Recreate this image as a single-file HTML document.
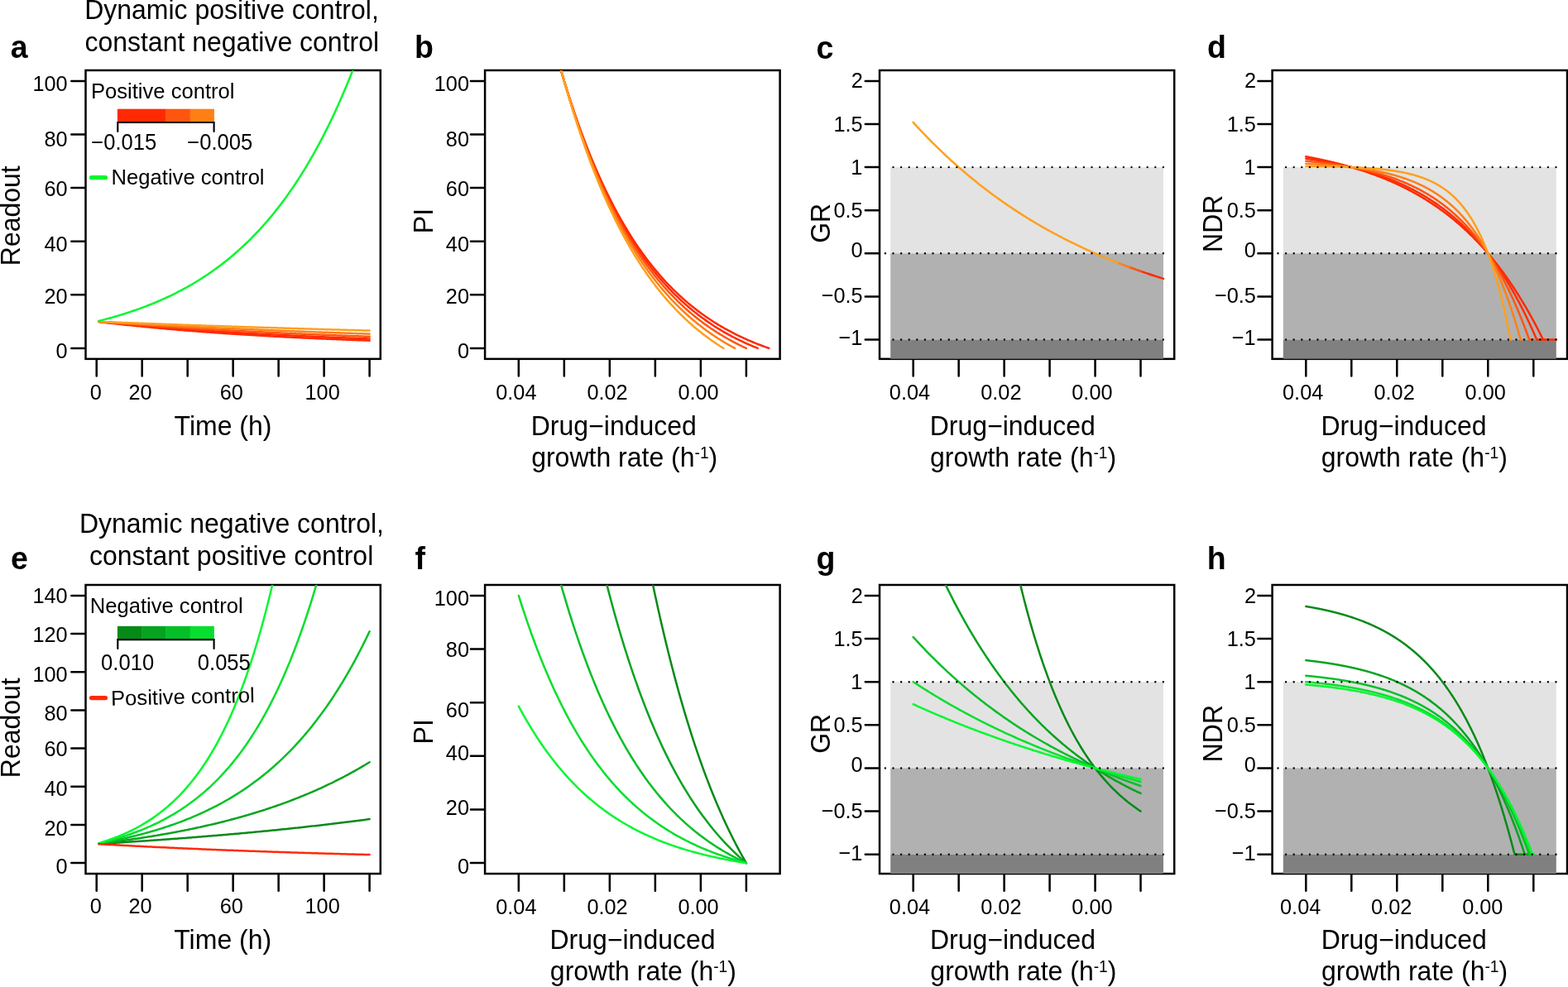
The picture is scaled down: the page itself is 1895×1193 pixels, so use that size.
<!DOCTYPE html>
<html lang="en"><head><meta charset="utf-8"><title>Drug response metrics: PI, GR and NDR</title>
<style>html,body{margin:0;padding:0;background:#fff}body{width:1895px;height:1193px;overflow:hidden}svg{display:block}text{font-family:'Liberation Sans', Arial, Helvetica, sans-serif;fill:#000}</style>
</head><body>
<svg xmlns="http://www.w3.org/2000/svg" width="1895" height="1193" viewBox="0 0 1895 1193">
<rect width="1895" height="1193" fill="#fff"/>
<defs>
<clipPath id="c00"><rect x="103.5" y="85" width="356.3" height="348.85"/></clipPath>
<clipPath id="c01"><rect x="586.1" y="85" width="356.5" height="348.85"/></clipPath>
<clipPath id="c02"><rect x="1063" y="85" width="356.2" height="348.85"/></clipPath>
<clipPath id="c03"><rect x="1537.6" y="85" width="356.4" height="348.85"/></clipPath>
<clipPath id="c10"><rect x="103.5" y="707" width="356.3" height="349.05"/></clipPath>
<clipPath id="c11"><rect x="586.1" y="707" width="356.5" height="349.05"/></clipPath>
<clipPath id="c12"><rect x="1063" y="707" width="356.2" height="349.05"/></clipPath>
<clipPath id="c13"><rect x="1537.6" y="707" width="356.4" height="349.05"/></clipPath>
</defs>
<g id="panel-a">
<rect x="103.5" y="85" width="356.3" height="348.85" fill="none" stroke="#000" stroke-width="2.5"/>
<path d="M116.7 435.1V454.45M171.68 435.1V454.45M226.67 435.1V454.45M281.65 435.1V454.45M336.63 435.1V454.45M391.62 435.1V454.45M446.6 435.1V454.45" stroke="#000" stroke-width="2.5" stroke-linecap="round" fill="none"/>
<path d="M102.25 420.93H86.3M102.25 356.33H86.3M102.25 291.73H86.3M102.25 227.12H86.3M102.25 162.52H86.3M102.25 97.92H86.3" stroke="#000" stroke-width="2.5" stroke-linecap="round" fill="none"/>
<polyline clip-path="url(#c00)" points="119.45,388.96 121.49,389.21 123.54,389.45 125.58,389.7 127.62,389.94 129.67,390.18 131.71,390.41 133.76,390.65 135.8,390.88 137.85,391.11 139.89,391.34 141.94,391.57 143.98,391.8 146.03,392.02 148.07,392.24 150.12,392.46 152.16,392.68 154.21,392.9 156.25,393.12 158.3,393.33 160.34,393.54 162.39,393.75 164.43,393.96 166.47,394.17 168.52,394.38 170.56,394.58 172.61,394.79 174.65,394.99 176.7,395.19 178.74,395.38 180.79,395.58 182.83,395.78 184.88,395.97 186.92,396.16 188.97,396.35 191.01,396.54 193.06,396.73 195.1,396.92 197.15,397.1 199.19,397.29 201.24,397.47 203.28,397.65 205.32,397.83 207.37,398.01 209.41,398.18 211.46,398.36 213.5,398.53 215.55,398.7 217.59,398.88 219.64,399.04 221.68,399.21 223.73,399.38 225.77,399.55 227.82,399.71 229.86,399.87 231.91,400.04 233.95,400.2 236,400.36 238.04,400.52 240.09,400.67 242.13,400.83 244.17,400.98 246.22,401.14 248.26,401.29 250.31,401.44 252.35,401.59 254.4,401.74 256.44,401.89 258.49,402.04 260.53,402.18 262.58,402.33 264.62,402.47 266.67,402.61 268.71,402.75 270.76,402.89 272.8,403.03 274.85,403.17 276.89,403.31 278.94,403.44 280.98,403.58 283.02,403.71 285.07,403.84 287.11,403.97 289.16,404.1 291.2,404.23 293.25,404.36 295.29,404.49 297.34,404.62 299.38,404.74 301.43,404.87 303.47,404.99 305.52,405.11 307.56,405.24 309.61,405.36 311.65,405.48 313.7,405.6 315.74,405.71 317.79,405.83 319.83,405.95 321.87,406.06 323.92,406.18 325.96,406.29 328.01,406.4 330.05,406.52 332.1,406.63 334.14,406.74 336.19,406.85 338.23,406.95 340.28,407.06 342.32,407.17 344.37,407.28 346.41,407.38 348.46,407.48 350.5,407.59 352.55,407.69 354.59,407.79 356.64,407.89 358.68,407.99 360.72,408.09 362.77,408.19 364.81,408.29 366.86,408.39 368.9,408.49 370.95,408.58 372.99,408.68 375.04,408.77 377.08,408.86 379.13,408.96 381.17,409.05 383.22,409.14 385.26,409.23 387.31,409.32 389.35,409.41 391.4,409.5 393.44,409.59 395.49,409.68 397.53,409.76 399.57,409.85 401.62,409.93 403.66,410.02 405.71,410.1 407.75,410.19 409.8,410.27 411.84,410.35 413.89,410.43 415.93,410.51 417.98,410.59 420.02,410.67 422.07,410.75 424.11,410.83 426.16,410.91 428.2,410.99 430.25,411.06 432.29,411.14 434.34,411.21 436.38,411.29 438.42,411.36 440.47,411.44 442.51,411.51 444.56,411.58 446.6,411.65" fill="none" stroke="#FF2A03" stroke-width="2.5" stroke-linecap="round" stroke-linejoin="round"/>
<polyline clip-path="url(#c00)" points="119.45,388.91 121.49,389.11 123.54,389.32 125.58,389.52 127.62,389.72 129.67,389.92 131.71,390.12 133.76,390.32 135.8,390.52 137.85,390.71 139.89,390.91 141.94,391.1 143.98,391.29 146.03,391.48 148.07,391.67 150.12,391.86 152.16,392.04 154.21,392.23 156.25,392.41 158.3,392.6 160.34,392.78 162.39,392.96 164.43,393.14 166.47,393.32 168.52,393.5 170.56,393.67 172.61,393.85 174.65,394.02 176.7,394.19 178.74,394.37 180.79,394.54 182.83,394.71 184.88,394.87 186.92,395.04 188.97,395.21 191.01,395.37 193.06,395.54 195.1,395.7 197.15,395.86 199.19,396.02 201.24,396.18 203.28,396.34 205.32,396.5 207.37,396.66 209.41,396.81 211.46,396.97 213.5,397.12 215.55,397.28 217.59,397.43 219.64,397.58 221.68,397.73 223.73,397.88 225.77,398.03 227.82,398.17 229.86,398.32 231.91,398.46 233.95,398.61 236,398.75 238.04,398.89 240.09,399.04 242.13,399.18 244.17,399.32 246.22,399.45 248.26,399.59 250.31,399.73 252.35,399.87 254.4,400 256.44,400.14 258.49,400.27 260.53,400.4 262.58,400.53 264.62,400.66 266.67,400.79 268.71,400.92 270.76,401.05 272.8,401.18 274.85,401.31 276.89,401.43 278.94,401.56 280.98,401.68 283.02,401.81 285.07,401.93 287.11,402.05 289.16,402.17 291.2,402.29 293.25,402.41 295.29,402.53 297.34,402.65 299.38,402.77 301.43,402.88 303.47,403 305.52,403.12 307.56,403.23 309.61,403.34 311.65,403.46 313.7,403.57 315.74,403.68 317.79,403.79 319.83,403.9 321.87,404.01 323.92,404.12 325.96,404.23 328.01,404.33 330.05,404.44 332.1,404.55 334.14,404.65 336.19,404.76 338.23,404.86 340.28,404.96 342.32,405.07 344.37,405.17 346.41,405.27 348.46,405.37 350.5,405.47 352.55,405.57 354.59,405.67 356.64,405.77 358.68,405.86 360.72,405.96 362.77,406.06 364.81,406.15 366.86,406.25 368.9,406.34 370.95,406.43 372.99,406.53 375.04,406.62 377.08,406.71 379.13,406.8 381.17,406.89 383.22,406.98 385.26,407.07 387.31,407.16 389.35,407.25 391.4,407.34 393.44,407.43 395.49,407.51 397.53,407.6 399.57,407.69 401.62,407.77 403.66,407.85 405.71,407.94 407.75,408.02 409.8,408.1 411.84,408.19 413.89,408.27 415.93,408.35 417.98,408.43 420.02,408.51 422.07,408.59 424.11,408.67 426.16,408.75 428.2,408.83 430.25,408.91 432.29,408.98 434.34,409.06 436.38,409.14 438.42,409.21 440.47,409.29 442.51,409.36 444.56,409.44 446.6,409.51" fill="none" stroke="#FF2D05" stroke-width="2.5" stroke-linecap="round" stroke-linejoin="round"/>
<polyline clip-path="url(#c00)" points="119.45,388.85 121.49,389.02 123.54,389.18 125.58,389.34 127.62,389.51 129.67,389.67 131.71,389.83 133.76,389.99 135.8,390.15 137.85,390.31 139.89,390.46 141.94,390.62 143.98,390.78 146.03,390.93 148.07,391.09 150.12,391.24 152.16,391.39 154.21,391.54 156.25,391.69 158.3,391.84 160.34,391.99 162.39,392.14 164.43,392.29 166.47,392.44 168.52,392.58 170.56,392.73 172.61,392.88 174.65,393.02 176.7,393.16 178.74,393.31 180.79,393.45 182.83,393.59 184.88,393.73 186.92,393.87 188.97,394.01 191.01,394.15 193.06,394.29 195.1,394.42 197.15,394.56 199.19,394.69 201.24,394.83 203.28,394.96 205.32,395.1 207.37,395.23 209.41,395.36 211.46,395.49 213.5,395.62 215.55,395.75 217.59,395.88 219.64,396.01 221.68,396.14 223.73,396.27 225.77,396.39 227.82,396.52 229.86,396.65 231.91,396.77 233.95,396.9 236,397.02 238.04,397.14 240.09,397.26 242.13,397.39 244.17,397.51 246.22,397.63 248.26,397.75 250.31,397.87 252.35,397.99 254.4,398.1 256.44,398.22 258.49,398.34 260.53,398.45 262.58,398.57 264.62,398.68 266.67,398.8 268.71,398.91 270.76,399.03 272.8,399.14 274.85,399.25 276.89,399.36 278.94,399.47 280.98,399.58 283.02,399.69 285.07,399.8 287.11,399.91 289.16,400.02 291.2,400.13 293.25,400.23 295.29,400.34 297.34,400.45 299.38,400.55 301.43,400.66 303.47,400.76 305.52,400.86 307.56,400.97 309.61,401.07 311.65,401.17 313.7,401.27 315.74,401.37 317.79,401.47 319.83,401.57 321.87,401.67 323.92,401.77 325.96,401.87 328.01,401.97 330.05,402.07 332.1,402.16 334.14,402.26 336.19,402.36 338.23,402.45 340.28,402.55 342.32,402.64 344.37,402.74 346.41,402.83 348.46,402.92 350.5,403.02 352.55,403.11 354.59,403.2 356.64,403.29 358.68,403.38 360.72,403.47 362.77,403.56 364.81,403.65 366.86,403.74 368.9,403.83 370.95,403.92 372.99,404 375.04,404.09 377.08,404.18 379.13,404.26 381.17,404.35 383.22,404.43 385.26,404.52 387.31,404.6 389.35,404.69 391.4,404.77 393.44,404.85 395.49,404.94 397.53,405.02 399.57,405.1 401.62,405.18 403.66,405.26 405.71,405.34 407.75,405.42 409.8,405.5 411.84,405.58 413.89,405.66 415.93,405.74 417.98,405.82 420.02,405.9 422.07,405.97 424.11,406.05 426.16,406.13 428.2,406.2 430.25,406.28 432.29,406.35 434.34,406.43 436.38,406.5 438.42,406.58 440.47,406.65 442.51,406.72 444.56,406.8 446.6,406.87" fill="none" stroke="#FF560F" stroke-width="2.5" stroke-linecap="round" stroke-linejoin="round"/>
<polyline clip-path="url(#c00)" points="119.45,388.8 121.49,388.92 123.54,389.04 125.58,389.17 127.62,389.29 129.67,389.41 131.71,389.53 133.76,389.65 135.8,389.77 137.85,389.9 139.89,390.01 141.94,390.13 143.98,390.25 146.03,390.37 148.07,390.49 150.12,390.61 152.16,390.72 154.21,390.84 156.25,390.96 158.3,391.07 160.34,391.19 162.39,391.3 164.43,391.42 166.47,391.53 168.52,391.64 170.56,391.76 172.61,391.87 174.65,391.98 176.7,392.09 178.74,392.2 180.79,392.32 182.83,392.43 184.88,392.54 186.92,392.65 188.97,392.75 191.01,392.86 193.06,392.97 195.1,393.08 197.15,393.19 199.19,393.29 201.24,393.4 203.28,393.51 205.32,393.61 207.37,393.72 209.41,393.82 211.46,393.93 213.5,394.03 215.55,394.14 217.59,394.24 219.64,394.34 221.68,394.44 223.73,394.55 225.77,394.65 227.82,394.75 229.86,394.85 231.91,394.95 233.95,395.05 236,395.15 238.04,395.25 240.09,395.35 242.13,395.45 244.17,395.55 246.22,395.65 248.26,395.74 250.31,395.84 252.35,395.94 254.4,396.03 256.44,396.13 258.49,396.23 260.53,396.32 262.58,396.42 264.62,396.51 266.67,396.6 268.71,396.7 270.76,396.79 272.8,396.88 274.85,396.98 276.89,397.07 278.94,397.16 280.98,397.25 283.02,397.35 285.07,397.44 287.11,397.53 289.16,397.62 291.2,397.71 293.25,397.8 295.29,397.89 297.34,397.98 299.38,398.06 301.43,398.15 303.47,398.24 305.52,398.33 307.56,398.41 309.61,398.5 311.65,398.59 313.7,398.67 315.74,398.76 317.79,398.85 319.83,398.93 321.87,399.02 323.92,399.1 325.96,399.18 328.01,399.27 330.05,399.35 332.1,399.44 334.14,399.52 336.19,399.6 338.23,399.68 340.28,399.77 342.32,399.85 344.37,399.93 346.41,400.01 348.46,400.09 350.5,400.17 352.55,400.25 354.59,400.33 356.64,400.41 358.68,400.49 360.72,400.57 362.77,400.65 364.81,400.72 366.86,400.8 368.9,400.88 370.95,400.96 372.99,401.03 375.04,401.11 377.08,401.19 379.13,401.26 381.17,401.34 383.22,401.42 385.26,401.49 387.31,401.57 389.35,401.64 391.4,401.72 393.44,401.79 395.49,401.86 397.53,401.94 399.57,402.01 401.62,402.08 403.66,402.16 405.71,402.23 407.75,402.3 409.8,402.37 411.84,402.44 413.89,402.52 415.93,402.59 417.98,402.66 420.02,402.73 422.07,402.8 424.11,402.87 426.16,402.94 428.2,403.01 430.25,403.08 432.29,403.15 434.34,403.21 436.38,403.28 438.42,403.35 440.47,403.42 442.51,403.49 444.56,403.55 446.6,403.62" fill="none" stroke="#FF7F17" stroke-width="2.5" stroke-linecap="round" stroke-linejoin="round"/>
<polyline clip-path="url(#c00)" points="119.45,388.74 121.49,388.82 123.54,388.91 125.58,388.99 127.62,389.07 129.67,389.15 131.71,389.23 133.76,389.32 135.8,389.4 137.85,389.48 139.89,389.56 141.94,389.64 143.98,389.72 146.03,389.8 148.07,389.88 150.12,389.96 152.16,390.04 154.21,390.12 156.25,390.2 158.3,390.28 160.34,390.36 162.39,390.44 164.43,390.52 166.47,390.59 168.52,390.67 170.56,390.75 172.61,390.83 174.65,390.9 176.7,390.98 178.74,391.06 180.79,391.14 182.83,391.21 184.88,391.29 186.92,391.37 188.97,391.44 191.01,391.52 193.06,391.59 195.1,391.67 197.15,391.74 199.19,391.82 201.24,391.89 203.28,391.97 205.32,392.04 207.37,392.12 209.41,392.19 211.46,392.27 213.5,392.34 215.55,392.41 217.59,392.49 219.64,392.56 221.68,392.63 223.73,392.71 225.77,392.78 227.82,392.85 229.86,392.92 231.91,393 233.95,393.07 236,393.14 238.04,393.21 240.09,393.28 242.13,393.35 244.17,393.42 246.22,393.49 248.26,393.57 250.31,393.64 252.35,393.71 254.4,393.78 256.44,393.85 258.49,393.92 260.53,393.99 262.58,394.05 264.62,394.12 266.67,394.19 268.71,394.26 270.76,394.33 272.8,394.4 274.85,394.47 276.89,394.54 278.94,394.6 280.98,394.67 283.02,394.74 285.07,394.81 287.11,394.87 289.16,394.94 291.2,395.01 293.25,395.07 295.29,395.14 297.34,395.21 299.38,395.27 301.43,395.34 303.47,395.41 305.52,395.47 307.56,395.54 309.61,395.6 311.65,395.67 313.7,395.73 315.74,395.8 317.79,395.86 319.83,395.93 321.87,395.99 323.92,396.05 325.96,396.12 328.01,396.18 330.05,396.25 332.1,396.31 334.14,396.37 336.19,396.44 338.23,396.5 340.28,396.56 342.32,396.62 344.37,396.69 346.41,396.75 348.46,396.81 350.5,396.87 352.55,396.94 354.59,397 356.64,397.06 358.68,397.12 360.72,397.18 362.77,397.24 364.81,397.3 366.86,397.37 368.9,397.43 370.95,397.49 372.99,397.55 375.04,397.61 377.08,397.67 379.13,397.73 381.17,397.79 383.22,397.85 385.26,397.91 387.31,397.96 389.35,398.02 391.4,398.08 393.44,398.14 395.49,398.2 397.53,398.26 399.57,398.32 401.62,398.38 403.66,398.43 405.71,398.49 407.75,398.55 409.8,398.61 411.84,398.66 413.89,398.72 415.93,398.78 417.98,398.84 420.02,398.89 422.07,398.95 424.11,399.01 426.16,399.06 428.2,399.12 430.25,399.17 432.29,399.23 434.34,399.29 436.38,399.34 438.42,399.4 440.47,399.45 442.51,399.51 444.56,399.56 446.6,399.62" fill="none" stroke="#FFA01E" stroke-width="2.5" stroke-linecap="round" stroke-linejoin="round"/>
<polyline clip-path="url(#c00)" points="119.45,387.95 121.49,387.44 123.54,386.91 125.58,386.38 127.62,385.85 129.67,385.3 131.71,384.74 133.76,384.18 135.8,383.61 137.85,383.02 139.89,382.43 141.94,381.83 143.98,381.22 146.03,380.61 148.07,379.98 150.12,379.34 152.16,378.69 154.21,378.03 156.25,377.36 158.3,376.68 160.34,376 162.39,375.29 164.43,374.58 166.47,373.86 168.52,373.13 170.56,372.38 172.61,371.63 174.65,370.86 176.7,370.08 178.74,369.28 180.79,368.48 182.83,367.66 184.88,366.83 186.92,365.99 188.97,365.13 191.01,364.26 193.06,363.38 195.1,362.48 197.15,361.57 199.19,360.65 201.24,359.71 203.28,358.75 205.32,357.78 207.37,356.8 209.41,355.8 211.46,354.78 213.5,353.75 215.55,352.71 217.59,351.64 219.64,350.56 221.68,349.47 223.73,348.35 225.77,347.22 227.82,346.07 229.86,344.91 231.91,343.72 233.95,342.52 236,341.3 238.04,340.05 240.09,338.79 242.13,337.51 244.17,336.21 246.22,334.89 248.26,333.55 250.31,332.19 252.35,330.81 254.4,329.4 256.44,327.98 258.49,326.53 260.53,325.06 262.58,323.56 264.62,322.04 266.67,320.5 268.71,318.94 270.76,317.35 272.8,315.73 274.85,314.09 276.89,312.43 278.94,310.74 280.98,309.02 283.02,307.28 285.07,305.5 287.11,303.71 289.16,301.88 291.2,300.02 293.25,298.14 295.29,296.22 297.34,294.28 299.38,292.31 301.43,290.3 303.47,288.27 305.52,286.2 307.56,284.1 309.61,281.97 311.65,279.8 313.7,277.6 315.74,275.37 317.79,273.1 319.83,270.79 321.87,268.45 323.92,266.08 325.96,263.66 328.01,261.21 330.05,258.72 332.1,256.19 334.14,253.63 336.19,251.02 338.23,248.37 340.28,245.68 342.32,242.95 344.37,240.18 346.41,237.36 348.46,234.5 350.5,231.59 352.55,228.64 354.59,225.64 356.64,222.6 358.68,219.51 360.72,216.37 362.77,213.18 364.81,209.94 366.86,206.66 368.9,203.32 370.95,199.92 372.99,196.48 375.04,192.98 377.08,189.43 379.13,185.82 381.17,182.16 383.22,178.43 385.26,174.65 387.31,170.82 389.35,166.92 391.4,162.96 393.44,158.94 395.49,154.85 397.53,150.71 399.57,146.5 401.62,142.22 403.66,137.87 405.71,133.46 407.75,128.98 409.8,124.43 411.84,119.81 413.89,115.12 415.93,110.35 417.98,105.51 420.02,100.59 422.07,95.6 424.11,90.53 426.16,85.38 428.2,80.15 430.25,74.84 432.29,69.45 434.34,63.97 436.38,58.4 438.42,52.75 440.47,47.01 442.51,41.19 444.56,35.27 446.6,29.26" fill="none" stroke="#06F730" stroke-width="2.5" stroke-linecap="round" stroke-linejoin="round"/>
</g>
<g id="panel-b">
<rect x="586.1" y="85" width="356.5" height="348.85" fill="none" stroke="#000" stroke-width="2.5"/>
<path d="M626.81 435.1V454.45M681.83 435.1V454.45M736.84 435.1V454.45M791.86 435.1V454.45M846.87 435.1V454.45M901.89 435.1V454.45" stroke="#000" stroke-width="2.5" stroke-linecap="round" fill="none"/>
<path d="M584.85 420.93H568.9M584.85 356.33H568.9M584.85 291.73H568.9M584.85 227.12H568.9M584.85 162.52H568.9M584.85 97.92H568.9" stroke="#000" stroke-width="2.5" stroke-linecap="round" fill="none"/>
<polyline clip-path="url(#c01)" points="626.81,-135.87 628.7,-125.75 630.59,-115.8 632.48,-106.02 634.38,-96.41 636.27,-86.96 638.16,-77.67 640.05,-68.54 641.94,-59.56 643.83,-50.74 645.72,-42.07 647.61,-33.54 649.51,-25.16 651.4,-16.92 653.29,-8.82 655.18,-0.86 657.07,6.96 658.96,14.65 660.85,22.21 662.74,29.64 664.63,36.95 666.53,44.13 668.42,51.19 670.31,58.13 672.2,64.95 674.09,71.66 675.98,78.25 677.87,84.73 679.76,91.1 681.65,97.36 683.55,103.51 685.44,109.56 687.33,115.51 689.22,121.35 691.11,127.1 693,132.75 694.89,138.3 696.78,143.76 698.68,149.12 700.57,154.39 702.46,159.58 704.35,164.67 706.24,169.68 708.13,174.61 710.02,179.45 711.91,184.2 713.8,188.88 715.7,193.48 717.59,198 719.48,202.44 721.37,206.81 723.26,211.1 725.15,215.32 727.04,219.47 728.93,223.54 730.82,227.55 732.72,231.49 734.61,235.36 736.5,239.17 738.39,242.91 740.28,246.59 742.17,250.21 744.06,253.76 745.95,257.25 747.85,260.69 749.74,264.06 751.63,267.38 753.52,270.64 755.41,273.85 757.3,277 759.19,280.1 761.08,283.15 762.97,286.14 764.87,289.08 766.76,291.98 768.65,294.82 770.54,297.62 772.43,300.36 774.32,303.06 776.21,305.72 778.1,308.33 780,310.89 781.89,313.42 783.78,315.9 785.67,318.33 787.56,320.73 789.45,323.08 791.34,325.4 793.23,327.67 795.12,329.91 797.02,332.11 798.91,334.27 800.8,336.39 802.69,338.48 804.58,340.53 806.47,342.55 808.36,344.54 810.25,346.49 812.14,348.4 814.04,350.29 815.93,352.14 817.82,353.96 819.71,355.75 821.6,357.51 823.49,359.24 825.38,360.94 827.27,362.61 829.17,364.25 831.06,365.86 832.95,367.45 834.84,369.01 836.73,370.54 838.62,372.05 840.51,373.53 842.4,374.99 844.29,376.42 846.19,377.83 848.08,379.21 849.97,380.57 851.86,381.91 853.75,383.22 855.64,384.51 857.53,385.78 859.42,387.03 861.31,388.26 863.21,389.47 865.1,390.65 866.99,391.82 868.88,392.96 870.77,394.09 872.66,395.19 874.55,396.28 876.44,397.35 878.34,398.4 880.23,399.44 882.12,400.45 884.01,401.45 885.9,402.43 887.79,403.4 889.68,404.35 891.57,405.28 893.46,406.2 895.36,407.1 897.25,407.98 899.14,408.85 901.03,409.71 902.92,410.55 904.81,411.38 906.7,412.19 908.59,412.99 910.48,413.77 912.38,414.55 914.27,415.3 916.16,416.05 918.05,416.78 919.94,417.51 921.83,418.21 923.72,418.91 925.61,419.59 927.51,420.27 929.4,420.93" fill="none" stroke="#FF2A03" stroke-width="2.5" stroke-linecap="round" stroke-linejoin="round"/>
<polyline clip-path="url(#c01)" points="626.81,-139.61 628.62,-129.79 630.42,-120.13 632.23,-110.63 634.03,-101.28 635.84,-92.08 637.64,-83.03 639.45,-74.13 641.25,-65.38 643.06,-56.76 644.86,-48.29 646.67,-39.95 648.47,-31.75 650.28,-23.69 652.08,-15.75 653.89,-7.94 655.69,-0.26 657.5,7.29 659.3,14.73 661.11,22.04 662.92,29.23 664.72,36.31 666.53,43.27 668.33,50.12 670.14,56.86 671.94,63.49 673.75,70.01 675.55,76.42 677.36,82.73 679.16,88.94 680.97,95.05 682.77,101.06 684.58,106.97 686.38,112.78 688.19,118.5 689.99,124.13 691.8,129.66 693.6,135.11 695.41,140.46 697.21,145.73 699.02,150.92 700.82,156.02 702.63,161.04 704.43,165.97 706.24,170.83 708.05,175.61 709.85,180.31 711.66,184.93 713.46,189.48 715.27,193.95 717.07,198.35 718.88,202.68 720.68,206.94 722.49,211.13 724.29,215.25 726.1,219.31 727.9,223.3 729.71,227.22 731.51,231.09 733.32,234.88 735.12,238.62 736.93,242.3 738.73,245.91 740.54,249.47 742.34,252.97 744.15,256.41 745.95,259.8 747.76,263.13 749.56,266.41 751.37,269.63 753.17,272.81 754.98,275.93 756.79,279 758.59,282.02 760.4,284.99 762.2,287.91 764.01,290.79 765.81,293.61 767.62,296.4 769.42,299.13 771.23,301.83 773.03,304.48 774.84,307.08 776.64,309.65 778.45,312.17 780.25,314.65 782.06,317.09 783.86,319.49 785.67,321.86 787.47,324.18 789.28,326.47 791.08,328.71 792.89,330.93 794.69,333.1 796.5,335.25 798.3,337.35 800.11,339.42 801.92,341.46 803.72,343.47 805.53,345.44 807.33,347.38 809.14,349.29 810.94,351.17 812.75,353.02 814.55,354.84 816.36,356.62 818.16,358.38 819.97,360.11 821.77,361.82 823.58,363.49 825.38,365.14 827.19,366.76 828.99,368.35 830.8,369.92 832.6,371.47 834.41,372.98 836.21,374.48 838.02,375.95 839.82,377.39 841.63,378.81 843.43,380.21 845.24,381.59 847.05,382.94 848.85,384.28 850.66,385.59 852.46,386.87 854.27,388.14 856.07,389.39 857.88,390.62 859.68,391.82 861.49,393.01 863.29,394.18 865.1,395.33 866.9,396.46 868.71,397.57 870.51,398.67 872.32,399.74 874.12,400.8 875.93,401.84 877.73,402.87 879.54,403.88 881.34,404.87 883.15,405.84 884.95,406.8 886.76,407.75 888.56,408.68 890.37,409.59 892.17,410.49 893.98,411.37 895.79,412.24 897.59,413.1 899.4,413.94 901.2,414.77 903.01,415.58 904.81,416.39 906.62,417.17 908.42,417.95 910.23,418.71 912.03,419.46 913.84,420.2 915.64,420.93" fill="none" stroke="#FF2D05" stroke-width="2.5" stroke-linecap="round" stroke-linejoin="round"/>
<polyline clip-path="url(#c01)" points="626.81,-143.99 628.53,-134.46 630.25,-125.08 631.97,-115.84 633.69,-106.75 635.41,-97.8 637.13,-88.99 638.85,-80.31 640.57,-71.77 642.28,-63.36 644,-55.08 645.72,-46.93 647.44,-38.9 649.16,-31 650.88,-23.22 652.6,-15.56 654.32,-8.02 656.04,-0.6 657.76,6.71 659.48,13.91 661.2,20.99 662.92,27.97 664.63,34.83 666.35,41.59 668.07,48.25 669.79,54.8 671.51,61.25 673.23,67.61 674.95,73.86 676.67,80.02 678.39,86.08 680.11,92.05 681.83,97.92 683.55,103.7 685.27,109.4 686.98,115.01 688.7,120.53 690.42,125.96 692.14,131.31 693.86,136.58 695.58,141.76 697.3,146.87 699.02,151.9 700.74,156.85 702.46,161.72 704.18,166.52 705.9,171.24 707.62,175.89 709.33,180.47 711.05,184.97 712.77,189.41 714.49,193.78 716.21,198.08 717.93,202.31 719.65,206.48 721.37,210.59 723.09,214.63 724.81,218.61 726.53,222.52 728.25,226.38 729.97,230.17 731.68,233.91 733.4,237.59 735.12,241.21 736.84,244.78 738.56,248.29 740.28,251.75 742,255.15 743.72,258.51 745.44,261.8 747.16,265.05 748.88,268.25 750.6,271.4 752.32,274.5 754.03,277.55 755.75,280.55 757.47,283.51 759.19,286.43 760.91,289.29 762.63,292.12 764.35,294.89 766.07,297.63 767.79,300.32 769.51,302.98 771.23,305.59 772.95,308.16 774.67,310.69 776.38,313.18 778.1,315.63 779.82,318.05 781.54,320.43 783.26,322.77 784.98,325.07 786.7,327.34 788.42,329.58 790.14,331.77 791.86,333.94 793.58,336.07 795.3,338.17 797.02,340.24 798.73,342.27 800.45,344.27 802.17,346.25 803.89,348.19 805.61,350.1 807.33,351.98 809.05,353.83 810.77,355.66 812.49,357.45 814.21,359.22 815.93,360.96 817.65,362.68 819.37,364.36 821.08,366.02 822.8,367.66 824.52,369.27 826.24,370.86 827.96,372.42 829.68,373.95 831.4,375.47 833.12,376.95 834.84,378.42 836.56,379.86 838.28,381.29 840,382.68 841.72,384.06 843.43,385.42 845.15,386.75 846.87,388.07 848.59,389.36 850.31,390.64 852.03,391.89 853.75,393.13 855.47,394.34 857.19,395.54 858.91,396.72 860.63,397.88 862.35,399.02 864.07,400.15 865.78,401.25 867.5,402.34 869.22,403.42 870.94,404.47 872.66,405.51 874.38,406.54 876.1,407.55 877.82,408.54 879.54,409.52 881.26,410.48 882.98,411.43 884.7,412.36 886.42,413.28 888.13,414.18 889.85,415.07 891.57,415.95 893.29,416.81 895.01,417.66 896.73,418.5 898.45,419.32 900.17,420.13 901.89,420.93" fill="none" stroke="#FF560F" stroke-width="2.5" stroke-linecap="round" stroke-linejoin="round"/>
<polyline clip-path="url(#c01)" points="626.81,-149.15 628.44,-139.9 630.08,-130.79 631.71,-121.81 633.34,-112.96 634.98,-104.25 636.61,-95.66 638.24,-87.2 639.88,-78.86 641.51,-70.65 643.14,-62.55 644.78,-54.58 646.41,-46.72 648.04,-38.98 649.68,-31.35 651.31,-23.84 652.94,-16.43 654.58,-9.14 656.21,-1.95 657.84,5.14 659.48,12.12 661.11,18.99 662.74,25.77 664.38,32.44 666.01,39.02 667.64,45.5 669.28,51.89 670.91,58.18 672.54,64.38 674.18,70.48 675.81,76.5 677.44,82.43 679.08,88.27 680.71,94.03 682.34,99.7 683.98,105.29 685.61,110.8 687.24,116.22 688.88,121.57 690.51,126.83 692.14,132.02 693.78,137.14 695.41,142.17 697.04,147.14 698.68,152.03 700.31,156.85 701.94,161.59 703.58,166.27 705.21,170.88 706.84,175.42 708.47,179.9 710.11,184.31 711.74,188.65 713.37,192.93 715.01,197.15 716.64,201.3 718.27,205.4 719.91,209.43 721.54,213.41 723.17,217.32 724.81,221.18 726.44,224.98 728.07,228.73 729.71,232.42 731.34,236.05 732.97,239.64 734.61,243.17 736.24,246.65 737.87,250.07 739.51,253.45 741.14,256.78 742.77,260.06 744.41,263.29 746.04,266.47 747.67,269.6 749.31,272.69 750.94,275.74 752.57,278.74 754.21,281.69 755.84,284.6 757.47,287.47 759.11,290.3 760.74,293.08 762.37,295.83 764.01,298.53 765.64,301.2 767.27,303.82 768.91,306.41 770.54,308.96 772.17,311.47 773.81,313.94 775.44,316.38 777.07,318.78 778.71,321.15 780.34,323.48 781.97,325.77 783.61,328.04 785.24,330.27 786.87,332.47 788.51,334.63 790.14,336.76 791.77,338.87 793.41,340.94 795.04,342.98 796.67,344.99 798.3,346.97 799.94,348.92 801.57,350.84 803.2,352.74 804.84,354.61 806.47,356.44 808.1,358.26 809.74,360.04 811.37,361.8 813,363.54 814.64,365.24 816.27,366.93 817.9,368.59 819.54,370.22 821.17,371.83 822.8,373.41 824.44,374.98 826.07,376.52 827.7,378.03 829.34,379.53 830.97,381 832.6,382.45 834.24,383.88 835.87,385.29 837.5,386.68 839.14,388.05 840.77,389.4 842.4,390.72 844.04,392.03 845.67,393.32 847.3,394.59 848.94,395.84 850.57,397.08 852.2,398.29 853.84,399.49 855.47,400.67 857.1,401.83 858.74,402.97 860.37,404.1 862,405.21 863.64,406.31 865.27,407.39 866.9,408.45 868.54,409.5 870.17,410.53 871.8,411.55 873.44,412.55 875.07,413.54 876.7,414.51 878.34,415.47 879.97,416.41 881.6,417.34 883.23,418.26 884.87,419.16 886.5,420.05 888.13,420.93" fill="none" stroke="#FF7F17" stroke-width="2.5" stroke-linecap="round" stroke-linejoin="round"/>
<polyline clip-path="url(#c01)" points="626.81,-155.27 628.36,-146.29 629.91,-137.43 631.45,-128.7 633,-120.08 634.55,-111.59 636.1,-103.22 637.64,-94.96 639.19,-86.82 640.74,-78.79 642.28,-70.88 643.83,-63.07 645.38,-55.38 646.93,-47.79 648.47,-40.3 650.02,-32.92 651.57,-25.65 653.12,-18.47 654.66,-11.4 656.21,-4.42 657.76,2.46 659.3,9.24 660.85,15.93 662.4,22.53 663.95,29.03 665.49,35.44 667.04,41.77 668.59,48 670.14,54.15 671.68,60.21 673.23,66.19 674.78,72.09 676.33,77.9 677.87,83.63 679.42,89.28 680.97,94.86 682.51,100.35 684.06,105.77 685.61,111.12 687.16,116.38 688.7,121.58 690.25,126.7 691.8,131.75 693.35,136.74 694.89,141.65 696.44,146.49 697.99,151.27 699.53,155.98 701.08,160.62 702.63,165.2 704.18,169.71 705.72,174.17 707.27,178.56 708.82,182.88 710.37,187.15 711.91,191.36 713.46,195.51 715.01,199.61 716.56,203.64 718.1,207.62 719.65,211.54 721.2,215.41 722.74,219.23 724.29,222.99 725.84,226.7 727.39,230.36 728.93,233.96 730.48,237.52 732.03,241.03 733.58,244.49 735.12,247.9 736.67,251.26 738.22,254.57 739.76,257.84 741.31,261.07 742.86,264.25 744.41,267.38 745.95,270.47 747.5,273.52 749.05,276.52 750.6,279.49 752.14,282.41 753.69,285.29 755.24,288.13 756.79,290.93 758.33,293.7 759.88,296.42 761.43,299.11 762.97,301.76 764.52,304.37 766.07,306.94 767.62,309.48 769.16,311.99 770.71,314.46 772.26,316.89 773.81,319.29 775.35,321.66 776.9,323.99 778.45,326.29 780,328.56 781.54,330.8 783.09,333.01 784.64,335.19 786.18,337.33 787.73,339.45 789.28,341.53 790.83,343.59 792.37,345.62 793.92,347.62 795.47,349.59 797.02,351.54 798.56,353.45 800.11,355.35 801.66,357.21 803.2,359.05 804.75,360.86 806.3,362.65 807.85,364.41 809.39,366.15 810.94,367.87 812.49,369.56 814.04,371.22 815.58,372.87 817.13,374.49 818.68,376.09 820.23,377.66 821.77,379.21 823.32,380.75 824.87,382.26 826.41,383.75 827.96,385.22 829.51,386.66 831.06,388.09 832.6,389.5 834.15,390.89 835.7,392.26 837.25,393.61 838.79,394.94 840.34,396.25 841.89,397.55 843.43,398.82 844.98,400.08 846.53,401.32 848.08,402.55 849.62,403.76 851.17,404.95 852.72,406.12 854.27,407.28 855.81,408.42 857.36,409.54 858.91,410.65 860.46,411.75 862,412.82 863.55,413.89 865.1,414.94 866.64,415.97 868.19,416.99 869.74,418 871.29,418.99 872.83,419.97 874.38,420.93" fill="none" stroke="#FFA01E" stroke-width="2.5" stroke-linecap="round" stroke-linejoin="round"/>
</g>
<g id="panel-c">
<rect x="1063" y="85" width="356.2" height="348.85" fill="none" stroke="#000" stroke-width="2.5"/>
<path d="M1103.68 435.1V454.45M1158.65 435.1V454.45M1213.62 435.1V454.45M1268.58 435.1V454.45M1323.55 435.1V454.45M1378.52 435.1V454.45" stroke="#000" stroke-width="2.5" stroke-linecap="round" fill="none"/>
<path d="M1061.75 97.92H1045.8M1061.75 150.02H1045.8M1061.75 202.12H1045.8M1061.75 254.22H1045.8M1061.75 306.31H1045.8M1061.75 358.41H1045.8M1061.75 410.51H1045.8" stroke="#000" stroke-width="2.5" stroke-linecap="round" fill="none"/>
<rect clip-path="url(#c02)" x="1076.19" y="202.12" width="329.81" height="104.2" fill="#E3E3E3"/>
<rect clip-path="url(#c02)" x="1076.19" y="306.31" width="329.81" height="104.2" fill="#B1B1B1"/>
<rect clip-path="url(#c02)" x="1076.19" y="410.51" width="329.81" height="416.79" fill="#808080"/>
<polyline clip-path="url(#c02)" points="1388.97,331.36 1390.39,331.83 1391.81,332.3 1393.23,332.77 1394.65,333.23 1396.07,333.69 1397.49,334.15 1398.91,334.6 1400.33,335.05 1401.75,335.5 1403.17,335.95 1404.59,336.39 1406.01,336.83" fill="none" stroke="#FF2A03" stroke-width="2.5" stroke-linecap="round" stroke-linejoin="round"/>
<polyline clip-path="url(#c02)" points="1375.22,326.65 1376.64,327.15 1378.06,327.65 1379.48,328.14 1380.9,328.63 1382.32,329.12 1383.74,329.6 1385.16,330.09 1386.58,330.56 1388.01,331.04 1389.43,331.51 1390.85,331.98 1392.27,332.45" fill="none" stroke="#FF2D05" stroke-width="2.5" stroke-linecap="round" stroke-linejoin="round"/>
<polyline clip-path="url(#c02)" points="1361.48,321.67 1362.9,322.2 1364.32,322.72 1365.74,323.25 1367.16,323.76 1368.58,324.28 1370,324.79 1371.42,325.3 1372.84,325.81 1374.26,326.31 1375.68,326.82 1377.1,327.31 1378.52,327.81" fill="none" stroke="#FF560F" stroke-width="2.5" stroke-linecap="round" stroke-linejoin="round"/>
<polyline clip-path="url(#c02)" points="1347.74,316.39 1349.16,316.95 1350.58,317.5 1352,318.06 1353.42,318.61 1354.84,319.15 1356.26,319.7 1357.68,320.24 1359.1,320.77 1360.52,321.31 1361.94,321.84 1363.36,322.37 1364.78,322.89" fill="none" stroke="#FF7F17" stroke-width="2.5" stroke-linecap="round" stroke-linejoin="round"/>
<polyline clip-path="url(#c02)" points="1103.68,147.95 1105.22,149.65 1106.77,151.34 1108.32,153.02 1109.86,154.69 1111.41,156.34 1112.95,157.99 1114.5,159.63 1116.05,161.25 1117.59,162.87 1119.14,164.47 1120.68,166.06 1122.23,167.65 1123.78,169.22 1125.32,170.78 1126.87,172.34 1128.41,173.88 1129.96,175.41 1131.51,176.93 1133.05,178.45 1134.6,179.95 1136.14,181.44 1137.69,182.93 1139.24,184.4 1140.78,185.87 1142.33,187.32 1143.87,188.77 1145.42,190.2 1146.97,191.63 1148.51,193.05 1150.06,194.46 1151.6,195.86 1153.15,197.25 1154.7,198.63 1156.24,200 1157.79,201.36 1159.33,202.72 1160.88,204.06 1162.43,205.4 1163.97,206.73 1165.52,208.05 1167.06,209.36 1168.61,210.66 1170.16,211.96 1171.7,213.24 1173.25,214.52 1174.79,215.79 1176.34,217.05 1177.89,218.31 1179.43,219.55 1180.98,220.79 1182.52,222.02 1184.07,223.24 1185.62,224.45 1187.16,225.66 1188.71,226.85 1190.25,228.04 1191.8,229.22 1193.35,230.4 1194.89,231.57 1196.44,232.72 1197.98,233.88 1199.53,235.02 1201.08,236.16 1202.62,237.29 1204.17,238.41 1205.71,239.52 1207.26,240.63 1208.81,241.73 1210.35,242.82 1211.9,243.91 1213.44,244.99 1214.99,246.06 1216.54,247.13 1218.08,248.18 1219.63,249.24 1221.17,250.28 1222.72,251.32 1224.27,252.35 1225.81,253.37 1227.36,254.39 1228.9,255.4 1230.45,256.41 1232,257.41 1233.54,258.4 1235.09,259.38 1236.63,260.36 1238.18,261.33 1239.73,262.3 1241.27,263.26 1242.82,264.21 1244.36,265.16 1245.91,266.1 1247.46,267.04 1249,267.97 1250.55,268.89 1252.09,269.81 1253.64,270.72 1255.19,271.62 1256.73,272.52 1258.28,273.42 1259.82,274.31 1261.37,275.19 1262.92,276.07 1264.46,276.94 1266.01,277.8 1267.55,278.66 1269.1,279.51 1270.65,280.36 1272.19,281.21 1273.74,282.04 1275.28,282.88 1276.83,283.7 1278.38,284.52 1279.92,285.34 1281.47,286.15 1283.01,286.96 1284.56,287.76 1286.11,288.55 1287.65,289.34 1289.2,290.13 1290.74,290.91 1292.29,291.68 1293.84,292.45 1295.38,293.22 1296.93,293.97 1298.47,294.73 1300.02,295.48 1301.57,296.22 1303.11,296.96 1304.66,297.7 1306.2,298.43 1307.75,299.16 1309.3,299.88 1310.84,300.59 1312.39,301.31 1313.93,302.01 1315.48,302.72 1317.03,303.42 1318.57,304.11 1320.12,304.8 1321.66,305.48 1323.21,306.16 1324.76,306.84 1326.3,307.51 1327.85,308.18 1329.39,308.84 1330.94,309.5 1332.49,310.15 1334.03,310.8 1335.58,311.45 1337.12,312.09 1338.67,312.73 1340.22,313.36 1341.76,313.99 1343.31,314.62 1344.85,315.24 1346.4,315.85 1347.95,316.47 1349.49,317.08 1351.04,317.68" fill="none" stroke="#FFA01E" stroke-width="2.5" stroke-linecap="round" stroke-linejoin="round"/>
<path d="M1079.5 202.12H1407.01" stroke="#000" stroke-width="2.4" stroke-linecap="round" stroke-dasharray="0.01 9.59" fill="none"/>
<path d="M1069.9 306.31H1407.01" stroke="#000" stroke-width="2.4" stroke-linecap="round" stroke-dasharray="0.01 9.59" fill="none"/>
<path d="M1079.5 410.51H1407.01" stroke="#000" stroke-width="2.4" stroke-linecap="round" stroke-dasharray="0.01 9.59" fill="none"/>
</g>
<g id="panel-d">
<rect x="1537.6" y="85" width="356.4" height="348.85" fill="none" stroke="#000" stroke-width="2.5"/>
<path d="M1578.3 435.1V454.45M1633.3 435.1V454.45M1688.3 435.1V454.45M1743.3 435.1V454.45M1798.3 435.1V454.45M1853.3 435.1V454.45" stroke="#000" stroke-width="2.5" stroke-linecap="round" fill="none"/>
<path d="M1536.35 97.92H1520.4M1536.35 150.02H1520.4M1536.35 202.12H1520.4M1536.35 254.22H1520.4M1536.35 306.31H1520.4M1536.35 358.41H1520.4M1536.35 410.51H1520.4" stroke="#000" stroke-width="2.5" stroke-linecap="round" fill="none"/>
<rect clip-path="url(#c03)" x="1550.8" y="202.12" width="330" height="104.2" fill="#E3E3E3"/>
<rect clip-path="url(#c03)" x="1550.8" y="306.31" width="330" height="104.2" fill="#B1B1B1"/>
<rect clip-path="url(#c03)" x="1550.8" y="410.51" width="330" height="416.79" fill="#808080"/>
<polyline clip-path="url(#c03)" points="1578.3,189.26 1579.06,189.4 1579.81,189.54 1580.57,189.69 1581.32,189.83 1582.08,189.97 1582.84,190.11 1583.59,190.26 1584.35,190.41 1585.11,190.55 1585.86,190.7 1586.62,190.85 1587.38,191 1588.13,191.15 1588.89,191.3 1589.64,191.45 1590.4,191.61 1591.16,191.76 1591.91,191.92 1592.67,192.07 1593.42,192.23 1594.18,192.39 1594.94,192.55 1595.69,192.71 1596.45,192.87 1597.21,193.03 1597.96,193.19 1598.72,193.36 1599.47,193.52 1600.23,193.69 1600.99,193.86 1601.74,194.03 1602.5,194.2 1603.26,194.37 1604.01,194.54 1604.77,194.71 1605.52,194.89 1606.28,195.06 1607.04,195.24 1607.79,195.42 1608.55,195.6 1609.31,195.78 1610.06,195.96 1610.82,196.14 1611.57,196.32 1612.33,196.51 1613.09,196.69 1613.84,196.88 1614.6,197.07 1615.36,197.26 1616.11,197.45 1616.87,197.64 1617.62,197.83 1618.38,198.03 1619.14,198.22 1619.89,198.42 1620.65,198.61 1621.41,198.81 1622.16,199.01 1622.92,199.22 1623.67,199.42 1624.43,199.62 1625.19,199.83 1625.94,200.04 1626.7,200.24 1627.46,200.45 1628.21,200.66 1628.97,200.88 1629.72,201.09 1630.48,201.3 1631.24,201.52 1631.99,201.74 1632.75,201.96 1633.51,202.18 1634.26,202.4 1635.02,202.62 1635.77,202.85 1636.53,203.07 1637.29,203.3 1638.04,203.53 1638.8,203.76 1639.56,203.99 1640.31,204.22 1641.07,204.46 1641.82,204.7 1642.58,204.93 1643.34,205.17 1644.09,205.41 1644.85,205.66 1645.61,205.9 1646.36,206.15 1647.12,206.39 1647.88,206.64 1648.63,206.89 1649.39,207.14 1650.14,207.4 1650.9,207.65 1651.66,207.91 1652.41,208.17 1653.17,208.43 1653.92,208.69 1654.68,208.95 1655.44,209.22 1656.19,209.48 1656.95,209.75 1657.71,210.02 1658.46,210.29 1659.22,210.57 1659.97,210.84 1660.73,211.12 1661.49,211.4 1662.24,211.68 1663,211.96 1663.76,212.25 1664.51,212.53 1665.27,212.82 1666.02,213.11 1666.78,213.4 1667.54,213.69 1668.29,213.99 1669.05,214.29 1669.81,214.58 1670.56,214.89 1671.32,215.19 1672.07,215.49 1672.83,215.8 1673.59,216.11 1674.34,216.42 1675.1,216.73 1675.86,217.05 1676.61,217.36 1677.37,217.68 1678.12,218 1678.88,218.32 1679.64,218.65 1680.39,218.98 1681.15,219.3 1681.91,219.64 1682.66,219.97 1683.42,220.3 1684.17,220.64 1684.93,220.98 1685.69,221.32 1686.44,221.67 1687.2,222.01 1687.96,222.36 1688.71,222.71 1689.47,223.06 1690.22,223.42 1690.98,223.77 1691.74,224.13 1692.49,224.5 1693.25,224.86 1694.01,225.23 1694.76,225.59 1695.52,225.97 1696.27,226.34 1697.03,226.72 1697.79,227.09 1698.54,227.47 1699.3,227.86 1700.06,228.24 1700.81,228.63 1701.57,229.02 1702.33,229.41 1703.08,229.81 1703.84,230.21 1704.59,230.61 1705.35,231.01 1706.11,231.42 1706.86,231.82 1707.62,232.23 1708.38,232.65 1709.13,233.06 1709.89,233.48 1710.64,233.9 1711.4,234.33 1712.16,234.75 1712.91,235.18 1713.67,235.62 1714.42,236.05 1715.18,236.49 1715.94,236.93 1716.69,237.37 1717.45,237.82 1718.21,238.27 1718.96,238.72 1719.72,239.17 1720.47,239.63 1721.23,240.09 1721.99,240.56 1722.74,241.02 1723.5,241.49 1724.26,241.96 1725.01,242.44 1725.77,242.92 1726.52,243.4 1727.28,243.88 1728.04,244.37 1728.79,244.86 1729.55,245.36 1730.31,245.85 1731.06,246.35 1731.82,246.86 1732.57,247.36 1733.33,247.87 1734.09,248.39 1734.84,248.9 1735.6,249.42 1736.36,249.94 1737.11,250.47 1737.87,251 1738.62,251.53 1739.38,252.07 1740.14,252.61 1740.89,253.15 1741.65,253.7 1742.41,254.25 1743.16,254.8 1743.92,255.36 1744.67,255.92 1745.43,256.49 1746.19,257.05 1746.94,257.63 1747.7,258.2 1748.46,258.78 1749.21,259.36 1749.97,259.95 1750.72,260.54 1751.48,261.13 1752.24,261.73 1752.99,262.33 1753.75,262.94 1754.51,263.54 1755.26,264.16 1756.02,264.77 1756.78,265.4 1757.53,266.02 1758.29,266.65 1759.04,267.28 1759.8,267.92 1760.56,268.56 1761.31,269.2 1762.07,269.85 1762.83,270.51 1763.58,271.16 1764.34,271.83 1765.09,272.49 1765.85,273.16 1766.61,273.83 1767.36,274.51 1768.12,275.2 1768.88,275.88 1769.63,276.58 1770.39,277.27 1771.14,277.97 1771.9,278.68 1772.66,279.39 1773.41,280.1 1774.17,280.82 1774.92,281.54 1775.68,282.27 1776.44,283 1777.19,283.74 1777.95,284.48 1778.71,285.23 1779.46,285.98 1780.22,286.73 1780.97,287.49 1781.73,288.26 1782.49,289.03 1783.24,289.81 1784,290.59 1784.76,291.37 1785.51,292.16 1786.27,292.96 1787.02,293.76 1787.78,294.56 1788.54,295.37 1789.29,296.19 1790.05,297.01 1790.81,297.84 1791.56,298.67 1792.32,299.5 1793.08,300.35 1793.83,301.19 1794.59,302.05 1795.34,302.91 1796.1,303.77 1796.86,304.64 1797.61,305.51 1798.37,306.39 1799.12,307.28 1799.88,308.17 1800.64,309.07 1801.39,309.97 1802.15,310.88 1802.91,311.8 1803.66,312.72 1804.42,313.64 1805.17,314.57 1805.93,315.51 1806.69,316.46 1807.44,317.41 1808.2,318.36 1808.96,319.33 1809.71,320.29 1810.47,321.27 1811.22,322.25 1811.98,323.24 1812.74,324.23 1813.49,325.23 1814.25,326.24 1815.01,327.25 1815.76,328.27 1816.52,329.29 1817.27,330.33 1818.03,331.36 1818.79,332.41 1819.54,333.46 1820.3,334.52 1821.06,335.58 1821.81,336.66 1822.57,337.74 1823.33,338.82 1824.08,339.91 1824.84,341.01 1825.59,342.12 1826.35,343.23 1827.11,344.36 1827.86,345.48 1828.62,346.62 1829.38,347.76 1830.13,348.91 1830.89,350.07 1831.64,351.23 1832.4,352.4 1833.16,353.58 1833.91,354.77 1834.67,355.96 1835.42,357.17 1836.18,358.38 1836.94,359.59 1837.69,360.82 1838.45,362.05 1839.21,363.29 1839.96,364.54 1840.72,365.8 1841.47,367.06 1842.23,368.34 1842.99,369.62 1843.74,370.91 1844.5,372.2 1845.26,373.51 1846.01,374.82 1846.77,376.14 1847.53,377.48 1848.28,378.81 1849.04,380.16 1849.79,381.52 1850.55,382.88 1851.31,384.26 1852.06,385.64 1852.82,387.03 1853.58,388.43 1854.33,389.84 1855.09,391.26 1855.84,392.68 1856.6,394.12 1857.36,395.57 1858.11,397.02 1858.87,398.48 1859.62,399.96 1860.38,401.44 1861.14,402.93 1861.89,404.43 1862.65,405.94 1863.41,407.46 1864.16,408.99 1864.92,410.51 1865.67,410.51 1866.43,410.51 1867.19,410.51 1867.94,410.51 1868.7,410.51 1869.46,410.51 1870.21,410.51 1870.97,410.51 1871.72,410.51 1872.48,410.51 1873.24,410.51 1873.99,410.51 1874.75,410.51 1875.51,410.51 1876.26,410.51 1877.02,410.51 1877.78,410.51 1878.53,410.51 1879.29,410.51 1880.04,410.51 1880.8,410.51" fill="none" stroke="#FF2A03" stroke-width="2.5" stroke-linecap="round" stroke-linejoin="round"/>
<polyline clip-path="url(#c03)" points="1578.3,191.75 1579.02,191.85 1579.74,191.95 1580.47,192.06 1581.19,192.16 1581.91,192.27 1582.63,192.37 1583.35,192.48 1584.07,192.59 1584.8,192.7 1585.52,192.81 1586.24,192.92 1586.96,193.03 1587.68,193.14 1588.41,193.25 1589.13,193.36 1589.85,193.48 1590.57,193.59 1591.29,193.71 1592.02,193.82 1592.74,193.94 1593.46,194.06 1594.18,194.18 1594.9,194.3 1595.62,194.42 1596.35,194.54 1597.07,194.66 1597.79,194.79 1598.51,194.91 1599.23,195.04 1599.96,195.16 1600.68,195.29 1601.4,195.42 1602.12,195.55 1602.84,195.68 1603.57,195.81 1604.29,195.94 1605.01,196.07 1605.73,196.21 1606.45,196.34 1607.17,196.48 1607.9,196.61 1608.62,196.75 1609.34,196.89 1610.06,197.03 1610.78,197.17 1611.51,197.31 1612.23,197.46 1612.95,197.6 1613.67,197.74 1614.39,197.89 1615.12,198.04 1615.84,198.19 1616.56,198.33 1617.28,198.48 1618,198.64 1618.72,198.79 1619.45,198.94 1620.17,199.1 1620.89,199.25 1621.61,199.41 1622.33,199.57 1623.06,199.73 1623.78,199.89 1624.5,200.05 1625.22,200.21 1625.94,200.38 1626.67,200.54 1627.39,200.71 1628.11,200.88 1628.83,201.04 1629.55,201.21 1630.27,201.39 1631,201.56 1631.72,201.73 1632.44,201.91 1633.16,202.08 1633.88,202.26 1634.61,202.44 1635.33,202.62 1636.05,202.8 1636.77,202.98 1637.49,203.17 1638.22,203.35 1638.94,203.54 1639.66,203.73 1640.38,203.92 1641.1,204.11 1641.82,204.3 1642.55,204.5 1643.27,204.69 1643.99,204.89 1644.71,205.09 1645.43,205.29 1646.16,205.49 1646.88,205.69 1647.6,205.89 1648.32,206.1 1649.04,206.31 1649.77,206.52 1650.49,206.73 1651.21,206.94 1651.93,207.15 1652.65,207.36 1653.38,207.58 1654.1,207.8 1654.82,208.02 1655.54,208.24 1656.26,208.46 1656.98,208.69 1657.71,208.91 1658.43,209.14 1659.15,209.37 1659.87,209.6 1660.59,209.83 1661.32,210.07 1662.04,210.3 1662.76,210.54 1663.48,210.78 1664.2,211.02 1664.92,211.26 1665.65,211.51 1666.37,211.75 1667.09,212 1667.81,212.25 1668.53,212.51 1669.26,212.76 1669.98,213.01 1670.7,213.27 1671.42,213.53 1672.14,213.79 1672.87,214.06 1673.59,214.32 1674.31,214.59 1675.03,214.86 1675.75,215.13 1676.47,215.4 1677.2,215.68 1677.92,215.95 1678.64,216.23 1679.36,216.51 1680.08,216.8 1680.81,217.08 1681.53,217.37 1682.25,217.66 1682.97,217.95 1683.69,218.24 1684.42,218.54 1685.14,218.84 1685.86,219.14 1686.58,219.44 1687.3,219.74 1688.02,220.05 1688.75,220.36 1689.47,220.67 1690.19,220.98 1690.91,221.3 1691.63,221.62 1692.36,221.94 1693.08,222.26 1693.8,222.59 1694.52,222.91 1695.24,223.24 1695.97,223.57 1696.69,223.91 1697.41,224.25 1698.13,224.59 1698.85,224.93 1699.57,225.27 1700.3,225.62 1701.02,225.97 1701.74,226.32 1702.46,226.68 1703.18,227.03 1703.91,227.39 1704.63,227.76 1705.35,228.12 1706.07,228.49 1706.79,228.86 1707.52,229.23 1708.24,229.61 1708.96,229.99 1709.68,230.37 1710.4,230.75 1711.12,231.14 1711.85,231.53 1712.57,231.92 1713.29,232.32 1714.01,232.72 1714.73,233.12 1715.46,233.52 1716.18,233.93 1716.9,234.34 1717.62,234.75 1718.34,235.17 1719.07,235.59 1719.79,236.01 1720.51,236.44 1721.23,236.87 1721.95,237.3 1722.67,237.73 1723.4,238.17 1724.12,238.61 1724.84,239.06 1725.56,239.5 1726.28,239.96 1727.01,240.41 1727.73,240.87 1728.45,241.33 1729.17,241.79 1729.89,242.26 1730.62,242.73 1731.34,243.21 1732.06,243.68 1732.78,244.17 1733.5,244.65 1734.22,245.14 1734.95,245.63 1735.67,246.13 1736.39,246.63 1737.11,247.13 1737.83,247.64 1738.56,248.15 1739.28,248.66 1740,249.18 1740.72,249.7 1741.44,250.23 1742.17,250.76 1742.89,251.29 1743.61,251.83 1744.33,252.37 1745.05,252.91 1745.78,253.46 1746.5,254.01 1747.22,254.57 1747.94,255.13 1748.66,255.7 1749.38,256.27 1750.11,256.84 1750.83,257.42 1751.55,258 1752.27,258.58 1752.99,259.18 1753.72,259.77 1754.44,260.37 1755.16,260.97 1755.88,261.58 1756.6,262.19 1757.33,262.81 1758.05,263.43 1758.77,264.06 1759.49,264.69 1760.21,265.32 1760.93,265.96 1761.66,266.61 1762.38,267.25 1763.1,267.91 1763.82,268.57 1764.54,269.23 1765.27,269.9 1765.99,270.57 1766.71,271.25 1767.43,271.93 1768.15,272.62 1768.88,273.31 1769.6,274.01 1770.32,274.71 1771.04,275.42 1771.76,276.14 1772.48,276.85 1773.21,277.58 1773.93,278.31 1774.65,279.04 1775.37,279.78 1776.09,280.53 1776.82,281.28 1777.54,282.03 1778.26,282.79 1778.98,283.56 1779.7,284.34 1780.42,285.11 1781.15,285.9 1781.87,286.69 1782.59,287.48 1783.31,288.28 1784.03,289.09 1784.76,289.91 1785.48,290.72 1786.2,291.55 1786.92,292.38 1787.64,293.22 1788.37,294.06 1789.09,294.91 1789.81,295.77 1790.53,296.63 1791.25,297.5 1791.97,298.37 1792.7,299.25 1793.42,300.14 1794.14,301.03 1794.86,301.93 1795.58,302.84 1796.31,303.76 1797.03,304.68 1797.75,305.6 1798.47,306.54 1799.19,307.48 1799.92,308.42 1800.64,309.38 1801.36,310.34 1802.08,311.31 1802.8,312.28 1803.53,313.27 1804.25,314.26 1804.97,315.25 1805.69,316.26 1806.41,317.27 1807.13,318.29 1807.86,319.32 1808.58,320.35 1809.3,321.39 1810.02,322.44 1810.74,323.5 1811.47,324.56 1812.19,325.63 1812.91,326.71 1813.63,327.8 1814.35,328.9 1815.08,330 1815.8,331.11 1816.52,332.23 1817.24,333.36 1817.96,334.5 1818.68,335.64 1819.41,336.8 1820.13,337.96 1820.85,339.13 1821.57,340.31 1822.29,341.5 1823.02,342.69 1823.74,343.9 1824.46,345.11 1825.18,346.33 1825.9,347.56 1826.62,348.8 1827.35,350.05 1828.07,351.31 1828.79,352.58 1829.51,353.86 1830.23,355.14 1830.96,356.44 1831.68,357.74 1832.4,359.06 1833.12,360.38 1833.84,361.72 1834.57,363.06 1835.29,364.41 1836.01,365.78 1836.73,367.15 1837.45,368.53 1838.17,369.93 1838.9,371.33 1839.62,372.75 1840.34,374.17 1841.06,375.6 1841.78,377.05 1842.51,378.51 1843.23,379.97 1843.95,381.45 1844.67,382.94 1845.39,384.44 1846.12,385.94 1846.84,387.47 1847.56,389 1848.28,390.54 1849,392.09 1849.72,393.66 1850.45,395.24 1851.17,396.83 1851.89,398.43 1852.61,400.04 1853.33,401.66 1854.06,403.3 1854.78,404.94 1855.5,406.6 1856.22,408.28 1856.94,409.96 1857.67,410.51 1858.39,410.51 1859.11,410.51 1859.83,410.51 1860.55,410.51 1861.28,410.51 1862,410.51 1862.72,410.51 1863.44,410.51 1864.16,410.51 1864.88,410.51 1865.61,410.51 1866.33,410.51 1867.05,410.51" fill="none" stroke="#FF2D05" stroke-width="2.5" stroke-linecap="round" stroke-linejoin="round"/>
<polyline clip-path="url(#c03)" points="1578.3,194.67 1578.99,194.74 1579.67,194.8 1580.36,194.87 1581.05,194.94 1581.74,195 1582.42,195.07 1583.11,195.14 1583.8,195.21 1584.49,195.28 1585.17,195.35 1585.86,195.42 1586.55,195.49 1587.24,195.56 1587.92,195.63 1588.61,195.71 1589.3,195.78 1589.99,195.86 1590.67,195.93 1591.36,196.01 1592.05,196.08 1592.74,196.16 1593.42,196.24 1594.11,196.32 1594.8,196.39 1595.49,196.47 1596.17,196.55 1596.86,196.64 1597.55,196.72 1598.24,196.8 1598.92,196.88 1599.61,196.97 1600.3,197.05 1600.99,197.14 1601.67,197.22 1602.36,197.31 1603.05,197.4 1603.74,197.49 1604.42,197.58 1605.11,197.67 1605.8,197.76 1606.49,197.85 1607.17,197.94 1607.86,198.03 1608.55,198.13 1609.24,198.22 1609.92,198.32 1610.61,198.42 1611.3,198.51 1611.99,198.61 1612.67,198.71 1613.36,198.81 1614.05,198.91 1614.74,199.01 1615.42,199.11 1616.11,199.22 1616.8,199.32 1617.49,199.43 1618.17,199.53 1618.86,199.64 1619.55,199.75 1620.24,199.86 1620.92,199.97 1621.61,200.08 1622.3,200.19 1622.99,200.3 1623.67,200.42 1624.36,200.53 1625.05,200.65 1625.74,200.76 1626.42,200.88 1627.11,201 1627.8,201.12 1628.49,201.24 1629.17,201.36 1629.86,201.49 1630.55,201.61 1631.24,201.73 1631.92,201.86 1632.61,201.99 1633.3,202.12 1633.99,202.25 1634.67,202.38 1635.36,202.51 1636.05,202.64 1636.74,202.78 1637.42,202.91 1638.11,203.05 1638.8,203.19 1639.49,203.32 1640.17,203.46 1640.86,203.61 1641.55,203.75 1642.24,203.89 1642.92,204.04 1643.61,204.18 1644.3,204.33 1644.99,204.48 1645.67,204.63 1646.36,204.78 1647.05,204.93 1647.74,205.09 1648.42,205.24 1649.11,205.4 1649.8,205.56 1650.49,205.72 1651.17,205.88 1651.86,206.04 1652.55,206.2 1653.24,206.37 1653.92,206.54 1654.61,206.7 1655.3,206.87 1655.99,207.04 1656.67,207.22 1657.36,207.39 1658.05,207.57 1658.74,207.74 1659.42,207.92 1660.11,208.1 1660.8,208.28 1661.49,208.47 1662.17,208.65 1662.86,208.84 1663.55,209.02 1664.24,209.21 1664.92,209.41 1665.61,209.6 1666.3,209.79 1666.99,209.99 1667.67,210.19 1668.36,210.39 1669.05,210.59 1669.74,210.79 1670.42,211 1671.11,211.2 1671.8,211.41 1672.49,211.62 1673.17,211.84 1673.86,212.05 1674.55,212.27 1675.24,212.48 1675.92,212.7 1676.61,212.92 1677.3,213.15 1677.99,213.37 1678.67,213.6 1679.36,213.83 1680.05,214.06 1680.74,214.3 1681.42,214.53 1682.11,214.77 1682.8,215.01 1683.49,215.25 1684.17,215.49 1684.86,215.74 1685.55,215.99 1686.24,216.24 1686.92,216.49 1687.61,216.75 1688.3,217 1688.99,217.26 1689.67,217.52 1690.36,217.79 1691.05,218.05 1691.74,218.32 1692.42,218.59 1693.11,218.86 1693.8,219.14 1694.49,219.42 1695.17,219.7 1695.86,219.98 1696.55,220.26 1697.24,220.55 1697.92,220.84 1698.61,221.13 1699.3,221.43 1699.99,221.73 1700.67,222.03 1701.36,222.33 1702.05,222.63 1702.74,222.94 1703.42,223.25 1704.11,223.57 1704.8,223.88 1705.49,224.2 1706.17,224.52 1706.86,224.85 1707.55,225.18 1708.24,225.51 1708.92,225.84 1709.61,226.18 1710.3,226.51 1710.99,226.86 1711.67,227.2 1712.36,227.55 1713.05,227.9 1713.74,228.25 1714.42,228.61 1715.11,228.97 1715.8,229.33 1716.49,229.7 1717.17,230.07 1717.86,230.44 1718.55,230.82 1719.24,231.2 1719.92,231.58 1720.61,231.97 1721.3,232.36 1721.99,232.75 1722.67,233.14 1723.36,233.54 1724.05,233.95 1724.74,234.35 1725.42,234.76 1726.11,235.18 1726.8,235.59 1727.49,236.01 1728.17,236.44 1728.86,236.87 1729.55,237.3 1730.24,237.74 1730.92,238.17 1731.61,238.62 1732.3,239.07 1732.99,239.52 1733.67,239.97 1734.36,240.43 1735.05,240.89 1735.74,241.36 1736.42,241.83 1737.11,242.31 1737.8,242.79 1738.49,243.27 1739.17,243.76 1739.86,244.25 1740.55,244.74 1741.24,245.24 1741.92,245.75 1742.61,246.26 1743.3,246.77 1743.99,247.29 1744.67,247.81 1745.36,248.34 1746.05,248.87 1746.74,249.41 1747.42,249.95 1748.11,250.5 1748.8,251.05 1749.49,251.6 1750.17,252.16 1750.86,252.73 1751.55,253.3 1752.24,253.87 1752.92,254.45 1753.61,255.04 1754.3,255.63 1754.99,256.22 1755.67,256.82 1756.36,257.43 1757.05,258.04 1757.74,258.65 1758.42,259.28 1759.11,259.9 1759.8,260.54 1760.49,261.17 1761.17,261.82 1761.86,262.47 1762.55,263.12 1763.24,263.78 1763.92,264.45 1764.61,265.12 1765.3,265.8 1765.99,266.48 1766.67,267.17 1767.36,267.87 1768.05,268.57 1768.74,269.27 1769.42,269.99 1770.11,270.71 1770.8,271.44 1771.49,272.17 1772.17,272.91 1772.86,273.65 1773.55,274.4 1774.24,275.16 1774.92,275.93 1775.61,276.7 1776.3,277.48 1776.99,278.26 1777.67,279.06 1778.36,279.86 1779.05,280.66 1779.74,281.47 1780.42,282.29 1781.11,283.12 1781.8,283.96 1782.49,284.8 1783.17,285.65 1783.86,286.5 1784.55,287.37 1785.24,288.24 1785.92,289.12 1786.61,290 1787.3,290.9 1787.99,291.8 1788.67,292.71 1789.36,293.63 1790.05,294.55 1790.74,295.49 1791.42,296.43 1792.11,297.38 1792.8,298.34 1793.49,299.31 1794.17,300.28 1794.86,301.26 1795.55,302.26 1796.24,303.26 1796.92,304.27 1797.61,305.29 1798.3,306.31 1798.99,307.35 1799.67,308.39 1800.36,309.45 1801.05,310.51 1801.74,311.59 1802.42,312.67 1803.11,313.76 1803.8,314.86 1804.49,315.97 1805.17,317.09 1805.86,318.22 1806.55,319.36 1807.24,320.51 1807.92,321.67 1808.61,322.84 1809.3,324.02 1809.99,325.21 1810.67,326.41 1811.36,327.62 1812.05,328.84 1812.74,330.08 1813.42,331.32 1814.11,332.57 1814.8,333.84 1815.49,335.11 1816.17,336.4 1816.86,337.7 1817.55,339.01 1818.24,340.33 1818.92,341.66 1819.61,343.01 1820.3,344.36 1820.99,345.73 1821.67,347.11 1822.36,348.5 1823.05,349.9 1823.74,351.32 1824.42,352.75 1825.11,354.19 1825.8,355.64 1826.49,357.1 1827.17,358.58 1827.86,360.07 1828.55,361.58 1829.24,363.09 1829.92,364.63 1830.61,366.17 1831.3,367.73 1831.99,369.3 1832.67,370.88 1833.36,372.48 1834.05,374.09 1834.74,375.72 1835.42,377.36 1836.11,379.01 1836.8,380.68 1837.49,382.36 1838.17,384.06 1838.86,385.77 1839.55,387.5 1840.24,389.25 1840.92,391 1841.61,392.78 1842.3,394.57 1842.99,396.37 1843.67,398.19 1844.36,400.02 1845.05,401.88 1845.74,403.74 1846.42,405.63 1847.11,407.53 1847.8,409.45 1848.49,410.51 1849.18,410.51 1849.86,410.51 1850.55,410.51 1851.24,410.51 1851.92,410.51 1852.61,410.51 1853.3,410.51" fill="none" stroke="#FF560F" stroke-width="2.5" stroke-linecap="round" stroke-linejoin="round"/>
<polyline clip-path="url(#c03)" points="1578.3,197.93 1578.95,197.96 1579.61,197.99 1580.26,198.02 1580.91,198.05 1581.57,198.08 1582.22,198.11 1582.87,198.15 1583.52,198.18 1584.18,198.21 1584.83,198.25 1585.48,198.28 1586.14,198.32 1586.79,198.35 1587.44,198.38 1588.1,198.42 1588.75,198.46 1589.4,198.49 1590.06,198.53 1590.71,198.57 1591.36,198.6 1592.02,198.64 1592.67,198.68 1593.32,198.72 1593.97,198.76 1594.63,198.8 1595.28,198.84 1595.93,198.88 1596.59,198.92 1597.24,198.96 1597.89,199 1598.55,199.04 1599.2,199.09 1599.85,199.13 1600.51,199.17 1601.16,199.22 1601.81,199.26 1602.47,199.31 1603.12,199.35 1603.77,199.4 1604.42,199.45 1605.08,199.49 1605.73,199.54 1606.38,199.59 1607.04,199.64 1607.69,199.69 1608.34,199.74 1609,199.79 1609.65,199.84 1610.3,199.89 1610.96,199.94 1611.61,200 1612.26,200.05 1612.92,200.1 1613.57,200.16 1614.22,200.21 1614.88,200.27 1615.53,200.32 1616.18,200.38 1616.83,200.44 1617.49,200.5 1618.14,200.55 1618.79,200.61 1619.45,200.67 1620.1,200.74 1620.75,200.8 1621.41,200.86 1622.06,200.92 1622.71,200.98 1623.37,201.05 1624.02,201.11 1624.67,201.18 1625.32,201.25 1625.98,201.31 1626.63,201.38 1627.28,201.45 1627.94,201.52 1628.59,201.59 1629.24,201.66 1629.9,201.73 1630.55,201.8 1631.2,201.88 1631.86,201.95 1632.51,202.03 1633.16,202.1 1633.82,202.18 1634.47,202.25 1635.12,202.33 1635.77,202.41 1636.43,202.49 1637.08,202.57 1637.73,202.65 1638.39,202.74 1639.04,202.82 1639.69,202.9 1640.35,202.99 1641,203.08 1641.65,203.16 1642.31,203.25 1642.96,203.34 1643.61,203.43 1644.27,203.52 1644.92,203.61 1645.57,203.71 1646.22,203.8 1646.88,203.9 1647.53,203.99 1648.18,204.09 1648.84,204.19 1649.49,204.29 1650.14,204.39 1650.8,204.49 1651.45,204.59 1652.1,204.7 1652.76,204.8 1653.41,204.91 1654.06,205.02 1654.72,205.13 1655.37,205.24 1656.02,205.35 1656.67,205.46 1657.33,205.57 1657.98,205.69 1658.63,205.8 1659.29,205.92 1659.94,206.04 1660.59,206.16 1661.25,206.28 1661.9,206.4 1662.55,206.53 1663.21,206.65 1663.86,206.78 1664.51,206.91 1665.17,207.04 1665.82,207.17 1666.47,207.3 1667.12,207.43 1667.78,207.57 1668.43,207.71 1669.08,207.84 1669.74,207.98 1670.39,208.13 1671.04,208.27 1671.7,208.41 1672.35,208.56 1673,208.71 1673.66,208.86 1674.31,209.01 1674.96,209.16 1675.62,209.31 1676.27,209.47 1676.92,209.63 1677.57,209.79 1678.23,209.95 1678.88,210.11 1679.53,210.28 1680.19,210.44 1680.84,210.61 1681.49,210.78 1682.15,210.96 1682.8,211.13 1683.45,211.31 1684.11,211.48 1684.76,211.66 1685.41,211.85 1686.07,212.03 1686.72,212.22 1687.37,212.4 1688.02,212.59 1688.68,212.79 1689.33,212.98 1689.98,213.18 1690.64,213.38 1691.29,213.58 1691.94,213.78 1692.6,213.98 1693.25,214.19 1693.9,214.4 1694.56,214.61 1695.21,214.83 1695.86,215.05 1696.52,215.27 1697.17,215.49 1697.82,215.71 1698.47,215.94 1699.13,216.17 1699.78,216.4 1700.43,216.63 1701.09,216.87 1701.74,217.11 1702.39,217.35 1703.05,217.6 1703.7,217.84 1704.35,218.09 1705.01,218.35 1705.66,218.6 1706.31,218.86 1706.97,219.12 1707.62,219.39 1708.27,219.65 1708.92,219.92 1709.58,220.2 1710.23,220.47 1710.88,220.75 1711.54,221.04 1712.19,221.32 1712.84,221.61 1713.5,221.9 1714.15,222.2 1714.8,222.49 1715.46,222.8 1716.11,223.1 1716.76,223.41 1717.42,223.72 1718.07,224.04 1718.72,224.35 1719.38,224.68 1720.03,225 1720.68,225.33 1721.33,225.66 1721.99,226 1722.64,226.34 1723.29,226.68 1723.95,227.03 1724.6,227.38 1725.25,227.74 1725.91,228.1 1726.56,228.46 1727.21,228.83 1727.87,229.2 1728.52,229.58 1729.17,229.96 1729.82,230.34 1730.48,230.73 1731.13,231.12 1731.78,231.52 1732.44,231.92 1733.09,232.32 1733.74,232.73 1734.4,233.15 1735.05,233.57 1735.7,233.99 1736.36,234.42 1737.01,234.85 1737.66,235.29 1738.32,235.73 1738.97,236.18 1739.62,236.63 1740.27,237.09 1740.93,237.55 1741.58,238.02 1742.23,238.49 1742.89,238.97 1743.54,239.46 1744.19,239.94 1744.85,240.44 1745.5,240.94 1746.15,241.44 1746.81,241.95 1747.46,242.47 1748.11,242.99 1748.77,243.52 1749.42,244.05 1750.07,244.59 1750.72,245.14 1751.38,245.69 1752.03,246.25 1752.68,246.81 1753.34,247.38 1753.99,247.96 1754.64,248.54 1755.3,249.13 1755.95,249.72 1756.6,250.33 1757.26,250.93 1757.91,251.55 1758.56,252.17 1759.22,252.8 1759.87,253.44 1760.52,254.08 1761.17,254.73 1761.83,255.39 1762.48,256.05 1763.13,256.72 1763.79,257.4 1764.44,258.09 1765.09,258.78 1765.75,259.49 1766.4,260.2 1767.05,260.91 1767.71,261.64 1768.36,262.37 1769.01,263.11 1769.67,263.86 1770.32,264.62 1770.97,265.39 1771.62,266.16 1772.28,266.95 1772.93,267.74 1773.58,268.54 1774.24,269.35 1774.89,270.17 1775.54,271 1776.2,271.83 1776.85,272.68 1777.5,273.53 1778.16,274.4 1778.81,275.27 1779.46,276.16 1780.12,277.05 1780.77,277.95 1781.42,278.87 1782.08,279.79 1782.73,280.73 1783.38,281.67 1784.03,282.62 1784.69,283.59 1785.34,284.56 1785.99,285.55 1786.65,286.55 1787.3,287.56 1787.95,288.58 1788.61,289.61 1789.26,290.65 1789.91,291.7 1790.57,292.77 1791.22,293.85 1791.87,294.93 1792.53,296.03 1793.18,297.15 1793.83,298.27 1794.48,299.41 1795.14,300.56 1795.79,301.72 1796.44,302.9 1797.1,304.09 1797.75,305.29 1798.4,306.51 1799.06,307.73 1799.71,308.98 1800.36,310.23 1801.02,311.5 1801.67,312.79 1802.32,314.08 1802.97,315.4 1803.63,316.72 1804.28,318.06 1804.93,319.42 1805.59,320.79 1806.24,322.18 1806.89,323.58 1807.55,325 1808.2,326.43 1808.85,327.88 1809.51,329.34 1810.16,330.82 1810.81,332.32 1811.47,333.83 1812.12,335.36 1812.77,336.91 1813.42,338.47 1814.08,340.06 1814.73,341.66 1815.38,343.27 1816.04,344.91 1816.69,346.56 1817.34,348.23 1818,349.92 1818.65,351.63 1819.3,353.35 1819.96,355.1 1820.61,356.86 1821.26,358.65 1821.92,360.45 1822.57,362.27 1823.22,364.12 1823.88,365.98 1824.53,367.87 1825.18,369.77 1825.83,371.7 1826.49,373.65 1827.14,375.62 1827.79,377.61 1828.45,379.62 1829.1,381.66 1829.75,383.72 1830.41,385.8 1831.06,387.9 1831.71,390.03 1832.37,392.18 1833.02,394.35 1833.67,396.55 1834.33,398.77 1834.98,401.02 1835.63,403.29 1836.28,405.59 1836.94,407.91 1837.59,410.26 1838.24,410.51 1838.9,410.51 1839.55,410.51" fill="none" stroke="#FF7F17" stroke-width="2.5" stroke-linecap="round" stroke-linejoin="round"/>
<polyline clip-path="url(#c03)" points="1578.3,200.88 1578.92,200.88 1579.54,200.89 1580.16,200.9 1580.77,200.9 1581.39,200.91 1582.01,200.92 1582.63,200.92 1583.25,200.93 1583.87,200.94 1584.49,200.95 1585.11,200.95 1585.72,200.96 1586.34,200.97 1586.96,200.98 1587.58,200.99 1588.2,200.99 1588.82,201 1589.44,201.01 1590.06,201.02 1590.67,201.03 1591.29,201.04 1591.91,201.05 1592.53,201.05 1593.15,201.06 1593.77,201.07 1594.39,201.08 1595.01,201.09 1595.62,201.1 1596.24,201.11 1596.86,201.12 1597.48,201.13 1598.1,201.14 1598.72,201.15 1599.34,201.17 1599.96,201.18 1600.57,201.19 1601.19,201.2 1601.81,201.21 1602.43,201.22 1603.05,201.23 1603.67,201.25 1604.29,201.26 1604.91,201.27 1605.52,201.28 1606.14,201.3 1606.76,201.31 1607.38,201.32 1608,201.34 1608.62,201.35 1609.24,201.36 1609.86,201.38 1610.47,201.39 1611.09,201.41 1611.71,201.42 1612.33,201.44 1612.95,201.45 1613.57,201.47 1614.19,201.48 1614.81,201.5 1615.42,201.52 1616.04,201.53 1616.66,201.55 1617.28,201.57 1617.9,201.58 1618.52,201.6 1619.14,201.62 1619.76,201.64 1620.38,201.66 1620.99,201.68 1621.61,201.69 1622.23,201.71 1622.85,201.73 1623.47,201.75 1624.09,201.77 1624.71,201.79 1625.32,201.82 1625.94,201.84 1626.56,201.86 1627.18,201.88 1627.8,201.9 1628.42,201.93 1629.04,201.95 1629.66,201.97 1630.27,202 1630.89,202.02 1631.51,202.04 1632.13,202.07 1632.75,202.09 1633.37,202.12 1633.99,202.15 1634.61,202.17 1635.22,202.2 1635.84,202.23 1636.46,202.25 1637.08,202.28 1637.7,202.31 1638.32,202.34 1638.94,202.37 1639.56,202.4 1640.17,202.43 1640.79,202.46 1641.41,202.49 1642.03,202.52 1642.65,202.56 1643.27,202.59 1643.89,202.62 1644.51,202.66 1645.12,202.69 1645.74,202.73 1646.36,202.76 1646.98,202.8 1647.6,202.83 1648.22,202.87 1648.84,202.91 1649.46,202.95 1650.07,202.99 1650.69,203.03 1651.31,203.07 1651.93,203.11 1652.55,203.15 1653.17,203.19 1653.79,203.23 1654.41,203.28 1655.02,203.32 1655.64,203.37 1656.26,203.41 1656.88,203.46 1657.5,203.51 1658.12,203.55 1658.74,203.6 1659.36,203.65 1659.97,203.7 1660.59,203.75 1661.21,203.81 1661.83,203.86 1662.45,203.91 1663.07,203.97 1663.69,204.02 1664.31,204.08 1664.92,204.13 1665.54,204.19 1666.16,204.25 1666.78,204.31 1667.4,204.37 1668.02,204.43 1668.64,204.49 1669.26,204.56 1669.88,204.62 1670.49,204.69 1671.11,204.75 1671.73,204.82 1672.35,204.89 1672.97,204.96 1673.59,205.03 1674.21,205.1 1674.82,205.17 1675.44,205.25 1676.06,205.32 1676.68,205.4 1677.3,205.48 1677.92,205.56 1678.54,205.64 1679.16,205.72 1679.77,205.8 1680.39,205.88 1681.01,205.97 1681.63,206.06 1682.25,206.14 1682.87,206.23 1683.49,206.32 1684.11,206.42 1684.72,206.51 1685.34,206.6 1685.96,206.7 1686.58,206.8 1687.2,206.9 1687.82,207 1688.44,207.1 1689.06,207.21 1689.67,207.31 1690.29,207.42 1690.91,207.53 1691.53,207.64 1692.15,207.75 1692.77,207.87 1693.39,207.98 1694.01,208.1 1694.62,208.22 1695.24,208.34 1695.86,208.47 1696.48,208.59 1697.1,208.72 1697.72,208.85 1698.34,208.98 1698.96,209.12 1699.57,209.25 1700.19,209.39 1700.81,209.53 1701.43,209.67 1702.05,209.82 1702.67,209.97 1703.29,210.12 1703.91,210.27 1704.52,210.42 1705.14,210.58 1705.76,210.74 1706.38,210.9 1707,211.06 1707.62,211.23 1708.24,211.4 1708.86,211.57 1709.47,211.74 1710.09,211.92 1710.71,212.1 1711.33,212.28 1711.95,212.47 1712.57,212.66 1713.19,212.85 1713.81,213.05 1714.42,213.24 1715.04,213.44 1715.66,213.65 1716.28,213.86 1716.9,214.07 1717.52,214.28 1718.14,214.5 1718.76,214.72 1719.38,214.94 1719.99,215.17 1720.61,215.4 1721.23,215.64 1721.85,215.87 1722.47,216.12 1723.09,216.36 1723.71,216.61 1724.32,216.87 1724.94,217.12 1725.56,217.39 1726.18,217.65 1726.8,217.92 1727.42,218.2 1728.04,218.47 1728.66,218.76 1729.27,219.05 1729.89,219.34 1730.51,219.63 1731.13,219.94 1731.75,220.24 1732.37,220.55 1732.99,220.87 1733.61,221.19 1734.22,221.51 1734.84,221.85 1735.46,222.18 1736.08,222.52 1736.7,222.87 1737.32,223.22 1737.94,223.58 1738.56,223.94 1739.17,224.31 1739.79,224.69 1740.41,225.07 1741.03,225.45 1741.65,225.85 1742.27,226.25 1742.89,226.65 1743.51,227.06 1744.12,227.48 1744.74,227.91 1745.36,228.34 1745.98,228.78 1746.6,229.22 1747.22,229.67 1747.84,230.13 1748.46,230.6 1749.08,231.07 1749.69,231.55 1750.31,232.04 1750.93,232.54 1751.55,233.04 1752.17,233.55 1752.79,234.07 1753.41,234.6 1754.02,235.14 1754.64,235.68 1755.26,236.24 1755.88,236.8 1756.5,237.37 1757.12,237.95 1757.74,238.54 1758.36,239.14 1758.97,239.75 1759.59,240.36 1760.21,240.99 1760.83,241.63 1761.45,242.28 1762.07,242.93 1762.69,243.6 1763.31,244.28 1763.92,244.97 1764.54,245.67 1765.16,246.38 1765.78,247.1 1766.4,247.83 1767.02,248.58 1767.64,249.33 1768.26,250.1 1768.88,250.88 1769.49,251.67 1770.11,252.48 1770.73,253.3 1771.35,254.13 1771.97,254.97 1772.59,255.83 1773.21,256.7 1773.83,257.58 1774.44,258.48 1775.06,259.39 1775.68,260.32 1776.3,261.26 1776.92,262.21 1777.54,263.18 1778.16,264.17 1778.78,265.17 1779.39,266.19 1780.01,267.22 1780.63,268.27 1781.25,269.34 1781.87,270.42 1782.49,271.52 1783.11,272.64 1783.72,273.77 1784.34,274.92 1784.96,276.09 1785.58,277.28 1786.2,278.49 1786.82,279.72 1787.44,280.96 1788.06,282.23 1788.67,283.51 1789.29,284.82 1789.91,286.14 1790.53,287.49 1791.15,288.86 1791.77,290.25 1792.39,291.66 1793.01,293.09 1793.62,294.55 1794.24,296.03 1794.86,297.53 1795.48,299.05 1796.1,300.6 1796.72,302.18 1797.34,303.78 1797.96,305.4 1798.58,307.05 1799.19,308.73 1799.81,310.43 1800.43,312.16 1801.05,313.91 1801.67,315.69 1802.29,317.51 1802.91,319.34 1803.53,321.21 1804.14,323.11 1804.76,325.04 1805.38,327 1806,328.99 1806.62,331.01 1807.24,333.06 1807.86,335.14 1808.47,337.26 1809.09,339.41 1809.71,341.59 1810.33,343.81 1810.95,346.06 1811.57,348.35 1812.19,350.68 1812.81,353.04 1813.42,355.44 1814.04,357.87 1814.66,360.35 1815.28,362.86 1815.9,365.41 1816.52,368.01 1817.14,370.64 1817.76,373.31 1818.38,376.03 1818.99,378.79 1819.61,381.59 1820.23,384.44 1820.85,387.33 1821.47,390.27 1822.09,393.25 1822.71,396.28 1823.33,399.36 1823.94,402.49 1824.56,405.66 1825.18,408.89 1825.8,410.51" fill="none" stroke="#FFA01E" stroke-width="2.5" stroke-linecap="round" stroke-linejoin="round"/>
<path d="M1554.1 202.12H1881.8" stroke="#000" stroke-width="2.4" stroke-linecap="round" stroke-dasharray="0.01 9.59" fill="none"/>
<path d="M1544.5 306.31H1881.8" stroke="#000" stroke-width="2.4" stroke-linecap="round" stroke-dasharray="0.01 9.59" fill="none"/>
<path d="M1554.1 410.51H1881.8" stroke="#000" stroke-width="2.4" stroke-linecap="round" stroke-dasharray="0.01 9.59" fill="none"/>
</g>
<g id="panel-e">
<rect x="103.5" y="707" width="356.3" height="349.05" fill="none" stroke="#000" stroke-width="2.5"/>
<path d="M116.7 1057.3V1076.65M171.68 1057.3V1076.65M226.67 1057.3V1076.65M281.65 1057.3V1076.65M336.63 1057.3V1076.65M391.62 1057.3V1076.65M446.6 1057.3V1076.65" stroke="#000" stroke-width="2.5" stroke-linecap="round" fill="none"/>
<path d="M102.25 1043.12H86.3M102.25 996.95H86.3M102.25 950.78H86.3M102.25 904.61H86.3M102.25 858.44H86.3M102.25 812.27H86.3M102.25 766.1H86.3M102.25 719.93H86.3" stroke="#000" stroke-width="2.5" stroke-linecap="round" fill="none"/>
<polyline clip-path="url(#c10)" points="119.45,1019.88 121.49,1019.76 123.54,1019.64 125.58,1019.51 127.62,1019.39 129.67,1019.27 131.71,1019.15 133.76,1019.02 135.8,1018.9 137.85,1018.77 139.89,1018.65 141.94,1018.52 143.98,1018.39 146.03,1018.27 148.07,1018.14 150.12,1018.01 152.16,1017.88 154.21,1017.75 156.25,1017.62 158.3,1017.48 160.34,1017.35 162.39,1017.22 164.43,1017.08 166.47,1016.95 168.52,1016.81 170.56,1016.68 172.61,1016.54 174.65,1016.4 176.7,1016.27 178.74,1016.13 180.79,1015.99 182.83,1015.85 184.88,1015.71 186.92,1015.57 188.97,1015.42 191.01,1015.28 193.06,1015.14 195.1,1014.99 197.15,1014.85 199.19,1014.7 201.24,1014.55 203.28,1014.41 205.32,1014.26 207.37,1014.11 209.41,1013.96 211.46,1013.81 213.5,1013.66 215.55,1013.5 217.59,1013.35 219.64,1013.2 221.68,1013.04 223.73,1012.89 225.77,1012.73 227.82,1012.57 229.86,1012.41 231.91,1012.26 233.95,1012.1 236,1011.94 238.04,1011.77 240.09,1011.61 242.13,1011.45 244.17,1011.29 246.22,1011.12 248.26,1010.96 250.31,1010.79 252.35,1010.62 254.4,1010.45 256.44,1010.29 258.49,1010.12 260.53,1009.95 262.58,1009.77 264.62,1009.6 266.67,1009.43 268.71,1009.25 270.76,1009.08 272.8,1008.9 274.85,1008.73 276.89,1008.55 278.94,1008.37 280.98,1008.19 283.02,1008.01 285.07,1007.83 287.11,1007.65 289.16,1007.46 291.2,1007.28 293.25,1007.09 295.29,1006.91 297.34,1006.72 299.38,1006.53 301.43,1006.34 303.47,1006.15 305.52,1005.96 307.56,1005.77 309.61,1005.58 311.65,1005.38 313.7,1005.19 315.74,1004.99 317.79,1004.79 319.83,1004.6 321.87,1004.4 323.92,1004.2 325.96,1004 328.01,1003.79 330.05,1003.59 332.1,1003.39 334.14,1003.18 336.19,1002.97 338.23,1002.77 340.28,1002.56 342.32,1002.35 344.37,1002.14 346.41,1001.93 348.46,1001.71 350.5,1001.5 352.55,1001.28 354.59,1001.07 356.64,1000.85 358.68,1000.63 360.72,1000.41 362.77,1000.19 364.81,999.97 366.86,999.75 368.9,999.52 370.95,999.3 372.99,999.07 375.04,998.84 377.08,998.61 379.13,998.38 381.17,998.15 383.22,997.92 385.26,997.69 387.31,997.45 389.35,997.21 391.4,996.98 393.44,996.74 395.49,996.5 397.53,996.26 399.57,996.02 401.62,995.77 403.66,995.53 405.71,995.28 407.75,995.03 409.8,994.79 411.84,994.54 413.89,994.29 415.93,994.03 417.98,993.78 420.02,993.52 422.07,993.27 424.11,993.01 426.16,992.75 428.2,992.49 430.25,992.23 432.29,991.97 434.34,991.7 436.38,991.44 438.42,991.17 440.47,990.9 442.51,990.63 444.56,990.36 446.6,990.09" fill="none" stroke="#068A17" stroke-width="2.5" stroke-linecap="round" stroke-linejoin="round"/>
<polyline clip-path="url(#c10)" points="119.45,1019.71 121.49,1019.47 123.54,1019.23 125.58,1018.98 127.62,1018.73 129.67,1018.48 131.71,1018.22 133.76,1017.96 135.8,1017.7 137.85,1017.44 139.89,1017.17 141.94,1016.9 143.98,1016.63 146.03,1016.36 148.07,1016.08 150.12,1015.8 152.16,1015.52 154.21,1015.23 156.25,1014.94 158.3,1014.65 160.34,1014.35 162.39,1014.06 164.43,1013.75 166.47,1013.45 168.52,1013.14 170.56,1012.83 172.61,1012.52 174.65,1012.2 176.7,1011.88 178.74,1011.56 180.79,1011.23 182.83,1010.9 184.88,1010.57 186.92,1010.23 188.97,1009.89 191.01,1009.54 193.06,1009.19 195.1,1008.84 197.15,1008.49 199.19,1008.13 201.24,1007.77 203.28,1007.4 205.32,1007.03 207.37,1006.65 209.41,1006.28 211.46,1005.9 213.5,1005.51 215.55,1005.12 217.59,1004.73 219.64,1004.33 221.68,1003.93 223.73,1003.52 225.77,1003.11 227.82,1002.69 229.86,1002.28 231.91,1001.85 233.95,1001.42 236,1000.99 238.04,1000.56 240.09,1000.11 242.13,999.67 244.17,999.22 246.22,998.76 248.26,998.3 250.31,997.84 252.35,997.37 254.4,996.9 256.44,996.42 258.49,995.93 260.53,995.44 262.58,994.95 264.62,994.45 266.67,993.95 268.71,993.44 270.76,992.92 272.8,992.4 274.85,991.87 276.89,991.34 278.94,990.81 280.98,990.27 283.02,989.72 285.07,989.16 287.11,988.6 289.16,988.04 291.2,987.47 293.25,986.89 295.29,986.31 297.34,985.72 299.38,985.13 301.43,984.52 303.47,983.92 305.52,983.3 307.56,982.68 309.61,982.06 311.65,981.42 313.7,980.78 315.74,980.14 317.79,979.49 319.83,978.83 321.87,978.16 323.92,977.49 325.96,976.81 328.01,976.12 330.05,975.42 332.1,974.72 334.14,974.01 336.19,973.3 338.23,972.57 340.28,971.84 342.32,971.1 344.37,970.36 346.41,969.6 348.46,968.84 350.5,968.07 352.55,967.29 354.59,966.51 356.64,965.71 358.68,964.91 360.72,964.1 362.77,963.28 364.81,962.46 366.86,961.62 368.9,960.77 370.95,959.92 372.99,959.06 375.04,958.19 377.08,957.31 379.13,956.42 381.17,955.52 383.22,954.61 385.26,953.69 387.31,952.77 389.35,951.83 391.4,950.88 393.44,949.93 395.49,948.96 397.53,947.99 399.57,947 401.62,946.01 403.66,945 405.71,943.98 407.75,942.95 409.8,941.92 411.84,940.87 413.89,939.81 415.93,938.74 417.98,937.65 420.02,936.56 422.07,935.46 424.11,934.34 426.16,933.21 428.2,932.08 430.25,930.92 432.29,929.76 434.34,928.59 436.38,927.4 438.42,926.2 440.47,924.99 442.51,923.76 444.56,922.53 446.6,921.28" fill="none" stroke="#05A31F" stroke-width="2.5" stroke-linecap="round" stroke-linejoin="round"/>
<polyline clip-path="url(#c10)" points="119.45,1019.55 121.49,1019.18 123.54,1018.81 125.58,1018.43 127.62,1018.05 129.67,1017.66 131.71,1017.26 133.76,1016.86 135.8,1016.45 137.85,1016.03 139.89,1015.61 141.94,1015.18 143.98,1014.75 146.03,1014.3 148.07,1013.85 150.12,1013.4 152.16,1012.93 154.21,1012.46 156.25,1011.99 158.3,1011.5 160.34,1011.01 162.39,1010.51 164.43,1010 166.47,1009.48 168.52,1008.96 170.56,1008.43 172.61,1007.88 174.65,1007.34 176.7,1006.78 178.74,1006.21 180.79,1005.64 182.83,1005.05 184.88,1004.46 186.92,1003.86 188.97,1003.24 191.01,1002.62 193.06,1001.99 195.1,1001.35 197.15,1000.7 199.19,1000.04 201.24,999.37 203.28,998.68 205.32,997.99 207.37,997.29 209.41,996.57 211.46,995.85 213.5,995.11 215.55,994.36 217.59,993.6 219.64,992.83 221.68,992.05 223.73,991.25 225.77,990.44 227.82,989.62 229.86,988.79 231.91,987.94 233.95,987.08 236,986.21 238.04,985.32 240.09,984.42 242.13,983.51 244.17,982.58 246.22,981.63 248.26,980.67 250.31,979.7 252.35,978.71 254.4,977.71 256.44,976.69 258.49,975.65 260.53,974.6 262.58,973.53 264.62,972.45 266.67,971.35 268.71,970.23 270.76,969.09 272.8,967.94 274.85,966.77 276.89,965.58 278.94,964.37 280.98,963.14 283.02,961.89 285.07,960.63 287.11,959.34 289.16,958.04 291.2,956.71 293.25,955.36 295.29,954 297.34,952.61 299.38,951.2 301.43,949.76 303.47,948.31 305.52,946.83 307.56,945.33 309.61,943.81 311.65,942.26 313.7,940.69 315.74,939.09 317.79,937.47 319.83,935.82 321.87,934.15 323.92,932.45 325.96,930.72 328.01,928.97 330.05,927.19 332.1,925.39 334.14,923.55 336.19,921.69 338.23,919.8 340.28,917.87 342.32,915.92 344.37,913.94 346.41,911.93 348.46,909.88 350.5,907.8 352.55,905.69 354.59,903.55 356.64,901.38 358.68,899.17 360.72,896.92 362.77,894.65 364.81,892.33 366.86,889.98 368.9,887.59 370.95,885.17 372.99,882.71 375.04,880.21 377.08,877.67 379.13,875.09 381.17,872.47 383.22,869.81 385.26,867.11 387.31,864.37 389.35,861.58 391.4,858.75 393.44,855.88 395.49,852.96 397.53,850 399.57,846.99 401.62,843.93 403.66,840.82 405.71,837.67 407.75,834.47 409.8,831.22 411.84,827.91 413.89,824.56 415.93,821.15 417.98,817.69 420.02,814.18 422.07,810.61 424.11,806.99 426.16,803.31 428.2,799.57 430.25,795.77 432.29,791.92 434.34,788 436.38,784.03 438.42,779.99 440.47,775.89 442.51,771.72 444.56,767.49 446.6,763.2" fill="none" stroke="#04BF27" stroke-width="2.5" stroke-linecap="round" stroke-linejoin="round"/>
<polyline clip-path="url(#c10)" points="119.45,1019.39 121.49,1018.89 123.54,1018.39 125.58,1017.87 127.62,1017.35 129.67,1016.81 131.71,1016.26 133.76,1015.7 135.8,1015.13 137.85,1014.55 139.89,1013.95 141.94,1013.34 143.98,1012.72 146.03,1012.09 148.07,1011.44 150.12,1010.78 152.16,1010.11 154.21,1009.42 156.25,1008.72 158.3,1008 160.34,1007.27 162.39,1006.53 164.43,1005.76 166.47,1004.98 168.52,1004.19 170.56,1003.38 172.61,1002.55 174.65,1001.71 176.7,1000.84 178.74,999.96 180.79,999.06 182.83,998.14 184.88,997.21 186.92,996.25 188.97,995.27 191.01,994.28 193.06,993.26 195.1,992.22 197.15,991.16 199.19,990.08 201.24,988.97 203.28,987.84 205.32,986.69 207.37,985.52 209.41,984.32 211.46,983.09 213.5,981.84 215.55,980.56 217.59,979.26 219.64,977.93 221.68,976.57 223.73,975.18 225.77,973.77 227.82,972.32 229.86,970.85 231.91,969.34 233.95,967.81 236,966.24 238.04,964.63 240.09,963 242.13,961.33 244.17,959.63 246.22,957.89 248.26,956.11 250.31,954.3 252.35,952.45 254.4,950.56 256.44,948.63 258.49,946.66 260.53,944.65 262.58,942.6 264.62,940.5 266.67,938.37 268.71,936.18 270.76,933.95 272.8,931.68 274.85,929.36 276.89,926.99 278.94,924.57 280.98,922.1 283.02,919.58 285.07,917 287.11,914.37 289.16,911.69 291.2,908.95 293.25,906.16 295.29,903.3 297.34,900.39 299.38,897.42 301.43,894.38 303.47,891.28 305.52,888.12 307.56,884.89 309.61,881.59 311.65,878.23 313.7,874.79 315.74,871.28 317.79,867.7 319.83,864.05 321.87,860.32 323.92,856.51 325.96,852.62 328.01,848.65 330.05,844.6 332.1,840.46 334.14,836.24 336.19,831.93 338.23,827.53 340.28,823.04 342.32,818.45 344.37,813.77 346.41,808.99 348.46,804.12 350.5,799.14 352.55,794.05 354.59,788.86 356.64,783.57 358.68,778.16 360.72,772.64 362.77,767 364.81,761.25 366.86,755.38 368.9,749.38 370.95,743.26 372.99,737.01 375.04,730.63 377.08,724.12 379.13,717.48 381.17,710.69 383.22,703.77 385.26,696.7 387.31,689.48 389.35,682.11 391.4,674.59 393.44,666.91 395.49,659.07 397.53,651.07 399.57,642.9 401.62,634.56 403.66,626.05 405.71,617.36 407.75,608.49 409.8,599.43 411.84,590.19 413.89,580.75 415.93,571.12 417.98,561.28 420.02,551.25 422.07,541 424.11,530.54 426.16,519.86 428.2,508.95 430.25,497.82 432.29,486.46 434.34,474.86 436.38,463.02 438.42,450.94 440.47,438.6 442.51,426 444.56,413.15 446.6,400.02" fill="none" stroke="#06DF2D" stroke-width="2.5" stroke-linecap="round" stroke-linejoin="round"/>
<polyline clip-path="url(#c10)" points="119.45,1019.22 121.49,1018.6 123.54,1017.96 125.58,1017.3 127.62,1016.63 129.67,1015.94 131.71,1015.23 133.76,1014.5 135.8,1013.75 137.85,1012.98 139.89,1012.2 141.94,1011.39 143.98,1010.56 146.03,1009.71 148.07,1008.84 150.12,1007.94 152.16,1007.02 154.21,1006.08 156.25,1005.11 158.3,1004.12 160.34,1003.1 162.39,1002.06 164.43,1000.98 166.47,999.88 168.52,998.76 170.56,997.6 172.61,996.41 174.65,995.19 176.7,993.94 178.74,992.65 180.79,991.33 182.83,989.98 184.88,988.6 186.92,987.17 188.97,985.71 191.01,984.21 193.06,982.67 195.1,981.09 197.15,979.47 199.19,977.81 201.24,976.11 203.28,974.36 205.32,972.56 207.37,970.72 209.41,968.83 211.46,966.89 213.5,964.9 215.55,962.86 217.59,960.76 219.64,958.61 221.68,956.4 223.73,954.14 225.77,951.82 227.82,949.43 229.86,946.98 231.91,944.47 233.95,941.9 236,939.26 238.04,936.54 240.09,933.76 242.13,930.9 244.17,927.97 246.22,924.97 248.26,921.88 250.31,918.72 252.35,915.47 254.4,912.14 256.44,908.72 258.49,905.21 260.53,901.6 262.58,897.91 264.62,894.12 266.67,890.23 268.71,886.23 270.76,882.14 272.8,877.93 274.85,873.62 276.89,869.19 278.94,864.65 280.98,859.99 283.02,855.21 285.07,850.3 287.11,845.27 289.16,840.1 291.2,834.8 293.25,829.36 295.29,823.78 297.34,818.05 299.38,812.18 301.43,806.15 303.47,799.96 305.52,793.61 307.56,787.09 309.61,780.41 311.65,773.55 313.7,766.51 315.74,759.29 317.79,751.88 319.83,744.27 321.87,736.47 323.92,728.46 325.96,720.25 328.01,711.81 330.05,703.16 332.1,694.29 334.14,685.18 336.19,675.83 338.23,666.24 340.28,656.4 342.32,646.3 344.37,635.94 346.41,625.31 348.46,614.4 350.5,603.2 352.55,591.72 354.59,579.93 356.64,567.84 358.68,555.43 360.72,542.69 362.77,529.62 364.81,516.22 366.86,502.46 368.9,488.34 370.95,473.85 372.99,458.99 375.04,443.74 377.08,428.09 379.13,412.03 381.17,395.55 383.22,378.64 385.26,361.29 387.31,343.48 389.35,325.21 391.4,307 393.44,307 395.49,307 397.53,307 399.57,307 401.62,307 403.66,307 405.71,307 407.75,307 409.8,307 411.84,307 413.89,307 415.93,307 417.98,307 420.02,307 422.07,307 424.11,307 426.16,307 428.2,307 430.25,307 432.29,307 434.34,307 436.38,307 438.42,307 440.47,307 442.51,307 444.56,307 446.6,307" fill="none" stroke="#06F730" stroke-width="2.5" stroke-linecap="round" stroke-linejoin="round"/>
<polyline clip-path="url(#c10)" points="119.45,1020.2 121.49,1020.31 123.54,1020.43 125.58,1020.55 127.62,1020.66 129.67,1020.78 131.71,1020.89 133.76,1021.01 135.8,1021.12 137.85,1021.24 139.89,1021.35 141.94,1021.46 143.98,1021.57 146.03,1021.68 148.07,1021.79 150.12,1021.9 152.16,1022.01 154.21,1022.12 156.25,1022.23 158.3,1022.34 160.34,1022.44 162.39,1022.55 164.43,1022.65 166.47,1022.76 168.52,1022.86 170.56,1022.97 172.61,1023.07 174.65,1023.18 176.7,1023.28 178.74,1023.38 180.79,1023.48 182.83,1023.58 184.88,1023.68 186.92,1023.78 188.97,1023.88 191.01,1023.98 193.06,1024.08 195.1,1024.18 197.15,1024.28 199.19,1024.37 201.24,1024.47 203.28,1024.56 205.32,1024.66 207.37,1024.75 209.41,1024.85 211.46,1024.94 213.5,1025.04 215.55,1025.13 217.59,1025.22 219.64,1025.31 221.68,1025.41 223.73,1025.5 225.77,1025.59 227.82,1025.68 229.86,1025.77 231.91,1025.86 233.95,1025.95 236,1026.03 238.04,1026.12 240.09,1026.21 242.13,1026.3 244.17,1026.38 246.22,1026.47 248.26,1026.55 250.31,1026.64 252.35,1026.72 254.4,1026.81 256.44,1026.89 258.49,1026.98 260.53,1027.06 262.58,1027.14 264.62,1027.22 266.67,1027.31 268.71,1027.39 270.76,1027.47 272.8,1027.55 274.85,1027.63 276.89,1027.71 278.94,1027.79 280.98,1027.87 283.02,1027.94 285.07,1028.02 287.11,1028.1 289.16,1028.18 291.2,1028.25 293.25,1028.33 295.29,1028.41 297.34,1028.48 299.38,1028.56 301.43,1028.63 303.47,1028.71 305.52,1028.78 307.56,1028.85 309.61,1028.93 311.65,1029 313.7,1029.07 315.74,1029.15 317.79,1029.22 319.83,1029.29 321.87,1029.36 323.92,1029.43 325.96,1029.5 328.01,1029.57 330.05,1029.64 332.1,1029.71 334.14,1029.78 336.19,1029.85 338.23,1029.92 340.28,1029.98 342.32,1030.05 344.37,1030.12 346.41,1030.19 348.46,1030.25 350.5,1030.32 352.55,1030.38 354.59,1030.45 356.64,1030.52 358.68,1030.58 360.72,1030.64 362.77,1030.71 364.81,1030.77 366.86,1030.84 368.9,1030.9 370.95,1030.96 372.99,1031.02 375.04,1031.09 377.08,1031.15 379.13,1031.21 381.17,1031.27 383.22,1031.33 385.26,1031.39 387.31,1031.45 389.35,1031.51 391.4,1031.57 393.44,1031.63 395.49,1031.69 397.53,1031.75 399.57,1031.81 401.62,1031.87 403.66,1031.92 405.71,1031.98 407.75,1032.04 409.8,1032.1 411.84,1032.15 413.89,1032.21 415.93,1032.27 417.98,1032.32 420.02,1032.38 422.07,1032.43 424.11,1032.49 426.16,1032.54 428.2,1032.6 430.25,1032.65 432.29,1032.7 434.34,1032.76 436.38,1032.81 438.42,1032.86 440.47,1032.92 442.51,1032.97 444.56,1033.02 446.6,1033.07" fill="none" stroke="#FF2A03" stroke-width="2.5" stroke-linecap="round" stroke-linejoin="round"/>
</g>
<g id="panel-f">
<rect x="586.1" y="707" width="356.5" height="349.05" fill="none" stroke="#000" stroke-width="2.5"/>
<path d="M626.81 1057.3V1076.65M681.83 1057.3V1076.65M736.84 1057.3V1076.65M791.86 1057.3V1076.65M846.87 1057.3V1076.65M901.89 1057.3V1076.65" stroke="#000" stroke-width="2.5" stroke-linecap="round" fill="none"/>
<path d="M584.85 1043.12H568.9M584.85 978.48H568.9M584.85 913.84H568.9M584.85 849.21H568.9M584.85 784.57H568.9M584.85 719.93H568.9" stroke="#000" stroke-width="2.5" stroke-linecap="round" fill="none"/>
<polyline clip-path="url(#c11)" points="626.81,307 628.53,307 630.25,307 631.97,307 633.69,307 635.41,307 637.13,307 638.85,307 640.57,307 642.28,307 644,307 645.72,307 647.44,307 649.16,307 650.88,307 652.6,307 654.32,307 656.04,307 657.76,307 659.48,307 661.2,307 662.92,307 664.63,307 666.35,307 668.07,307 669.79,307 671.51,307 673.23,307 674.95,307 676.67,307 678.39,307 680.11,307 681.83,307 683.55,307 685.27,307 686.98,307 688.7,307 690.42,307 692.14,307 693.86,307 695.58,307 697.3,307 699.02,307 700.74,307 702.46,307 704.18,307 705.9,307 707.62,307 709.33,307 711.05,307 712.77,307 714.49,307 716.21,307 717.93,307 719.65,307 721.37,307 723.09,307 724.81,307 726.53,307 728.25,320.3 729.97,334.4 731.68,348.29 733.4,361.96 735.12,375.42 736.84,388.67 738.56,401.72 740.28,414.56 742,427.21 743.72,439.66 745.44,451.92 747.16,463.99 748.88,475.87 750.6,487.57 752.32,499.08 754.03,510.42 755.75,521.58 757.47,532.57 759.19,543.39 760.91,554.05 762.63,564.53 764.35,574.86 766.07,585.02 767.79,595.03 769.51,604.89 771.23,614.59 772.95,624.14 774.67,633.54 776.38,642.8 778.1,651.91 779.82,660.89 781.54,669.72 783.26,678.42 784.98,686.98 786.7,695.41 788.42,703.71 790.14,711.88 791.86,719.93 793.58,727.85 795.3,735.65 797.02,743.32 798.73,750.88 800.45,758.32 802.17,765.65 803.89,772.86 805.61,779.97 807.33,786.96 809.05,793.84 810.77,800.62 812.49,807.29 814.21,813.86 815.93,820.33 817.65,826.69 819.37,832.96 821.08,839.13 822.8,845.21 824.52,851.19 826.24,857.08 827.96,862.88 829.68,868.59 831.4,874.21 833.12,879.74 834.84,885.19 836.56,890.55 838.28,895.83 840,901.03 841.72,906.15 843.43,911.19 845.15,916.15 846.87,921.03 848.59,925.84 850.31,930.58 852.03,935.24 853.75,939.82 855.47,944.34 857.19,948.79 858.91,953.17 860.63,957.48 862.35,961.73 864.07,965.9 865.78,970.02 867.5,974.07 869.22,978.06 870.94,981.98 872.66,985.85 874.38,989.65 876.1,993.4 877.82,997.09 879.54,1000.72 881.26,1004.3 882.98,1007.82 884.7,1011.28 886.42,1014.69 888.13,1018.05 889.85,1021.36 891.57,1024.62 893.29,1027.82 895.01,1030.98 896.73,1034.09 898.45,1037.15 900.17,1040.16 901.89,1043.12" fill="none" stroke="#068A17" stroke-width="2.5" stroke-linecap="round" stroke-linejoin="round"/>
<polyline clip-path="url(#c11)" points="626.81,307 628.53,307 630.25,307 631.97,307 633.69,307 635.41,307 637.13,307 638.85,307 640.57,307 642.28,307 644,307 645.72,307 647.44,307 649.16,307 650.88,307 652.6,307 654.32,307 656.04,307 657.76,307 659.48,307 661.2,309.32 662.92,322.12 664.63,334.72 666.35,347.12 668.07,359.34 669.79,371.36 671.51,383.2 673.23,394.85 674.95,406.32 676.67,417.62 678.39,428.74 680.11,439.69 681.83,450.47 683.55,461.08 685.27,471.53 686.98,481.82 688.7,491.95 690.42,501.92 692.14,511.73 693.86,521.4 695.58,530.91 697.3,540.28 699.02,549.5 700.74,558.58 702.46,567.52 704.18,576.33 705.9,584.99 707.62,593.52 709.33,601.92 711.05,610.19 712.77,618.33 714.49,626.35 716.21,634.24 717.93,642.01 719.65,649.66 721.37,657.19 723.09,664.6 724.81,671.9 726.53,679.09 728.25,686.16 729.97,693.13 731.68,699.98 733.4,706.74 735.12,713.38 736.84,719.93 738.56,726.37 740.28,732.71 742,738.96 743.72,745.11 745.44,751.16 747.16,757.12 748.88,762.99 750.6,768.77 752.32,774.45 754.03,780.05 755.75,785.56 757.47,790.99 759.19,796.34 760.91,801.6 762.63,806.78 764.35,811.87 766.07,816.89 767.79,821.84 769.51,826.7 771.23,831.49 772.95,836.21 774.67,840.85 776.38,845.43 778.1,849.93 779.82,854.36 781.54,858.72 783.26,863.02 784.98,867.24 786.7,871.41 788.42,875.51 790.14,879.54 791.86,883.52 793.58,887.43 795.3,891.28 797.02,895.07 798.73,898.8 800.45,902.48 802.17,906.1 803.89,909.66 805.61,913.16 807.33,916.62 809.05,920.02 810.77,923.36 812.49,926.66 814.21,929.9 815.93,933.1 817.65,936.24 819.37,939.34 821.08,942.38 822.8,945.38 824.52,948.34 826.24,951.25 827.96,954.11 829.68,956.93 831.4,959.7 833.12,962.44 834.84,965.13 836.56,967.78 838.28,970.38 840,972.95 841.72,975.48 843.43,977.97 845.15,980.42 846.87,982.83 848.59,985.2 850.31,987.54 852.03,989.84 853.75,992.11 855.47,994.34 857.19,996.54 858.91,998.7 860.63,1000.83 862.35,1002.93 864.07,1004.99 865.78,1007.02 867.5,1009.02 869.22,1010.99 870.94,1012.93 872.66,1014.84 874.38,1016.72 876.1,1018.57 877.82,1020.39 879.54,1022.18 881.26,1023.95 882.98,1025.69 884.7,1027.4 886.42,1029.08 888.13,1030.74 889.85,1032.38 891.57,1033.98 893.29,1035.57 895.01,1037.13 896.73,1038.66 898.45,1040.17 900.17,1041.66 901.89,1043.12" fill="none" stroke="#05A31F" stroke-width="2.5" stroke-linecap="round" stroke-linejoin="round"/>
<polyline clip-path="url(#c11)" points="626.81,477.88 628.53,487.42 630.25,496.8 631.97,506.04 633.69,515.14 635.41,524.1 637.13,532.91 638.85,541.6 640.57,550.14 642.28,558.56 644,566.84 645.72,575 647.44,583.03 649.16,590.94 650.88,598.72 652.6,606.38 654.32,613.93 656.04,621.35 657.76,628.67 659.48,635.87 661.2,642.96 662.92,649.93 664.63,656.81 666.35,663.57 668.07,670.23 669.79,676.79 671.51,683.24 673.23,689.6 674.95,695.85 676.67,702.01 678.39,708.08 680.11,714.05 681.83,719.93 683.55,725.72 685.27,731.41 686.98,737.02 688.7,742.55 690.42,747.98 692.14,753.34 693.86,758.61 695.58,763.8 697.3,768.91 699.02,773.94 700.74,778.89 702.46,783.76 704.18,788.56 705.9,793.29 707.62,797.94 709.33,802.52 711.05,807.03 712.77,811.47 714.49,815.84 716.21,820.14 717.93,824.38 719.65,828.55 721.37,832.66 723.09,836.7 724.81,840.68 726.53,844.6 728.25,848.46 729.97,852.26 731.68,856 733.4,859.68 735.12,863.3 736.84,866.87 738.56,870.39 740.28,873.85 742,877.25 743.72,880.6 745.44,883.91 747.16,887.16 748.88,890.36 750.6,893.51 752.32,896.61 754.03,899.66 755.75,902.67 757.47,905.63 759.19,908.54 760.91,911.41 762.63,914.23 764.35,917.01 766.07,919.75 767.79,922.45 769.51,925.1 771.23,927.71 772.95,930.29 774.67,932.82 776.38,935.31 778.1,937.77 779.82,940.18 781.54,942.56 783.26,944.9 784.98,947.21 786.7,949.48 788.42,951.72 790.14,953.92 791.86,956.08 793.58,958.22 795.3,960.32 797.02,962.38 798.73,964.42 800.45,966.42 802.17,968.4 803.89,970.34 805.61,972.25 807.33,974.13 809.05,975.99 810.77,977.81 812.49,979.61 814.21,981.38 815.93,983.12 817.65,984.84 819.37,986.52 821.08,988.19 822.8,989.82 824.52,991.43 826.24,993.02 827.96,994.58 829.68,996.12 831.4,997.63 833.12,999.12 834.84,1000.59 836.56,1002.03 838.28,1003.46 840,1004.86 841.72,1006.23 843.43,1007.59 845.15,1008.93 846.87,1010.24 848.59,1011.54 850.31,1012.81 852.03,1014.07 853.75,1015.3 855.47,1016.52 857.19,1017.72 858.91,1018.9 860.63,1020.06 862.35,1021.2 864.07,1022.33 865.78,1023.43 867.5,1024.53 869.22,1025.6 870.94,1026.66 872.66,1027.7 874.38,1028.72 876.1,1029.73 877.82,1030.73 879.54,1031.7 881.26,1032.67 882.98,1033.61 884.7,1034.55 886.42,1035.47 888.13,1036.37 889.85,1037.26 891.57,1038.14 893.29,1039 895.01,1039.85 896.73,1040.69 898.45,1041.51 900.17,1042.32 901.89,1043.12" fill="none" stroke="#04BF27" stroke-width="2.5" stroke-linecap="round" stroke-linejoin="round"/>
<polyline clip-path="url(#c11)" points="626.81,719.93 628.53,725.38 630.25,730.75 631.97,736.03 633.69,741.23 635.41,746.35 637.13,751.39 638.85,756.36 640.57,761.24 642.28,766.06 644,770.79 645.72,775.46 647.44,780.05 649.16,784.57 650.88,789.02 652.6,793.4 654.32,797.72 656.04,801.96 657.76,806.14 659.48,810.26 661.2,814.31 662.92,818.3 664.63,822.23 666.35,826.1 668.07,829.91 669.79,833.66 671.51,837.35 673.23,840.98 674.95,844.56 676.67,848.08 678.39,851.55 680.11,854.96 681.83,858.33 683.55,861.63 685.27,864.89 686.98,868.1 688.7,871.26 690.42,874.37 692.14,877.43 693.86,880.44 695.58,883.41 697.3,886.33 699.02,889.21 700.74,892.04 702.46,894.82 704.18,897.57 705.9,900.27 707.62,902.93 709.33,905.55 711.05,908.13 712.77,910.67 714.49,913.17 716.21,915.63 717.93,918.05 719.65,920.43 721.37,922.78 723.09,925.09 724.81,927.37 726.53,929.61 728.25,931.82 729.97,933.99 731.68,936.13 733.4,938.23 735.12,940.31 736.84,942.35 738.56,944.36 740.28,946.33 742,948.28 743.72,950.2 745.44,952.08 747.16,953.94 748.88,955.77 750.6,957.57 752.32,959.35 754.03,961.09 755.75,962.81 757.47,964.5 759.19,966.17 760.91,967.81 762.63,969.43 764.35,971.02 766.07,972.58 767.79,974.12 769.51,975.64 771.23,977.13 772.95,978.6 774.67,980.05 776.38,981.48 778.1,982.88 779.82,984.26 781.54,985.62 783.26,986.96 784.98,988.28 786.7,989.58 788.42,990.86 790.14,992.12 791.86,993.35 793.58,994.57 795.3,995.78 797.02,996.96 798.73,998.12 800.45,999.27 802.17,1000.4 803.89,1001.51 805.61,1002.6 807.33,1003.68 809.05,1004.74 810.77,1005.78 812.49,1006.81 814.21,1007.82 815.93,1008.81 817.65,1009.8 819.37,1010.76 821.08,1011.71 822.8,1012.65 824.52,1013.57 826.24,1014.47 827.96,1015.37 829.68,1016.25 831.4,1017.11 833.12,1017.96 834.84,1018.8 836.56,1019.63 838.28,1020.44 840,1021.24 841.72,1022.03 843.43,1022.81 845.15,1023.57 846.87,1024.32 848.59,1025.06 850.31,1025.79 852.03,1026.51 853.75,1027.22 855.47,1027.91 857.19,1028.6 858.91,1029.27 860.63,1029.93 862.35,1030.59 864.07,1031.23 865.78,1031.87 867.5,1032.49 869.22,1033.1 870.94,1033.71 872.66,1034.3 874.38,1034.89 876.1,1035.47 877.82,1036.03 879.54,1036.59 881.26,1037.14 882.98,1037.69 884.7,1038.22 886.42,1038.74 888.13,1039.26 889.85,1039.77 891.57,1040.27 893.29,1040.77 895.01,1041.25 896.73,1041.73 898.45,1042.2 900.17,1042.67 901.89,1043.12" fill="none" stroke="#06DF2D" stroke-width="2.5" stroke-linecap="round" stroke-linejoin="round"/>
<polyline clip-path="url(#c11)" points="626.81,853.6 628.53,856.8 630.25,859.95 631.97,863.05 633.69,866.1 635.41,869.1 637.13,872.06 638.85,874.97 640.57,877.83 642.28,880.65 644,883.43 645.72,886.17 647.44,888.86 649.16,891.51 650.88,894.12 652.6,896.69 654.32,899.22 656.04,901.71 657.76,904.16 659.48,906.57 661.2,908.95 662.92,911.29 664.63,913.6 666.35,915.86 668.07,918.1 669.79,920.29 671.51,922.46 673.23,924.59 674.95,926.69 676.67,928.75 678.39,930.79 680.11,932.79 681.83,934.76 683.55,936.7 685.27,938.61 686.98,940.49 688.7,942.34 690.42,944.17 692.14,945.96 693.86,947.73 695.58,949.47 697.3,951.18 699.02,952.87 700.74,954.53 702.46,956.16 704.18,957.77 705.9,959.36 707.62,960.92 709.33,962.45 711.05,963.96 712.77,965.45 714.49,966.92 716.21,968.36 717.93,969.78 719.65,971.18 721.37,972.56 723.09,973.91 724.81,975.25 726.53,976.56 728.25,977.85 729.97,979.13 731.68,980.38 733.4,981.62 735.12,982.83 736.84,984.03 738.56,985.21 740.28,986.37 742,987.51 743.72,988.63 745.44,989.74 747.16,990.83 748.88,991.9 750.6,992.96 752.32,994 754.03,995.02 755.75,996.03 757.47,997.02 759.19,998 760.91,998.96 762.63,999.91 764.35,1000.84 766.07,1001.76 767.79,1002.66 769.51,1003.55 771.23,1004.43 772.95,1005.29 774.67,1006.14 776.38,1006.97 778.1,1007.8 779.82,1008.61 781.54,1009.41 783.26,1010.19 784.98,1010.96 786.7,1011.73 788.42,1012.47 790.14,1013.21 791.86,1013.94 793.58,1014.65 795.3,1015.36 797.02,1016.05 798.73,1016.73 800.45,1017.41 802.17,1018.07 803.89,1018.72 805.61,1019.36 807.33,1019.99 809.05,1020.61 810.77,1021.23 812.49,1021.83 814.21,1022.42 815.93,1023 817.65,1023.58 819.37,1024.15 821.08,1024.7 822.8,1025.25 824.52,1025.79 826.24,1026.32 827.96,1026.85 829.68,1027.36 831.4,1027.87 833.12,1028.37 834.84,1028.86 836.56,1029.35 838.28,1029.82 840,1030.29 841.72,1030.75 843.43,1031.21 845.15,1031.66 846.87,1032.1 848.59,1032.53 850.31,1032.96 852.03,1033.38 853.75,1033.79 855.47,1034.2 857.19,1034.6 858.91,1035 860.63,1035.39 862.35,1035.77 864.07,1036.15 865.78,1036.52 867.5,1036.89 869.22,1037.25 870.94,1037.6 872.66,1037.95 874.38,1038.29 876.1,1038.63 877.82,1038.97 879.54,1039.29 881.26,1039.62 882.98,1039.93 884.7,1040.25 886.42,1040.56 888.13,1040.86 889.85,1041.16 891.57,1041.45 893.29,1041.74 895.01,1042.03 896.73,1042.31 898.45,1042.58 900.17,1042.85 901.89,1043.12" fill="none" stroke="#06F730" stroke-width="2.5" stroke-linecap="round" stroke-linejoin="round"/>
</g>
<g id="panel-g">
<rect x="1063" y="707" width="356.2" height="349.05" fill="none" stroke="#000" stroke-width="2.5"/>
<path d="M1103.68 1057.3V1076.65M1158.65 1057.3V1076.65M1213.62 1057.3V1076.65M1268.58 1057.3V1076.65M1323.55 1057.3V1076.65M1378.52 1057.3V1076.65" stroke="#000" stroke-width="2.5" stroke-linecap="round" fill="none"/>
<path d="M1061.75 719.93H1045.8M1061.75 772.06H1045.8M1061.75 824.18H1045.8M1061.75 876.31H1045.8M1061.75 928.44H1045.8M1061.75 980.57H1045.8M1061.75 1032.7H1045.8" stroke="#000" stroke-width="2.5" stroke-linecap="round" fill="none"/>
<rect clip-path="url(#c12)" x="1076.19" y="824.18" width="329.81" height="104.26" fill="#E3E3E3"/>
<rect clip-path="url(#c12)" x="1076.19" y="928.44" width="329.81" height="104.26" fill="#B1B1B1"/>
<rect clip-path="url(#c12)" x="1076.19" y="1032.7" width="329.81" height="417.03" fill="#808080"/>
<polyline clip-path="url(#c12)" points="1103.68,307 1105.39,307 1107.11,307 1108.83,307 1110.55,307 1112.27,307 1113.98,307 1115.7,307 1117.42,307 1119.14,307 1120.86,307 1122.57,307 1124.29,307 1126.01,307 1127.73,307 1129.44,307 1131.16,307 1132.88,307 1134.6,307 1136.32,307 1138.03,307 1139.75,307 1141.47,307 1143.19,307 1144.9,307 1146.62,307 1148.34,307 1150.06,307 1151.78,307 1153.49,307 1155.21,307 1156.93,307 1158.65,307 1160.36,307 1162.08,307 1163.8,307 1165.52,307 1167.24,307 1168.95,307 1170.67,315.99 1172.39,331.35 1174.11,346.38 1175.82,361.08 1177.54,375.47 1179.26,389.56 1180.98,403.34 1182.7,416.82 1184.41,430.02 1186.13,442.93 1187.85,455.57 1189.57,467.94 1191.28,480.04 1193,491.88 1194.72,503.47 1196.44,514.81 1198.16,525.91 1199.87,536.77 1201.59,547.39 1203.31,557.79 1205.03,567.97 1206.74,577.93 1208.46,587.67 1210.18,597.21 1211.9,606.54 1213.62,615.67 1215.33,624.61 1217.05,633.35 1218.77,641.91 1220.49,650.28 1222.2,658.48 1223.92,666.5 1225.64,674.34 1227.36,682.02 1229.08,689.54 1230.79,696.89 1232.51,704.08 1234.23,711.13 1235.95,718.02 1237.66,724.76 1239.38,731.36 1241.1,737.82 1242.82,744.13 1244.54,750.32 1246.25,756.37 1247.97,762.29 1249.69,768.08 1251.41,773.75 1253.12,779.3 1254.84,784.73 1256.56,790.05 1258.28,795.24 1260,800.33 1261.71,805.31 1263.43,810.18 1265.15,814.95 1266.87,819.62 1268.58,824.18 1270.3,828.65 1272.02,833.02 1273.74,837.3 1275.46,841.49 1277.17,845.59 1278.89,849.6 1280.61,853.52 1282.33,857.36 1284.04,861.12 1285.76,864.79 1287.48,868.39 1289.2,871.91 1290.92,875.36 1292.63,878.73 1294.35,882.03 1296.07,885.26 1297.79,888.42 1299.5,891.51 1301.22,894.53 1302.94,897.49 1304.66,900.39 1306.38,903.23 1308.09,906 1309.81,908.71 1311.53,911.37 1313.25,913.97 1314.96,916.51 1316.68,919 1318.4,921.44 1320.12,923.82 1321.84,926.16 1323.55,928.44 1325.27,930.67 1326.99,932.86 1328.71,935 1330.42,937.09 1332.14,939.14 1333.86,941.15 1335.58,943.11 1337.3,945.03 1339.01,946.91 1340.73,948.74 1342.45,950.54 1344.17,952.3 1345.88,954.03 1347.6,955.71 1349.32,957.36 1351.04,958.98 1352.76,960.56 1354.47,962.1 1356.19,963.61 1357.91,965.09 1359.63,966.54 1361.34,967.96 1363.06,969.35 1364.78,970.71 1366.5,972.03 1368.22,973.33 1369.93,974.61 1371.65,975.85 1373.37,977.07 1375.09,978.26 1376.81,979.43 1378.52,980.57" fill="none" stroke="#068A17" stroke-width="2.5" stroke-linecap="round" stroke-linejoin="round"/>
<polyline clip-path="url(#c12)" points="1103.68,615.67 1105.39,620.16 1107.11,624.61 1108.83,629 1110.55,633.35 1112.27,637.65 1113.98,641.91 1115.7,646.12 1117.42,650.28 1119.14,654.4 1120.86,658.48 1122.57,662.51 1124.29,666.5 1126.01,670.44 1127.73,674.34 1129.44,678.2 1131.16,682.02 1132.88,685.8 1134.6,689.54 1136.32,693.23 1138.03,696.89 1139.75,700.51 1141.47,704.08 1143.19,707.62 1144.9,711.13 1146.62,714.59 1148.34,718.02 1150.06,721.41 1151.78,724.76 1153.49,728.08 1155.21,731.36 1156.93,734.6 1158.65,737.82 1160.36,740.99 1162.08,744.13 1163.8,747.24 1165.52,750.32 1167.24,753.36 1168.95,756.37 1170.67,759.34 1172.39,762.29 1174.11,765.2 1175.82,768.08 1177.54,770.93 1179.26,773.75 1180.98,776.54 1182.7,779.3 1184.41,782.03 1186.13,784.73 1187.85,787.4 1189.57,790.05 1191.28,792.66 1193,795.24 1194.72,797.8 1196.44,800.33 1198.16,802.84 1199.87,805.31 1201.59,807.76 1203.31,810.18 1205.03,812.58 1206.74,814.95 1208.46,817.3 1210.18,819.62 1211.9,821.91 1213.62,824.18 1215.33,826.43 1217.05,828.65 1218.77,830.85 1220.49,833.02 1222.2,835.18 1223.92,837.3 1225.64,839.41 1227.36,841.49 1229.08,843.55 1230.79,845.59 1232.51,847.6 1234.23,849.6 1235.95,851.57 1237.66,853.52 1239.38,855.45 1241.1,857.36 1242.82,859.25 1244.54,861.12 1246.25,862.96 1247.97,864.79 1249.69,866.6 1251.41,868.39 1253.12,870.16 1254.84,871.91 1256.56,873.64 1258.28,875.36 1260,877.05 1261.71,878.73 1263.43,880.39 1265.15,882.03 1266.87,883.65 1268.58,885.26 1270.3,886.84 1272.02,888.42 1273.74,889.97 1275.46,891.51 1277.17,893.03 1278.89,894.53 1280.61,896.02 1282.33,897.49 1284.04,898.95 1285.76,900.39 1287.48,901.82 1289.2,903.23 1290.92,904.62 1292.63,906 1294.35,907.36 1296.07,908.71 1297.79,910.05 1299.5,911.37 1301.22,912.68 1302.94,913.97 1304.66,915.25 1306.38,916.51 1308.09,917.77 1309.81,919 1311.53,920.23 1313.25,921.44 1314.96,922.64 1316.68,923.82 1318.4,925 1320.12,926.16 1321.84,927.31 1323.55,928.44 1325.27,929.56 1326.99,930.67 1328.71,931.77 1330.42,932.86 1332.14,933.94 1333.86,935 1335.58,936.05 1337.3,937.09 1339.01,938.12 1340.73,939.14 1342.45,940.15 1344.17,941.15 1345.88,942.13 1347.6,943.11 1349.32,944.07 1351.04,945.03 1352.76,945.97 1354.47,946.91 1356.19,947.83 1357.91,948.74 1359.63,949.65 1361.34,950.54 1363.06,951.43 1364.78,952.3 1366.5,953.17 1368.22,954.03 1369.93,954.87 1371.65,955.71 1373.37,956.54 1375.09,957.36 1376.81,958.17 1378.52,958.98" fill="none" stroke="#05A31F" stroke-width="2.5" stroke-linecap="round" stroke-linejoin="round"/>
<polyline clip-path="url(#c12)" points="1103.68,769.99 1105.39,771.88 1107.11,773.75 1108.83,775.62 1110.55,777.47 1112.27,779.3 1113.98,781.13 1115.7,782.94 1117.42,784.73 1119.14,786.52 1120.86,788.29 1122.57,790.05 1124.29,791.79 1126.01,793.52 1127.73,795.24 1129.44,796.95 1131.16,798.65 1132.88,800.33 1134.6,802 1136.32,803.66 1138.03,805.31 1139.75,806.95 1141.47,808.57 1143.19,810.18 1144.9,811.79 1146.62,813.37 1148.34,814.95 1150.06,816.52 1151.78,818.07 1153.49,819.62 1155.21,821.15 1156.93,822.67 1158.65,824.18 1160.36,825.68 1162.08,827.17 1163.8,828.65 1165.52,830.12 1167.24,831.58 1168.95,833.02 1170.67,834.46 1172.39,835.89 1174.11,837.3 1175.82,838.71 1177.54,840.1 1179.26,841.49 1180.98,842.87 1182.7,844.23 1184.41,845.59 1186.13,846.93 1187.85,848.27 1189.57,849.6 1191.28,850.91 1193,852.22 1194.72,853.52 1196.44,854.81 1198.16,856.09 1199.87,857.36 1201.59,858.62 1203.31,859.87 1205.03,861.12 1206.74,862.35 1208.46,863.58 1210.18,864.79 1211.9,866 1213.62,867.2 1215.33,868.39 1217.05,869.57 1218.77,870.75 1220.49,871.91 1222.2,873.07 1223.92,874.22 1225.64,875.36 1227.36,876.49 1229.08,877.61 1230.79,878.73 1232.51,879.84 1234.23,880.94 1235.95,882.03 1237.66,883.11 1239.38,884.19 1241.1,885.26 1242.82,886.32 1244.54,887.37 1246.25,888.42 1247.97,889.45 1249.69,890.48 1251.41,891.51 1253.12,892.52 1254.84,893.53 1256.56,894.53 1258.28,895.53 1260,896.51 1261.71,897.49 1263.43,898.47 1265.15,899.43 1266.87,900.39 1268.58,901.34 1270.3,902.29 1272.02,903.23 1273.74,904.16 1275.46,905.08 1277.17,906 1278.89,906.91 1280.61,907.82 1282.33,908.71 1284.04,909.61 1285.76,910.49 1287.48,911.37 1289.2,912.24 1290.92,913.11 1292.63,913.97 1294.35,914.82 1296.07,915.67 1297.79,916.51 1299.5,917.35 1301.22,918.18 1302.94,919 1304.66,919.82 1306.38,920.63 1308.09,921.44 1309.81,922.24 1311.53,923.04 1313.25,923.82 1314.96,924.61 1316.68,925.39 1318.4,926.16 1320.12,926.92 1321.84,927.68 1323.55,928.44 1325.27,929.19 1326.99,929.94 1328.71,930.67 1330.42,931.41 1332.14,932.14 1333.86,932.86 1335.58,933.58 1337.3,934.29 1339.01,935 1340.73,935.7 1342.45,936.4 1344.17,937.09 1345.88,937.78 1347.6,938.46 1349.32,939.14 1351.04,939.81 1352.76,940.48 1354.47,941.15 1356.19,941.81 1357.91,942.46 1359.63,943.11 1361.34,943.75 1363.06,944.39 1364.78,945.03 1366.5,945.66 1368.22,946.28 1369.93,946.91 1371.65,947.52 1373.37,948.14 1375.09,948.74 1376.81,949.35 1378.52,949.95" fill="none" stroke="#04BF27" stroke-width="2.5" stroke-linecap="round" stroke-linejoin="round"/>
<polyline clip-path="url(#c12)" points="1103.68,824.18 1105.39,825.31 1107.11,826.43 1108.83,827.54 1110.55,828.65 1112.27,829.75 1113.98,830.85 1115.7,831.94 1117.42,833.02 1119.14,834.1 1120.86,835.18 1122.57,836.24 1124.29,837.3 1126.01,838.36 1127.73,839.41 1129.44,840.45 1131.16,841.49 1132.88,842.52 1134.6,843.55 1136.32,844.57 1138.03,845.59 1139.75,846.6 1141.47,847.6 1143.19,848.6 1144.9,849.6 1146.62,850.59 1148.34,851.57 1150.06,852.55 1151.78,853.52 1153.49,854.49 1155.21,855.45 1156.93,856.41 1158.65,857.36 1160.36,858.31 1162.08,859.25 1163.8,860.18 1165.52,861.12 1167.24,862.04 1168.95,862.96 1170.67,863.88 1172.39,864.79 1174.11,865.7 1175.82,866.6 1177.54,867.5 1179.26,868.39 1180.98,869.28 1182.7,870.16 1184.41,871.04 1186.13,871.91 1187.85,872.78 1189.57,873.64 1191.28,874.5 1193,875.36 1194.72,876.21 1196.44,877.05 1198.16,877.89 1199.87,878.73 1201.59,879.56 1203.31,880.39 1205.03,881.21 1206.74,882.03 1208.46,882.84 1210.18,883.65 1211.9,884.46 1213.62,885.26 1215.33,886.05 1217.05,886.84 1218.77,887.63 1220.49,888.42 1222.2,889.19 1223.92,889.97 1225.64,890.74 1227.36,891.51 1229.08,892.27 1230.79,893.03 1232.51,893.78 1234.23,894.53 1235.95,895.28 1237.66,896.02 1239.38,896.76 1241.1,897.49 1242.82,898.22 1244.54,898.95 1246.25,899.67 1247.97,900.39 1249.69,901.1 1251.41,901.82 1253.12,902.52 1254.84,903.23 1256.56,903.92 1258.28,904.62 1260,905.31 1261.71,906 1263.43,906.68 1265.15,907.36 1266.87,908.04 1268.58,908.71 1270.3,909.38 1272.02,910.05 1273.74,910.71 1275.46,911.37 1277.17,912.03 1278.89,912.68 1280.61,913.33 1282.33,913.97 1284.04,914.61 1285.76,915.25 1287.48,915.88 1289.2,916.51 1290.92,917.14 1292.63,917.77 1294.35,918.39 1296.07,919 1297.79,919.62 1299.5,920.23 1301.22,920.84 1302.94,921.44 1304.66,922.04 1306.38,922.64 1308.09,923.23 1309.81,923.82 1311.53,924.41 1313.25,925 1314.96,925.58 1316.68,926.16 1318.4,926.73 1320.12,927.31 1321.84,927.87 1323.55,928.44 1325.27,929 1326.99,929.56 1328.71,930.12 1330.42,930.67 1332.14,931.23 1333.86,931.77 1335.58,932.32 1337.3,932.86 1339.01,933.4 1340.73,933.94 1342.45,934.47 1344.17,935 1345.88,935.53 1347.6,936.05 1349.32,936.57 1351.04,937.09 1352.76,937.61 1354.47,938.12 1356.19,938.63 1357.91,939.14 1359.63,939.65 1361.34,940.15 1363.06,940.65 1364.78,941.15 1366.5,941.64 1368.22,942.13 1369.93,942.62 1371.65,943.11 1373.37,943.59 1375.09,944.07 1376.81,944.55 1378.52,945.03" fill="none" stroke="#06DF2D" stroke-width="2.5" stroke-linecap="round" stroke-linejoin="round"/>
<polyline clip-path="url(#c12)" points="1103.68,851.18 1105.39,851.96 1107.11,852.74 1108.83,853.52 1110.55,854.29 1112.27,855.07 1113.98,855.83 1115.7,856.6 1117.42,857.36 1119.14,858.12 1120.86,858.87 1122.57,859.62 1124.29,860.37 1126.01,861.12 1127.73,861.86 1129.44,862.6 1131.16,863.33 1132.88,864.06 1134.6,864.79 1136.32,865.52 1138.03,866.24 1139.75,866.96 1141.47,867.68 1143.19,868.39 1144.9,869.1 1146.62,869.81 1148.34,870.51 1150.06,871.21 1151.78,871.91 1153.49,872.61 1155.21,873.3 1156.93,873.99 1158.65,874.67 1160.36,875.36 1162.08,876.04 1163.8,876.71 1165.52,877.39 1167.24,878.06 1168.95,878.73 1170.67,879.39 1172.39,880.06 1174.11,880.72 1175.82,881.37 1177.54,882.03 1179.26,882.68 1180.98,883.33 1182.7,883.97 1184.41,884.62 1186.13,885.26 1187.85,885.89 1189.57,886.53 1191.28,887.16 1193,887.79 1194.72,888.42 1196.44,889.04 1198.16,889.66 1199.87,890.28 1201.59,890.89 1203.31,891.51 1205.03,892.12 1206.74,892.72 1208.46,893.33 1210.18,893.93 1211.9,894.53 1213.62,895.13 1215.33,895.72 1217.05,896.32 1218.77,896.91 1220.49,897.49 1222.2,898.08 1223.92,898.66 1225.64,899.24 1227.36,899.82 1229.08,900.39 1230.79,900.96 1232.51,901.53 1234.23,902.1 1235.95,902.66 1237.66,903.23 1239.38,903.78 1241.1,904.34 1242.82,904.9 1244.54,905.45 1246.25,906 1247.97,906.55 1249.69,907.09 1251.41,907.64 1253.12,908.18 1254.84,908.71 1256.56,909.25 1258.28,909.78 1260,910.32 1261.71,910.84 1263.43,911.37 1265.15,911.9 1266.87,912.42 1268.58,912.94 1270.3,913.46 1272.02,913.97 1273.74,914.48 1275.46,914.99 1277.17,915.5 1278.89,916.01 1280.61,916.51 1282.33,917.02 1284.04,917.52 1285.76,918.01 1287.48,918.51 1289.2,919 1290.92,919.5 1292.63,919.99 1294.35,920.47 1296.07,920.96 1297.79,921.44 1299.5,921.92 1301.22,922.4 1302.94,922.88 1304.66,923.35 1306.38,923.82 1308.09,924.3 1309.81,924.76 1311.53,925.23 1313.25,925.69 1314.96,926.16 1316.68,926.62 1318.4,927.08 1320.12,927.53 1321.84,927.99 1323.55,928.44 1325.27,928.89 1326.99,929.34 1328.71,929.79 1330.42,930.23 1332.14,930.67 1333.86,931.12 1335.58,931.55 1337.3,931.99 1339.01,932.43 1340.73,932.86 1342.45,933.29 1344.17,933.72 1345.88,934.15 1347.6,934.58 1349.32,935 1351.04,935.42 1352.76,935.84 1354.47,936.26 1356.19,936.68 1357.91,937.09 1359.63,937.51 1361.34,937.92 1363.06,938.33 1364.78,938.74 1366.5,939.14 1368.22,939.55 1369.93,939.95 1371.65,940.35 1373.37,940.75 1375.09,941.15 1376.81,941.54 1378.52,941.94" fill="none" stroke="#06F730" stroke-width="2.5" stroke-linecap="round" stroke-linejoin="round"/>
<path d="M1079.5 824.18H1407.01" stroke="#000" stroke-width="2.4" stroke-linecap="round" stroke-dasharray="0.01 9.59" fill="none"/>
<path d="M1069.9 928.44H1407.01" stroke="#000" stroke-width="2.4" stroke-linecap="round" stroke-dasharray="0.01 9.59" fill="none"/>
<path d="M1079.5 1032.7H1407.01" stroke="#000" stroke-width="2.4" stroke-linecap="round" stroke-dasharray="0.01 9.59" fill="none"/>
</g>
<g id="panel-h">
<rect x="1537.6" y="707" width="356.4" height="349.05" fill="none" stroke="#000" stroke-width="2.5"/>
<path d="M1578.3 1057.3V1076.65M1633.3 1057.3V1076.65M1688.3 1057.3V1076.65M1743.3 1057.3V1076.65M1798.3 1057.3V1076.65M1853.3 1057.3V1076.65" stroke="#000" stroke-width="2.5" stroke-linecap="round" fill="none"/>
<path d="M1536.35 719.93H1520.4M1536.35 772.06H1520.4M1536.35 824.18H1520.4M1536.35 876.31H1520.4M1536.35 928.44H1520.4M1536.35 980.57H1520.4M1536.35 1032.7H1520.4" stroke="#000" stroke-width="2.5" stroke-linecap="round" fill="none"/>
<rect clip-path="url(#c13)" x="1550.8" y="824.18" width="330" height="104.26" fill="#E3E3E3"/>
<rect clip-path="url(#c13)" x="1550.8" y="928.44" width="330" height="104.26" fill="#B1B1B1"/>
<rect clip-path="url(#c13)" x="1550.8" y="1032.7" width="330" height="417.03" fill="#808080"/>
<polyline clip-path="url(#c13)" points="1578.3,732.96 1578.99,733.07 1579.67,733.19 1580.36,733.3 1581.05,733.42 1581.74,733.54 1582.42,733.66 1583.11,733.77 1583.8,733.9 1584.49,734.02 1585.17,734.14 1585.86,734.26 1586.55,734.39 1587.24,734.51 1587.92,734.64 1588.61,734.77 1589.3,734.9 1589.99,735.03 1590.67,735.16 1591.36,735.29 1592.05,735.43 1592.74,735.56 1593.42,735.7 1594.11,735.83 1594.8,735.97 1595.49,736.11 1596.17,736.25 1596.86,736.39 1597.55,736.54 1598.24,736.68 1598.92,736.83 1599.61,736.98 1600.3,737.12 1600.99,737.27 1601.67,737.42 1602.36,737.58 1603.05,737.73 1603.74,737.88 1604.42,738.04 1605.11,738.2 1605.8,738.36 1606.49,738.52 1607.17,738.68 1607.86,738.84 1608.55,739.01 1609.24,739.17 1609.92,739.34 1610.61,739.51 1611.3,739.68 1611.99,739.85 1612.67,740.03 1613.36,740.2 1614.05,740.38 1614.74,740.56 1615.42,740.73 1616.11,740.92 1616.8,741.1 1617.49,741.28 1618.17,741.47 1618.86,741.66 1619.55,741.84 1620.24,742.04 1620.92,742.23 1621.61,742.42 1622.3,742.62 1622.99,742.82 1623.67,743.01 1624.36,743.22 1625.05,743.42 1625.74,743.62 1626.42,743.83 1627.11,744.04 1627.8,744.25 1628.49,744.46 1629.17,744.67 1629.86,744.89 1630.55,745.1 1631.24,745.32 1631.92,745.54 1632.61,745.77 1633.3,745.99 1633.99,746.22 1634.67,746.45 1635.36,746.68 1636.05,746.91 1636.74,747.15 1637.42,747.38 1638.11,747.62 1638.8,747.86 1639.49,748.11 1640.17,748.35 1640.86,748.6 1641.55,748.85 1642.24,749.1 1642.92,749.35 1643.61,749.61 1644.3,749.87 1644.99,750.13 1645.67,750.39 1646.36,750.66 1647.05,750.92 1647.74,751.19 1648.42,751.47 1649.11,751.74 1649.8,752.02 1650.49,752.3 1651.17,752.58 1651.86,752.86 1652.55,753.15 1653.24,753.44 1653.92,753.73 1654.61,754.02 1655.3,754.32 1655.99,754.62 1656.67,754.92 1657.36,755.23 1658.05,755.53 1658.74,755.84 1659.42,756.15 1660.11,756.47 1660.8,756.79 1661.49,757.11 1662.17,757.43 1662.86,757.76 1663.55,758.09 1664.24,758.42 1664.92,758.75 1665.61,759.09 1666.3,759.43 1666.99,759.78 1667.67,760.12 1668.36,760.47 1669.05,760.83 1669.74,761.18 1670.42,761.54 1671.11,761.9 1671.8,762.27 1672.49,762.64 1673.17,763.01 1673.86,763.38 1674.55,763.76 1675.24,764.14 1675.92,764.53 1676.61,764.92 1677.3,765.31 1677.99,765.7 1678.67,766.1 1679.36,766.5 1680.05,766.91 1680.74,767.32 1681.42,767.73 1682.11,768.15 1682.8,768.57 1683.49,768.99 1684.17,769.42 1684.86,769.85 1685.55,770.28 1686.24,770.72 1686.92,771.16 1687.61,771.61 1688.3,772.06 1688.99,772.51 1689.67,772.97 1690.36,773.43 1691.05,773.89 1691.74,774.36 1692.42,774.84 1693.11,775.32 1693.8,775.8 1694.49,776.28 1695.17,776.77 1695.86,777.27 1696.55,777.77 1697.24,778.27 1697.92,778.78 1698.61,779.29 1699.3,779.81 1699.99,780.33 1700.67,780.85 1701.36,781.38 1702.05,781.92 1702.74,782.46 1703.42,783 1704.11,783.55 1704.8,784.11 1705.49,784.66 1706.17,785.23 1706.86,785.8 1707.55,786.37 1708.24,786.95 1708.92,787.53 1709.61,788.12 1710.3,788.71 1710.99,789.31 1711.67,789.91 1712.36,790.52 1713.05,791.14 1713.74,791.76 1714.42,792.38 1715.11,793.01 1715.8,793.65 1716.49,794.29 1717.17,794.94 1717.86,795.59 1718.55,796.25 1719.24,796.91 1719.92,797.58 1720.61,798.26 1721.3,798.94 1721.99,799.63 1722.67,800.32 1723.36,801.02 1724.05,801.73 1724.74,802.44 1725.42,803.16 1726.11,803.88 1726.8,804.61 1727.49,805.35 1728.17,806.09 1728.86,806.84 1729.55,807.6 1730.24,808.36 1730.92,809.13 1731.61,809.91 1732.3,810.69 1732.99,811.48 1733.67,812.27 1734.36,813.08 1735.05,813.89 1735.74,814.71 1736.42,815.53 1737.11,816.36 1737.8,817.2 1738.49,818.05 1739.17,818.9 1739.86,819.76 1740.55,820.63 1741.24,821.51 1741.92,822.39 1742.61,823.28 1743.3,824.18 1743.99,825.09 1744.67,826.01 1745.36,826.93 1746.05,827.86 1746.74,828.8 1747.42,829.75 1748.11,830.7 1748.8,831.67 1749.49,832.64 1750.17,833.62 1750.86,834.61 1751.55,835.61 1752.24,836.61 1752.92,837.63 1753.61,838.65 1754.3,839.69 1754.99,840.73 1755.67,841.78 1756.36,842.84 1757.05,843.91 1757.74,844.99 1758.42,846.08 1759.11,847.18 1759.8,848.28 1760.49,849.4 1761.17,850.53 1761.86,851.66 1762.55,852.81 1763.24,853.97 1763.92,855.13 1764.61,856.31 1765.3,857.49 1765.99,858.69 1766.67,859.9 1767.36,861.12 1768.05,862.35 1768.74,863.59 1769.42,864.84 1770.11,866.1 1770.8,867.37 1771.49,868.65 1772.17,869.95 1772.86,871.25 1773.55,872.57 1774.24,873.9 1774.92,875.24 1775.61,876.59 1776.3,877.95 1776.99,879.33 1777.67,880.71 1778.36,882.11 1779.05,883.52 1779.74,884.95 1780.42,886.38 1781.11,887.83 1781.8,889.29 1782.49,890.77 1783.17,892.25 1783.86,893.75 1784.55,895.27 1785.24,896.79 1785.92,898.33 1786.61,899.88 1787.3,901.45 1787.99,903.03 1788.67,904.62 1789.36,906.23 1790.05,907.85 1790.74,909.49 1791.42,911.13 1792.11,912.8 1792.8,914.48 1793.49,916.17 1794.17,917.88 1794.86,919.6 1795.55,921.34 1796.24,923.09 1796.92,924.86 1797.61,926.64 1798.3,928.44 1798.99,930.25 1799.67,932.09 1800.36,933.93 1801.05,935.79 1801.74,937.67 1802.42,939.57 1803.11,941.48 1803.8,943.41 1804.49,945.35 1805.17,947.31 1805.86,949.29 1806.55,951.29 1807.24,953.3 1807.92,955.33 1808.61,957.38 1809.3,959.45 1809.99,961.53 1810.67,963.63 1811.36,965.75 1812.05,967.89 1812.74,970.05 1813.42,972.23 1814.11,974.42 1814.8,976.64 1815.49,978.87 1816.17,981.12 1816.86,983.4 1817.55,985.69 1818.24,988 1818.92,990.34 1819.61,992.69 1820.3,995.06 1820.99,997.46 1821.67,999.87 1822.36,1002.31 1823.05,1004.76 1823.74,1007.24 1824.42,1009.74 1825.11,1012.27 1825.8,1014.81 1826.49,1017.38 1827.17,1019.96 1827.86,1022.57 1828.55,1025.21 1829.24,1027.86 1829.92,1030.54 1830.61,1032.7 1831.3,1032.7 1831.99,1032.7 1832.67,1032.7 1833.36,1032.7 1834.05,1032.7 1834.74,1032.7 1835.42,1032.7 1836.11,1032.7 1836.8,1032.7 1837.49,1032.7 1838.17,1032.7 1838.86,1032.7 1839.55,1032.7 1840.24,1032.7 1840.92,1032.7 1841.61,1032.7 1842.3,1032.7 1842.99,1032.7 1843.67,1032.7 1844.36,1032.7 1845.05,1032.7 1845.74,1032.7 1846.42,1032.7 1847.11,1032.7 1847.8,1032.7 1848.49,1032.7 1849.18,1032.7 1849.86,1032.7 1850.55,1032.7 1851.24,1032.7 1851.92,1032.7 1852.61,1032.7 1853.3,1032.7" fill="none" stroke="#068A17" stroke-width="2.5" stroke-linecap="round" stroke-linejoin="round"/>
<polyline clip-path="url(#c13)" points="1578.3,798.12 1578.99,798.2 1579.67,798.27 1580.36,798.35 1581.05,798.43 1581.74,798.5 1582.42,798.58 1583.11,798.66 1583.8,798.74 1584.49,798.82 1585.17,798.91 1585.86,798.99 1586.55,799.07 1587.24,799.16 1587.92,799.24 1588.61,799.33 1589.3,799.41 1589.99,799.5 1590.67,799.59 1591.36,799.67 1592.05,799.76 1592.74,799.85 1593.42,799.94 1594.11,800.04 1594.8,800.13 1595.49,800.22 1596.17,800.32 1596.86,800.41 1597.55,800.51 1598.24,800.6 1598.92,800.7 1599.61,800.8 1600.3,800.9 1600.99,801 1601.67,801.1 1602.36,801.2 1603.05,801.3 1603.74,801.4 1604.42,801.51 1605.11,801.61 1605.8,801.72 1606.49,801.83 1607.17,801.93 1607.86,802.04 1608.55,802.15 1609.24,802.26 1609.92,802.37 1610.61,802.49 1611.3,802.6 1611.99,802.72 1612.67,802.83 1613.36,802.95 1614.05,803.06 1614.74,803.18 1615.42,803.3 1616.11,803.42 1616.8,803.55 1617.49,803.67 1618.17,803.79 1618.86,803.92 1619.55,804.04 1620.24,804.17 1620.92,804.3 1621.61,804.43 1622.3,804.56 1622.99,804.69 1623.67,804.82 1624.36,804.96 1625.05,805.09 1625.74,805.23 1626.42,805.37 1627.11,805.5 1627.8,805.64 1628.49,805.79 1629.17,805.93 1629.86,806.07 1630.55,806.22 1631.24,806.36 1631.92,806.51 1632.61,806.66 1633.3,806.81 1633.99,806.96 1634.67,807.11 1635.36,807.27 1636.05,807.42 1636.74,807.58 1637.42,807.74 1638.11,807.89 1638.8,808.06 1639.49,808.22 1640.17,808.38 1640.86,808.55 1641.55,808.71 1642.24,808.88 1642.92,809.05 1643.61,809.22 1644.3,809.39 1644.99,809.57 1645.67,809.74 1646.36,809.92 1647.05,810.1 1647.74,810.28 1648.42,810.46 1649.11,810.64 1649.8,810.82 1650.49,811.01 1651.17,811.2 1651.86,811.39 1652.55,811.58 1653.24,811.77 1653.92,811.97 1654.61,812.16 1655.3,812.36 1655.99,812.56 1656.67,812.76 1657.36,812.96 1658.05,813.17 1658.74,813.37 1659.42,813.58 1660.11,813.79 1660.8,814.01 1661.49,814.22 1662.17,814.43 1662.86,814.65 1663.55,814.87 1664.24,815.09 1664.92,815.32 1665.61,815.54 1666.3,815.77 1666.99,816 1667.67,816.23 1668.36,816.46 1669.05,816.7 1669.74,816.94 1670.42,817.17 1671.11,817.42 1671.8,817.66 1672.49,817.91 1673.17,818.15 1673.86,818.4 1674.55,818.65 1675.24,818.91 1675.92,819.17 1676.61,819.42 1677.3,819.69 1677.99,819.95 1678.67,820.21 1679.36,820.48 1680.05,820.75 1680.74,821.02 1681.42,821.3 1682.11,821.58 1682.8,821.86 1683.49,822.14 1684.17,822.42 1684.86,822.71 1685.55,823 1686.24,823.29 1686.92,823.59 1687.61,823.88 1688.3,824.18 1688.99,824.49 1689.67,824.79 1690.36,825.1 1691.05,825.41 1691.74,825.72 1692.42,826.04 1693.11,826.36 1693.8,826.68 1694.49,827 1695.17,827.33 1695.86,827.66 1696.55,827.99 1697.24,828.33 1697.92,828.67 1698.61,829.01 1699.3,829.35 1699.99,829.7 1700.67,830.05 1701.36,830.4 1702.05,830.76 1702.74,831.12 1703.42,831.48 1704.11,831.85 1704.8,832.22 1705.49,832.59 1706.17,832.96 1706.86,833.34 1707.55,833.73 1708.24,834.11 1708.92,834.5 1709.61,834.89 1710.3,835.29 1710.99,835.69 1711.67,836.09 1712.36,836.5 1713.05,836.9 1713.74,837.32 1714.42,837.73 1715.11,838.15 1715.8,838.58 1716.49,839.01 1717.17,839.44 1717.86,839.87 1718.55,840.31 1719.24,840.75 1719.92,841.2 1720.61,841.65 1721.3,842.11 1721.99,842.56 1722.67,843.03 1723.36,843.49 1724.05,843.96 1724.74,844.44 1725.42,844.92 1726.11,845.4 1726.8,845.89 1727.49,846.38 1728.17,846.87 1728.86,847.37 1729.55,847.88 1730.24,848.39 1730.92,848.9 1731.61,849.42 1732.3,849.94 1732.99,850.47 1733.67,851 1734.36,851.53 1735.05,852.07 1735.74,852.62 1736.42,853.17 1737.11,853.72 1737.8,854.28 1738.49,854.85 1739.17,855.42 1739.86,855.99 1740.55,856.57 1741.24,857.15 1741.92,857.74 1742.61,858.34 1743.3,858.94 1743.99,859.54 1744.67,860.15 1745.36,860.77 1746.05,861.39 1746.74,862.01 1747.42,862.64 1748.11,863.28 1748.8,863.92 1749.49,864.57 1750.17,865.23 1750.86,865.89 1751.55,866.55 1752.24,867.22 1752.92,867.9 1753.61,868.58 1754.3,869.27 1754.99,869.97 1755.67,870.67 1756.36,871.37 1757.05,872.09 1757.74,872.81 1758.42,873.53 1759.11,874.26 1759.8,875 1760.49,875.75 1761.17,876.5 1761.86,877.26 1762.55,878.02 1763.24,878.79 1763.92,879.57 1764.61,880.35 1765.3,881.14 1765.99,881.94 1766.67,882.75 1767.36,883.56 1768.05,884.38 1768.74,885.2 1769.42,886.04 1770.11,886.88 1770.8,887.73 1771.49,888.58 1772.17,889.44 1772.86,890.31 1773.55,891.19 1774.24,892.08 1774.92,892.97 1775.61,893.87 1776.3,894.78 1776.99,895.7 1777.67,896.62 1778.36,897.55 1779.05,898.5 1779.74,899.44 1780.42,900.4 1781.11,901.37 1781.8,902.34 1782.49,903.32 1783.17,904.32 1783.86,905.32 1784.55,906.32 1785.24,907.34 1785.92,908.37 1786.61,909.4 1787.3,910.45 1787.99,911.5 1788.67,912.56 1789.36,913.63 1790.05,914.71 1790.74,915.8 1791.42,916.9 1792.11,918.01 1792.8,919.13 1793.49,920.26 1794.17,921.4 1794.86,922.55 1795.55,923.71 1796.24,924.87 1796.92,926.05 1797.61,927.24 1798.3,928.44 1798.99,929.65 1799.67,930.87 1800.36,932.1 1801.05,933.34 1801.74,934.59 1802.42,935.86 1803.11,937.13 1803.8,938.42 1804.49,939.71 1805.17,941.02 1805.86,942.34 1806.55,943.67 1807.24,945.01 1807.92,946.37 1808.61,947.73 1809.3,949.11 1809.99,950.5 1810.67,951.9 1811.36,953.32 1812.05,954.74 1812.74,956.18 1813.42,957.63 1814.11,959.09 1814.8,960.57 1815.49,962.06 1816.17,963.56 1816.86,965.08 1817.55,966.61 1818.24,968.15 1818.92,969.7 1819.61,971.27 1820.3,972.85 1820.99,974.45 1821.67,976.06 1822.36,977.68 1823.05,979.32 1823.74,980.98 1824.42,982.64 1825.11,984.32 1825.8,986.02 1826.49,987.73 1827.17,989.46 1827.86,991.2 1828.55,992.95 1829.24,994.72 1829.92,996.51 1830.61,998.31 1831.3,1000.13 1831.99,1001.96 1832.67,1003.81 1833.36,1005.68 1834.05,1007.56 1834.74,1009.46 1835.42,1011.37 1836.11,1013.3 1836.8,1015.25 1837.49,1017.22 1838.17,1019.2 1838.86,1021.2 1839.55,1023.22 1840.24,1025.25 1840.92,1027.3 1841.61,1029.37 1842.3,1031.46 1842.99,1032.7 1843.67,1032.7 1844.36,1032.7 1845.05,1032.7 1845.74,1032.7 1846.42,1032.7 1847.11,1032.7 1847.8,1032.7 1848.49,1032.7 1849.18,1032.7 1849.86,1032.7 1850.55,1032.7 1851.24,1032.7 1851.92,1032.7 1852.61,1032.7 1853.3,1032.7" fill="none" stroke="#05A31F" stroke-width="2.5" stroke-linecap="round" stroke-linejoin="round"/>
<polyline clip-path="url(#c13)" points="1578.3,816.74 1578.99,816.8 1579.67,816.87 1580.36,816.93 1581.05,817 1581.74,817.07 1582.42,817.13 1583.11,817.2 1583.8,817.27 1584.49,817.34 1585.17,817.41 1585.86,817.48 1586.55,817.55 1587.24,817.63 1587.92,817.7 1588.61,817.77 1589.3,817.84 1589.99,817.92 1590.67,817.99 1591.36,818.07 1592.05,818.15 1592.74,818.22 1593.42,818.3 1594.11,818.38 1594.8,818.46 1595.49,818.54 1596.17,818.62 1596.86,818.7 1597.55,818.78 1598.24,818.86 1598.92,818.95 1599.61,819.03 1600.3,819.12 1600.99,819.2 1601.67,819.29 1602.36,819.38 1603.05,819.46 1603.74,819.55 1604.42,819.64 1605.11,819.73 1605.8,819.82 1606.49,819.91 1607.17,820.01 1607.86,820.1 1608.55,820.19 1609.24,820.29 1609.92,820.38 1610.61,820.48 1611.3,820.58 1611.99,820.68 1612.67,820.77 1613.36,820.87 1614.05,820.98 1614.74,821.08 1615.42,821.18 1616.11,821.28 1616.8,821.39 1617.49,821.49 1618.17,821.6 1618.86,821.71 1619.55,821.81 1620.24,821.92 1620.92,822.03 1621.61,822.14 1622.3,822.26 1622.99,822.37 1623.67,822.48 1624.36,822.6 1625.05,822.71 1625.74,822.83 1626.42,822.95 1627.11,823.07 1627.8,823.19 1628.49,823.31 1629.17,823.43 1629.86,823.55 1630.55,823.68 1631.24,823.8 1631.92,823.93 1632.61,824.06 1633.3,824.18 1633.99,824.31 1634.67,824.44 1635.36,824.58 1636.05,824.71 1636.74,824.84 1637.42,824.98 1638.11,825.12 1638.8,825.25 1639.49,825.39 1640.17,825.53 1640.86,825.67 1641.55,825.82 1642.24,825.96 1642.92,826.1 1643.61,826.25 1644.3,826.4 1644.99,826.55 1645.67,826.7 1646.36,826.85 1647.05,827 1647.74,827.16 1648.42,827.31 1649.11,827.47 1649.8,827.63 1650.49,827.79 1651.17,827.95 1651.86,828.11 1652.55,828.27 1653.24,828.44 1653.92,828.61 1654.61,828.77 1655.3,828.94 1655.99,829.11 1656.67,829.29 1657.36,829.46 1658.05,829.64 1658.74,829.81 1659.42,829.99 1660.11,830.17 1660.8,830.35 1661.49,830.54 1662.17,830.72 1662.86,830.91 1663.55,831.1 1664.24,831.29 1664.92,831.48 1665.61,831.67 1666.3,831.87 1666.99,832.06 1667.67,832.26 1668.36,832.46 1669.05,832.66 1669.74,832.86 1670.42,833.07 1671.11,833.28 1671.8,833.49 1672.49,833.7 1673.17,833.91 1673.86,834.12 1674.55,834.34 1675.24,834.56 1675.92,834.78 1676.61,835 1677.3,835.22 1677.99,835.45 1678.67,835.68 1679.36,835.9 1680.05,836.14 1680.74,836.37 1681.42,836.61 1682.11,836.84 1682.8,837.08 1683.49,837.32 1684.17,837.57 1684.86,837.81 1685.55,838.06 1686.24,838.31 1686.92,838.57 1687.61,838.82 1688.3,839.08 1688.99,839.34 1689.67,839.6 1690.36,839.86 1691.05,840.13 1691.74,840.4 1692.42,840.67 1693.11,840.94 1693.8,841.22 1694.49,841.49 1695.17,841.77 1695.86,842.06 1696.55,842.34 1697.24,842.63 1697.92,842.92 1698.61,843.21 1699.3,843.51 1699.99,843.8 1700.67,844.11 1701.36,844.41 1702.05,844.71 1702.74,845.02 1703.42,845.33 1704.11,845.65 1704.8,845.96 1705.49,846.28 1706.17,846.6 1706.86,846.93 1707.55,847.26 1708.24,847.59 1708.92,847.92 1709.61,848.26 1710.3,848.6 1710.99,848.94 1711.67,849.28 1712.36,849.63 1713.05,849.98 1713.74,850.34 1714.42,850.69 1715.11,851.05 1715.8,851.42 1716.49,851.78 1717.17,852.15 1717.86,852.53 1718.55,852.9 1719.24,853.28 1719.92,853.66 1720.61,854.05 1721.3,854.44 1721.99,854.83 1722.67,855.23 1723.36,855.63 1724.05,856.03 1724.74,856.44 1725.42,856.85 1726.11,857.26 1726.8,857.68 1727.49,858.1 1728.17,858.53 1728.86,858.95 1729.55,859.39 1730.24,859.82 1730.92,860.26 1731.61,860.71 1732.3,861.15 1732.99,861.6 1733.67,862.06 1734.36,862.52 1735.05,862.98 1735.74,863.45 1736.42,863.92 1737.11,864.4 1737.8,864.88 1738.49,865.36 1739.17,865.85 1739.86,866.34 1740.55,866.84 1741.24,867.34 1741.92,867.84 1742.61,868.35 1743.3,868.87 1743.99,869.38 1744.67,869.91 1745.36,870.43 1746.05,870.97 1746.74,871.5 1747.42,872.04 1748.11,872.59 1748.8,873.14 1749.49,873.7 1750.17,874.26 1750.86,874.82 1751.55,875.39 1752.24,875.97 1752.92,876.55 1753.61,877.13 1754.3,877.72 1754.99,878.32 1755.67,878.92 1756.36,879.53 1757.05,880.14 1757.74,880.75 1758.42,881.38 1759.11,882 1759.8,882.64 1760.49,883.27 1761.17,883.92 1761.86,884.57 1762.55,885.22 1763.24,885.88 1763.92,886.55 1764.61,887.22 1765.3,887.9 1765.99,888.58 1766.67,889.27 1767.36,889.97 1768.05,890.67 1768.74,891.38 1769.42,892.09 1770.11,892.82 1770.8,893.54 1771.49,894.28 1772.17,895.01 1772.86,895.76 1773.55,896.51 1774.24,897.27 1774.92,898.04 1775.61,898.81 1776.3,899.59 1776.99,900.37 1777.67,901.17 1778.36,901.97 1779.05,902.77 1779.74,903.59 1780.42,904.41 1781.11,905.24 1781.8,906.07 1782.49,906.91 1783.17,907.76 1783.86,908.62 1784.55,909.48 1785.24,910.36 1785.92,911.23 1786.61,912.12 1787.3,913.02 1787.99,913.92 1788.67,914.83 1789.36,915.75 1790.05,916.67 1790.74,917.61 1791.42,918.55 1792.11,919.5 1792.8,920.46 1793.49,921.43 1794.17,922.4 1794.86,923.39 1795.55,924.38 1796.24,925.38 1796.92,926.39 1797.61,927.41 1798.3,928.44 1798.99,929.48 1799.67,930.52 1800.36,931.58 1801.05,932.64 1801.74,933.72 1802.42,934.8 1803.11,935.89 1803.8,936.99 1804.49,938.1 1805.17,939.22 1805.86,940.36 1806.55,941.5 1807.24,942.65 1807.92,943.81 1808.61,944.98 1809.3,946.16 1809.99,947.35 1810.67,948.55 1811.36,949.76 1812.05,950.98 1812.74,952.22 1813.42,953.46 1814.11,954.72 1814.8,955.98 1815.49,957.26 1816.17,958.55 1816.86,959.84 1817.55,961.15 1818.24,962.48 1818.92,963.81 1819.61,965.15 1820.3,966.51 1820.99,967.88 1821.67,969.26 1822.36,970.65 1823.05,972.05 1823.74,973.47 1824.42,974.9 1825.11,976.34 1825.8,977.79 1826.49,979.26 1827.17,980.74 1827.86,982.23 1828.55,983.74 1829.24,985.25 1829.92,986.79 1830.61,988.33 1831.3,989.89 1831.99,991.46 1832.67,993.04 1833.36,994.64 1834.05,996.26 1834.74,997.88 1835.42,999.52 1836.11,1001.18 1836.8,1002.85 1837.49,1004.53 1838.17,1006.23 1838.86,1007.95 1839.55,1009.68 1840.24,1011.42 1840.92,1013.18 1841.61,1014.95 1842.3,1016.74 1842.99,1018.55 1843.67,1020.37 1844.36,1022.21 1845.05,1024.06 1845.74,1025.93 1846.42,1027.81 1847.11,1029.71 1847.8,1031.63 1848.49,1032.7 1849.18,1032.7 1849.86,1032.7 1850.55,1032.7 1851.24,1032.7 1851.92,1032.7 1852.61,1032.7 1853.3,1032.7" fill="none" stroke="#04BF27" stroke-width="2.5" stroke-linecap="round" stroke-linejoin="round"/>
<polyline clip-path="url(#c13)" points="1578.3,824.18 1578.99,824.24 1579.67,824.31 1580.36,824.37 1581.05,824.43 1581.74,824.49 1582.42,824.55 1583.11,824.62 1583.8,824.68 1584.49,824.75 1585.17,824.81 1585.86,824.88 1586.55,824.95 1587.24,825.01 1587.92,825.08 1588.61,825.15 1589.3,825.22 1589.99,825.29 1590.67,825.36 1591.36,825.43 1592.05,825.5 1592.74,825.57 1593.42,825.64 1594.11,825.72 1594.8,825.79 1595.49,825.87 1596.17,825.94 1596.86,826.02 1597.55,826.09 1598.24,826.17 1598.92,826.25 1599.61,826.33 1600.3,826.4 1600.99,826.48 1601.67,826.57 1602.36,826.65 1603.05,826.73 1603.74,826.81 1604.42,826.89 1605.11,826.98 1605.8,827.06 1606.49,827.15 1607.17,827.23 1607.86,827.32 1608.55,827.41 1609.24,827.5 1609.92,827.59 1610.61,827.68 1611.3,827.77 1611.99,827.86 1612.67,827.95 1613.36,828.05 1614.05,828.14 1614.74,828.23 1615.42,828.33 1616.11,828.43 1616.8,828.52 1617.49,828.62 1618.17,828.72 1618.86,828.82 1619.55,828.92 1620.24,829.02 1620.92,829.13 1621.61,829.23 1622.3,829.34 1622.99,829.44 1623.67,829.55 1624.36,829.65 1625.05,829.76 1625.74,829.87 1626.42,829.98 1627.11,830.09 1627.8,830.2 1628.49,830.32 1629.17,830.43 1629.86,830.55 1630.55,830.66 1631.24,830.78 1631.92,830.9 1632.61,831.01 1633.3,831.13 1633.99,831.26 1634.67,831.38 1635.36,831.5 1636.05,831.62 1636.74,831.75 1637.42,831.88 1638.11,832 1638.8,832.13 1639.49,832.26 1640.17,832.39 1640.86,832.52 1641.55,832.66 1642.24,832.79 1642.92,832.93 1643.61,833.06 1644.3,833.2 1644.99,833.34 1645.67,833.48 1646.36,833.62 1647.05,833.76 1647.74,833.91 1648.42,834.05 1649.11,834.2 1649.8,834.35 1650.49,834.5 1651.17,834.65 1651.86,834.8 1652.55,834.95 1653.24,835.11 1653.92,835.26 1654.61,835.42 1655.3,835.58 1655.99,835.74 1656.67,835.9 1657.36,836.06 1658.05,836.22 1658.74,836.39 1659.42,836.55 1660.11,836.72 1660.8,836.89 1661.49,837.06 1662.17,837.24 1662.86,837.41 1663.55,837.59 1664.24,837.76 1664.92,837.94 1665.61,838.12 1666.3,838.3 1666.99,838.49 1667.67,838.67 1668.36,838.86 1669.05,839.05 1669.74,839.24 1670.42,839.43 1671.11,839.62 1671.8,839.82 1672.49,840.01 1673.17,840.21 1673.86,840.41 1674.55,840.61 1675.24,840.82 1675.92,841.02 1676.61,841.23 1677.3,841.44 1677.99,841.65 1678.67,841.86 1679.36,842.07 1680.05,842.29 1680.74,842.51 1681.42,842.73 1682.11,842.95 1682.8,843.17 1683.49,843.4 1684.17,843.63 1684.86,843.86 1685.55,844.09 1686.24,844.32 1686.92,844.56 1687.61,844.8 1688.3,845.04 1688.99,845.28 1689.67,845.52 1690.36,845.77 1691.05,846.02 1691.74,846.27 1692.42,846.52 1693.11,846.77 1693.8,847.03 1694.49,847.29 1695.17,847.55 1695.86,847.82 1696.55,848.08 1697.24,848.35 1697.92,848.62 1698.61,848.89 1699.3,849.17 1699.99,849.45 1700.67,849.73 1701.36,850.01 1702.05,850.3 1702.74,850.58 1703.42,850.87 1704.11,851.17 1704.8,851.46 1705.49,851.76 1706.17,852.06 1706.86,852.36 1707.55,852.67 1708.24,852.98 1708.92,853.29 1709.61,853.6 1710.3,853.92 1710.99,854.24 1711.67,854.56 1712.36,854.88 1713.05,855.21 1713.74,855.54 1714.42,855.88 1715.11,856.21 1715.8,856.55 1716.49,856.89 1717.17,857.24 1717.86,857.59 1718.55,857.94 1719.24,858.29 1719.92,858.65 1720.61,859.01 1721.3,859.37 1721.99,859.74 1722.67,860.11 1723.36,860.48 1724.05,860.86 1724.74,861.24 1725.42,861.62 1726.11,862.01 1726.8,862.4 1727.49,862.79 1728.17,863.19 1728.86,863.59 1729.55,863.99 1730.24,864.4 1730.92,864.81 1731.61,865.22 1732.3,865.64 1732.99,866.06 1733.67,866.49 1734.36,866.91 1735.05,867.35 1735.74,867.78 1736.42,868.22 1737.11,868.67 1737.8,869.11 1738.49,869.56 1739.17,870.02 1739.86,870.48 1740.55,870.94 1741.24,871.41 1741.92,871.88 1742.61,872.36 1743.3,872.84 1743.99,873.32 1744.67,873.81 1745.36,874.3 1746.05,874.8 1746.74,875.3 1747.42,875.8 1748.11,876.31 1748.8,876.83 1749.49,877.35 1750.17,877.87 1750.86,878.4 1751.55,878.93 1752.24,879.47 1752.92,880.01 1753.61,880.55 1754.3,881.11 1754.99,881.66 1755.67,882.22 1756.36,882.79 1757.05,883.36 1757.74,883.93 1758.42,884.51 1759.11,885.1 1759.8,885.69 1760.49,886.29 1761.17,886.89 1761.86,887.49 1762.55,888.1 1763.24,888.72 1763.92,889.34 1764.61,889.97 1765.3,890.6 1765.99,891.24 1766.67,891.89 1767.36,892.53 1768.05,893.19 1768.74,893.85 1769.42,894.52 1770.11,895.19 1770.8,895.87 1771.49,896.55 1772.17,897.24 1772.86,897.94 1773.55,898.64 1774.24,899.35 1774.92,900.06 1775.61,900.79 1776.3,901.51 1776.99,902.25 1777.67,902.99 1778.36,903.73 1779.05,904.48 1779.74,905.24 1780.42,906.01 1781.11,906.78 1781.8,907.56 1782.49,908.35 1783.17,909.14 1783.86,909.94 1784.55,910.75 1785.24,911.56 1785.92,912.38 1786.61,913.21 1787.3,914.04 1787.99,914.89 1788.67,915.74 1789.36,916.59 1790.05,917.46 1790.74,918.33 1791.42,919.21 1792.11,920.1 1792.8,920.99 1793.49,921.9 1794.17,922.81 1794.86,923.73 1795.55,924.65 1796.24,925.59 1796.92,926.53 1797.61,927.48 1798.3,928.44 1798.99,929.41 1799.67,930.38 1800.36,931.37 1801.05,932.36 1801.74,933.36 1802.42,934.37 1803.11,935.39 1803.8,936.42 1804.49,937.46 1805.17,938.51 1805.86,939.56 1806.55,940.63 1807.24,941.7 1807.92,942.78 1808.61,943.87 1809.3,944.98 1809.99,946.09 1810.67,947.21 1811.36,948.34 1812.05,949.48 1812.74,950.63 1813.42,951.79 1814.11,952.96 1814.8,954.15 1815.49,955.34 1816.17,956.54 1816.86,957.75 1817.55,958.97 1818.24,960.21 1818.92,961.45 1819.61,962.71 1820.3,963.97 1820.99,965.25 1821.67,966.54 1822.36,967.84 1823.05,969.15 1823.74,970.47 1824.42,971.8 1825.11,973.15 1825.8,974.5 1826.49,975.87 1827.17,977.25 1827.86,978.65 1828.55,980.05 1829.24,981.47 1829.92,982.9 1830.61,984.34 1831.3,985.79 1831.99,987.26 1832.67,988.74 1833.36,990.23 1834.05,991.74 1834.74,993.25 1835.42,994.79 1836.11,996.33 1836.8,997.89 1837.49,999.46 1838.17,1001.05 1838.86,1002.65 1839.55,1004.26 1840.24,1005.89 1840.92,1007.53 1841.61,1009.19 1842.3,1010.86 1842.99,1012.54 1843.67,1014.24 1844.36,1015.95 1845.05,1017.68 1845.74,1019.43 1846.42,1021.19 1847.11,1022.96 1847.8,1024.75 1848.49,1026.56 1849.18,1028.38 1849.86,1030.22 1850.55,1032.07 1851.24,1032.7 1851.92,1032.7 1852.61,1032.7 1853.3,1032.7" fill="none" stroke="#06DF2D" stroke-width="2.5" stroke-linecap="round" stroke-linejoin="round"/>
<polyline clip-path="url(#c13)" points="1578.3,827.55 1578.99,827.61 1579.67,827.66 1580.36,827.72 1581.05,827.78 1581.74,827.84 1582.42,827.91 1583.11,827.97 1583.8,828.03 1584.49,828.09 1585.17,828.16 1585.86,828.22 1586.55,828.28 1587.24,828.35 1587.92,828.41 1588.61,828.48 1589.3,828.55 1589.99,828.61 1590.67,828.68 1591.36,828.75 1592.05,828.82 1592.74,828.89 1593.42,828.96 1594.11,829.03 1594.8,829.1 1595.49,829.17 1596.17,829.25 1596.86,829.32 1597.55,829.39 1598.24,829.47 1598.92,829.54 1599.61,829.62 1600.3,829.7 1600.99,829.77 1601.67,829.85 1602.36,829.93 1603.05,830.01 1603.74,830.09 1604.42,830.17 1605.11,830.25 1605.8,830.33 1606.49,830.42 1607.17,830.5 1607.86,830.58 1608.55,830.67 1609.24,830.75 1609.92,830.84 1610.61,830.93 1611.3,831.02 1611.99,831.1 1612.67,831.19 1613.36,831.28 1614.05,831.38 1614.74,831.47 1615.42,831.56 1616.11,831.65 1616.8,831.75 1617.49,831.84 1618.17,831.94 1618.86,832.04 1619.55,832.13 1620.24,832.23 1620.92,832.33 1621.61,832.43 1622.3,832.53 1622.99,832.63 1623.67,832.74 1624.36,832.84 1625.05,832.94 1625.74,833.05 1626.42,833.16 1627.11,833.26 1627.8,833.37 1628.49,833.48 1629.17,833.59 1629.86,833.7 1630.55,833.82 1631.24,833.93 1631.92,834.04 1632.61,834.16 1633.3,834.27 1633.99,834.39 1634.67,834.51 1635.36,834.63 1636.05,834.75 1636.74,834.87 1637.42,834.99 1638.11,835.11 1638.8,835.24 1639.49,835.36 1640.17,835.49 1640.86,835.62 1641.55,835.75 1642.24,835.88 1642.92,836.01 1643.61,836.14 1644.3,836.27 1644.99,836.41 1645.67,836.54 1646.36,836.68 1647.05,836.82 1647.74,836.96 1648.42,837.1 1649.11,837.24 1649.8,837.38 1650.49,837.53 1651.17,837.67 1651.86,837.82 1652.55,837.97 1653.24,838.12 1653.92,838.27 1654.61,838.42 1655.3,838.57 1655.99,838.73 1656.67,838.88 1657.36,839.04 1658.05,839.2 1658.74,839.36 1659.42,839.52 1660.11,839.68 1660.8,839.85 1661.49,840.01 1662.17,840.18 1662.86,840.35 1663.55,840.52 1664.24,840.69 1664.92,840.86 1665.61,841.04 1666.3,841.21 1666.99,841.39 1667.67,841.57 1668.36,841.75 1669.05,841.93 1669.74,842.11 1670.42,842.3 1671.11,842.49 1671.8,842.67 1672.49,842.86 1673.17,843.06 1673.86,843.25 1674.55,843.45 1675.24,843.64 1675.92,843.84 1676.61,844.04 1677.3,844.24 1677.99,844.45 1678.67,844.65 1679.36,844.86 1680.05,845.07 1680.74,845.28 1681.42,845.49 1682.11,845.71 1682.8,845.92 1683.49,846.14 1684.17,846.36 1684.86,846.59 1685.55,846.81 1686.24,847.04 1686.92,847.26 1687.61,847.49 1688.3,847.73 1688.99,847.96 1689.67,848.2 1690.36,848.43 1691.05,848.67 1691.74,848.92 1692.42,849.16 1693.11,849.41 1693.8,849.66 1694.49,849.91 1695.17,850.16 1695.86,850.42 1696.55,850.67 1697.24,850.93 1697.92,851.2 1698.61,851.46 1699.3,851.73 1699.99,852 1700.67,852.27 1701.36,852.54 1702.05,852.82 1702.74,853.09 1703.42,853.38 1704.11,853.66 1704.8,853.94 1705.49,854.23 1706.17,854.52 1706.86,854.82 1707.55,855.11 1708.24,855.41 1708.92,855.71 1709.61,856.02 1710.3,856.32 1710.99,856.63 1711.67,856.94 1712.36,857.26 1713.05,857.57 1713.74,857.89 1714.42,858.22 1715.11,858.54 1715.8,858.87 1716.49,859.2 1717.17,859.54 1717.86,859.87 1718.55,860.21 1719.24,860.55 1719.92,860.9 1720.61,861.25 1721.3,861.6 1721.99,861.96 1722.67,862.31 1723.36,862.67 1724.05,863.04 1724.74,863.41 1725.42,863.78 1726.11,864.15 1726.8,864.53 1727.49,864.91 1728.17,865.29 1728.86,865.68 1729.55,866.07 1730.24,866.46 1730.92,866.86 1731.61,867.26 1732.3,867.66 1732.99,868.07 1733.67,868.48 1734.36,868.9 1735.05,869.32 1735.74,869.74 1736.42,870.16 1737.11,870.59 1737.8,871.03 1738.49,871.46 1739.17,871.9 1739.86,872.35 1740.55,872.8 1741.24,873.25 1741.92,873.71 1742.61,874.17 1743.3,874.63 1743.99,875.1 1744.67,875.57 1745.36,876.05 1746.05,876.53 1746.74,877.01 1747.42,877.5 1748.11,878 1748.8,878.49 1749.49,878.99 1750.17,879.5 1750.86,880.01 1751.55,880.53 1752.24,881.05 1752.92,881.57 1753.61,882.1 1754.3,882.63 1754.99,883.17 1755.67,883.71 1756.36,884.26 1757.05,884.81 1757.74,885.37 1758.42,885.93 1759.11,886.5 1759.8,887.07 1760.49,887.64 1761.17,888.23 1761.86,888.81 1762.55,889.4 1763.24,890 1763.92,890.6 1764.61,891.21 1765.3,891.82 1765.99,892.44 1766.67,893.06 1767.36,893.69 1768.05,894.33 1768.74,894.97 1769.42,895.61 1770.11,896.26 1770.8,896.92 1771.49,897.58 1772.17,898.25 1772.86,898.92 1773.55,899.6 1774.24,900.29 1774.92,900.98 1775.61,901.68 1776.3,902.38 1776.99,903.09 1777.67,903.81 1778.36,904.53 1779.05,905.26 1779.74,905.99 1780.42,906.73 1781.11,907.48 1781.8,908.24 1782.49,909 1783.17,909.76 1783.86,910.54 1784.55,911.32 1785.24,912.11 1785.92,912.9 1786.61,913.7 1787.3,914.51 1787.99,915.32 1788.67,916.15 1789.36,916.98 1790.05,917.81 1790.74,918.66 1791.42,919.51 1792.11,920.37 1792.8,921.23 1793.49,922.11 1794.17,922.99 1794.86,923.88 1795.55,924.77 1796.24,925.68 1796.92,926.59 1797.61,927.51 1798.3,928.44 1798.99,929.38 1799.67,930.32 1800.36,931.27 1801.05,932.24 1801.74,933.21 1802.42,934.18 1803.11,935.17 1803.8,936.16 1804.49,937.17 1805.17,938.18 1805.86,939.2 1806.55,940.23 1807.24,941.27 1807.92,942.32 1808.61,943.38 1809.3,944.44 1809.99,945.52 1810.67,946.6 1811.36,947.7 1812.05,948.8 1812.74,949.92 1813.42,951.04 1814.11,952.17 1814.8,953.32 1815.49,954.47 1816.17,955.63 1816.86,956.81 1817.55,957.99 1818.24,959.18 1818.92,960.39 1819.61,961.6 1820.3,962.83 1820.99,964.06 1821.67,965.31 1822.36,966.57 1823.05,967.83 1823.74,969.11 1824.42,970.4 1825.11,971.7 1825.8,973.02 1826.49,974.34 1827.17,975.68 1827.86,977.03 1828.55,978.38 1829.24,979.76 1829.92,981.14 1830.61,982.53 1831.3,983.94 1831.99,985.36 1832.67,986.79 1833.36,988.24 1834.05,989.69 1834.74,991.16 1835.42,992.65 1836.11,994.14 1836.8,995.65 1837.49,997.17 1838.17,998.71 1838.86,1000.25 1839.55,1001.81 1840.24,1003.39 1840.92,1004.98 1841.61,1006.58 1842.3,1008.2 1842.99,1009.83 1843.67,1011.47 1844.36,1013.13 1845.05,1014.8 1845.74,1016.49 1846.42,1018.2 1847.11,1019.91 1847.8,1021.65 1848.49,1023.39 1849.18,1025.16 1849.86,1026.93 1850.55,1028.73 1851.24,1030.54 1851.92,1032.36 1852.61,1032.7 1853.3,1032.7" fill="none" stroke="#06F730" stroke-width="2.5" stroke-linecap="round" stroke-linejoin="round"/>
<path d="M1554.1 824.18H1881.8" stroke="#000" stroke-width="2.4" stroke-linecap="round" stroke-dasharray="0.01 9.59" fill="none"/>
<path d="M1544.5 928.44H1881.8" stroke="#000" stroke-width="2.4" stroke-linecap="round" stroke-dasharray="0.01 9.59" fill="none"/>
<path d="M1554.1 1032.7H1881.8" stroke="#000" stroke-width="2.4" stroke-linecap="round" stroke-dasharray="0.01 9.59" fill="none"/>
</g>
<rect x="141.9" y="131.7" width="58.9" height="16" fill="#FF2A03"/>
<rect x="200.4" y="131.7" width="29.65" height="16" fill="#FF560F"/>
<rect x="229.65" y="131.7" width="29.25" height="16" fill="#FF7F17"/>
<path d="M142.3 158.9V148H258.6V158.9" fill="none" stroke="#000" stroke-width="2.1" stroke-linecap="round" stroke-linejoin="miter"/>
<path d="M110.5 214.7H127.5" stroke="#06F730" stroke-width="5.2" stroke-linecap="round"/>
<rect x="141.9" y="756.8" width="29.65" height="16" fill="#068A17"/>
<rect x="171.15" y="756.8" width="29.65" height="16" fill="#05A31F"/>
<rect x="200.4" y="756.8" width="29.65" height="16" fill="#04BF27"/>
<rect x="229.65" y="756.8" width="29.25" height="16" fill="#06DF2D"/>
<path d="M142.3 784V773.1H258.6V784" fill="none" stroke="#000" stroke-width="2.1" stroke-linecap="round" stroke-linejoin="miter"/>
<path d="M110.5 843.6H127.5" stroke="#FF2A03" stroke-width="5.2" stroke-linecap="round"/>
<text transform="translate(102.18 23.2) scale(1 1.02)" font-size="32">Dynamic positive control,</text>
<text transform="translate(102.4 61.8) scale(1 1.02)" font-size="32">constant negative control</text>
<text transform="translate(95.94 643.8) scale(1 1.02)" font-size="32">Dynamic negative control,</text>
<text transform="translate(108.04 683) scale(1 1.02)" font-size="32">constant positive control</text>
<text transform="translate(12.8 70.4) scale(1 1.04)" font-size="37.5" font-weight="bold">a</text>
<text transform="translate(500.97 70.3) scale(1 1.04)" font-size="37.5" font-weight="bold">b</text>
<text transform="translate(986.39 70.5) scale(1 1.04)" font-size="37.5" font-weight="bold">c</text>
<text transform="translate(1458.91 70.3) scale(1 1.04)" font-size="37.5" font-weight="bold">d</text>
<text transform="translate(12.88 687.5) scale(1 1.04)" font-size="37.5" font-weight="bold">e</text>
<text transform="translate(501.39 687.5) scale(1 1.04)" font-size="37.5" font-weight="bold">f</text>
<text transform="translate(986.52 687.5) scale(1 1.04)" font-size="37.5" font-weight="bold">g</text>
<text transform="translate(1458.79 687.5) scale(1 1.04)" font-size="37.5" font-weight="bold">h</text>
<text transform="translate(109.9 118.7) scale(1 0.99)" font-size="25.6">Positive control</text>
<text transform="translate(110.24 180.5) scale(1 1.05)" font-size="25.6">−0.015</text>
<text transform="translate(226.34 180.5) scale(1 1.05)" font-size="25.6">−0.005</text>
<text transform="translate(134.6 222.9) scale(1 0.99)" font-size="25.6">Negative control</text>
<text transform="translate(108.7 740.8) scale(1 0.99)" font-size="25.6">Negative control</text>
<text transform="translate(122.1 809.6) scale(1 1.05)" font-size="25.6">0.010</text>
<text transform="translate(238.8 809.6) scale(1 1.05)" font-size="25.6">0.055</text>
<text transform="translate(134.3 852.8) rotate(-1.32) scale(1 0.99)" font-size="25.6">Positive control</text>
<text transform="translate(39.47 110.44) scale(1 1.05)" font-size="25.3">100</text>
<text transform="translate(524.77 110.44) scale(1 1.05)" font-size="25.3">100</text>
<text transform="translate(53.55 177.24) scale(1 1.05)" font-size="25.3">80</text>
<text transform="translate(538.85 177.24) scale(1 1.05)" font-size="25.3">80</text>
<text transform="translate(53.55 236.74) scale(1 1.05)" font-size="25.3">60</text>
<text transform="translate(538.85 236.74) scale(1 1.05)" font-size="25.3">60</text>
<text transform="translate(53.55 303.89) scale(1 1.05)" font-size="25.3">40</text>
<text transform="translate(538.85 303.89) scale(1 1.05)" font-size="25.3">40</text>
<text transform="translate(53.55 367.04) scale(1 1.05)" font-size="25.3">20</text>
<text transform="translate(538.85 367.04) scale(1 1.05)" font-size="25.3">20</text>
<text transform="translate(67.61 433.04) scale(1 1.05)" font-size="25.3">0</text>
<text transform="translate(552.91 433.04) scale(1 1.05)" font-size="25.3">0</text>
<text transform="translate(39.47 728.74) scale(1 1.05)" font-size="25.3">140</text>
<text transform="translate(39.47 776.04) scale(1 1.05)" font-size="25.3">120</text>
<text transform="translate(39.47 823.94) scale(1 1.05)" font-size="25.3">100</text>
<text transform="translate(53.55 870.94) scale(1 1.05)" font-size="25.3">80</text>
<text transform="translate(53.55 914.49) scale(1 1.05)" font-size="25.3">60</text>
<text transform="translate(53.55 962.49) scale(1 1.05)" font-size="25.3">40</text>
<text transform="translate(53.55 1010.24) scale(1 1.05)" font-size="25.3">20</text>
<text transform="translate(67.61 1055.54) scale(1 1.05)" font-size="25.3">0</text>
<text transform="translate(524.77 732.49) scale(1 1.05)" font-size="25.3">100</text>
<text transform="translate(538.85 794.39) scale(1 1.05)" font-size="25.3">80</text>
<text transform="translate(538.85 867.39) scale(1 1.05)" font-size="25.3">60</text>
<text transform="translate(538.85 919.09) scale(1 1.05)" font-size="25.3">40</text>
<text transform="translate(538.85 984.69) scale(1 1.05)" font-size="25.3">20</text>
<text transform="translate(552.91 1055.94) scale(1 1.05)" font-size="25.3">0</text>
<text transform="translate(1028.79 106.37) scale(1 1.05)" font-size="25.3">2</text>
<text transform="translate(1503.99 106.37) scale(1 1.05)" font-size="25.3">2</text>
<text transform="translate(1007.49 158.51) scale(1 1.05)" font-size="25.3">1.5</text>
<text transform="translate(1482.69 158.51) scale(1 1.05)" font-size="25.3">1.5</text>
<text transform="translate(1028.36 211.14) scale(1 1.05)" font-size="25.3">1</text>
<text transform="translate(1503.56 211.14) scale(1 1.05)" font-size="25.3">1</text>
<text transform="translate(1007.49 263.04) scale(1 1.05)" font-size="25.3">0.5</text>
<text transform="translate(1482.69 263.04) scale(1 1.05)" font-size="25.3">0.5</text>
<text transform="translate(1028.51 311.14) scale(1 1.05)" font-size="25.3">0</text>
<text transform="translate(1503.71 311.14) scale(1 1.05)" font-size="25.3">0</text>
<text transform="translate(992.71 366.29) scale(1 1.05)" font-size="25.3">−0.5</text>
<text transform="translate(1467.91 366.29) scale(1 1.05)" font-size="25.3">−0.5</text>
<text transform="translate(1013.59 416.89) scale(1 1.05)" font-size="25.3">−1</text>
<text transform="translate(1488.79 416.89) scale(1 1.05)" font-size="25.3">−1</text>
<text transform="translate(1028.79 728.67) scale(1 1.05)" font-size="25.3">2</text>
<text transform="translate(1503.99 728.67) scale(1 1.05)" font-size="25.3">2</text>
<text transform="translate(1007.49 780.81) scale(1 1.05)" font-size="25.3">1.5</text>
<text transform="translate(1482.69 780.81) scale(1 1.05)" font-size="25.3">1.5</text>
<text transform="translate(1028.36 833.19) scale(1 1.05)" font-size="25.3">1</text>
<text transform="translate(1503.56 833.19) scale(1 1.05)" font-size="25.3">1</text>
<text transform="translate(1007.49 884.59) scale(1 1.05)" font-size="25.3">0.5</text>
<text transform="translate(1482.69 884.59) scale(1 1.05)" font-size="25.3">0.5</text>
<text transform="translate(1028.51 933.34) scale(1 1.05)" font-size="25.3">0</text>
<text transform="translate(1503.71 933.34) scale(1 1.05)" font-size="25.3">0</text>
<text transform="translate(992.71 988.69) scale(1 1.05)" font-size="25.3">−0.5</text>
<text transform="translate(1467.91 988.69) scale(1 1.05)" font-size="25.3">−0.5</text>
<text transform="translate(1013.59 1040.09) scale(1 1.05)" font-size="25.3">−1</text>
<text transform="translate(1488.79 1040.09) scale(1 1.05)" font-size="25.3">−1</text>
<text transform="translate(108.76 483.2) scale(1 1.05)" font-size="25.3">0</text>
<text transform="translate(155.39 483.2) scale(1 1.05)" font-size="25.3">20</text>
<text transform="translate(265.68 483.2) scale(1 1.05)" font-size="25.3">60</text>
<text transform="translate(368.52 483.2) scale(1 1.05)" font-size="25.3">100</text>
<text transform="translate(108.76 1104.2) scale(1 1.05)" font-size="25.3">0</text>
<text transform="translate(155.39 1104.2) scale(1 1.05)" font-size="25.3">20</text>
<text transform="translate(265.68 1104.2) scale(1 1.05)" font-size="25.3">60</text>
<text transform="translate(368.52 1104.2) scale(1 1.05)" font-size="25.3">100</text>
<text transform="translate(599.25 483.2) scale(1 1.05)" font-size="25.3">0.04</text>
<text transform="translate(709.42 483.2) scale(1 1.05)" font-size="25.3">0.02</text>
<text transform="translate(819.38 483.2) scale(1 1.05)" font-size="25.3">0.00</text>
<text transform="translate(1074.85 483.2) scale(1 1.05)" font-size="25.3">0.04</text>
<text transform="translate(1185.22 483.2) scale(1 1.05)" font-size="25.3">0.02</text>
<text transform="translate(1295.28 483.2) scale(1 1.05)" font-size="25.3">0.00</text>
<text transform="translate(1550.05 483.2) scale(1 1.05)" font-size="25.3">0.04</text>
<text transform="translate(1660.52 483.2) scale(1 1.05)" font-size="25.3">0.02</text>
<text transform="translate(1770.58 483.2) scale(1 1.05)" font-size="25.3">0.00</text>
<text transform="translate(599.25 1105.3) scale(1 1.05)" font-size="25.3">0.04</text>
<text transform="translate(709.42 1105.3) scale(1 1.05)" font-size="25.3">0.02</text>
<text transform="translate(819.38 1105.3) scale(1 1.05)" font-size="25.3">0.00</text>
<text transform="translate(1074.85 1105.2) scale(1 1.05)" font-size="25.3">0.04</text>
<text transform="translate(1185.22 1105.2) scale(1 1.05)" font-size="25.3">0.02</text>
<text transform="translate(1295.28 1105.2) scale(1 1.05)" font-size="25.3">0.00</text>
<text transform="translate(1547.05 1105.2) scale(1 1.05)" font-size="25.3">0.04</text>
<text transform="translate(1657.12 1105.2) scale(1 1.05)" font-size="25.3">0.02</text>
<text transform="translate(1767.17 1105.2) scale(1 1.05)" font-size="25.3">0.00</text>
<text transform="translate(210.57 526.1) scale(1 1.02)" font-size="32">Time (h)</text>
<text transform="translate(210.27 1146.9) scale(1 1.02)" font-size="32">Time (h)</text>
<text transform="translate(641.77 526.1) scale(1 1.02)" font-size="32">Drug−induced</text>
<text transform="translate(642.16 564.1) scale(1 1.02)" font-size="32">growth rate (h<tspan font-size="19.2" dy="-9.7">-1</tspan><tspan dy="9.7">)</tspan></text>
<text transform="translate(1123.67 526.1) scale(1 1.02)" font-size="32">Drug−induced</text>
<text transform="translate(1124.06 564.1) scale(1 1.02)" font-size="32">growth rate (h<tspan font-size="19.2" dy="-9.7">-1</tspan><tspan dy="9.7">)</tspan></text>
<text transform="translate(1596.38 526.1) scale(1 1.02)" font-size="32">Drug−induced</text>
<text transform="translate(1596.76 564.1) scale(1 1.02)" font-size="32">growth rate (h<tspan font-size="19.2" dy="-9.7">-1</tspan><tspan dy="9.7">)</tspan></text>
<text transform="translate(664.48 1147.1) scale(1 1.02)" font-size="32">Drug−induced</text>
<text transform="translate(664.86 1185.2) scale(1 1.02)" font-size="32">growth rate (h<tspan font-size="19.2" dy="-9.7">-1</tspan><tspan dy="9.7">)</tspan></text>
<text transform="translate(1123.97 1147.1) scale(1 1.02)" font-size="32">Drug−induced</text>
<text transform="translate(1124.36 1185.2) scale(1 1.02)" font-size="32">growth rate (h<tspan font-size="19.2" dy="-9.7">-1</tspan><tspan dy="9.7">)</tspan></text>
<text transform="translate(1596.67 1147.1) scale(1 1.02)" font-size="32">Drug−induced</text>
<text transform="translate(1597.06 1185.2) scale(1 1.02)" font-size="32">growth rate (h<tspan font-size="19.2" dy="-9.7">-1</tspan><tspan dy="9.7">)</tspan></text>
<text transform="translate(24.1 321.19) rotate(-90) scale(1 1.02)" font-size="32">Readout</text>
<text transform="translate(24.1 940.19) rotate(-90) scale(1 1.02)" font-size="32">Readout</text>
<text transform="translate(522.9 282.15) rotate(-90) scale(1 1.02)" font-size="32">PI</text>
<text transform="translate(522.9 899.45) rotate(-90) scale(1 1.02)" font-size="32">PI</text>
<text transform="translate(1003.3 293.76) rotate(-90) scale(1 1.02)" font-size="32">GR</text>
<text transform="translate(1003.3 910.76) rotate(-90) scale(1 1.02)" font-size="32">GR</text>
<text transform="translate(1476.5 304.93) rotate(-90) scale(1 1.02)" font-size="32">NDR</text>
<text transform="translate(1476.5 921.33) rotate(-90) scale(1 1.02)" font-size="32">NDR</text>
</svg>
</body></html>
